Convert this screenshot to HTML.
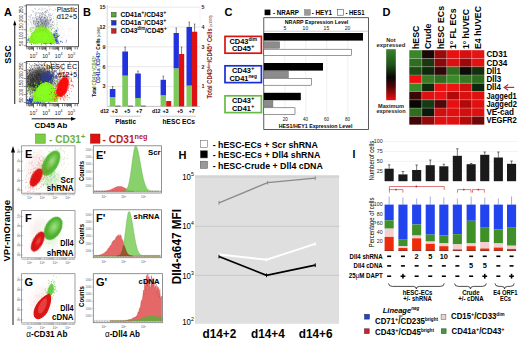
<!DOCTYPE html>
<html><head><meta charset="utf-8"><style>
html,body{margin:0;padding:0;background:#fff;overflow:hidden;}
svg{display:block;font-family:"Liberation Sans", sans-serif;}
</style></head><body>
<svg width="520" height="339" viewBox="0 0 520 339">
<rect width="520" height="339" fill="#fff"/>
<defs>
<filter id="b05" x="-50%" y="-50%" width="200%" height="200%"><feGaussianBlur stdDeviation="0.5"/></filter>
<filter id="b1" x="-50%" y="-50%" width="200%" height="200%"><feGaussianBlur stdDeviation="1"/></filter>
<filter id="b2" x="-50%" y="-50%" width="200%" height="200%"><feGaussianBlur stdDeviation="2"/></filter>
<filter id="b3" x="-50%" y="-50%" width="200%" height="200%"><feGaussianBlur stdDeviation="3"/></filter>
<linearGradient id="hg" x1="0" y1="0" x2="0" y2="1"><stop offset="0" stop-color="#38822a"/><stop offset="0.3" stop-color="#22541a"/><stop offset="0.55" stop-color="#060604"/><stop offset="0.72" stop-color="#4a0606"/><stop offset="1" stop-color="#ee1010"/></linearGradient>
<radialGradient id="gG" cx="0.5" cy="0.45" r="0.55"><stop offset="0" stop-color="#a6e08a"/><stop offset="0.6" stop-color="#6cc44a"/><stop offset="1" stop-color="#4aab2a"/></radialGradient>
<radialGradient id="gR" cx="0.55" cy="0.45" r="0.55"><stop offset="0" stop-color="#ee5050"/><stop offset="0.6" stop-color="#e01818"/><stop offset="1" stop-color="#cc1010"/></radialGradient>
<clipPath id="cA1"><rect x="26.8" y="5.4" width="51.2" height="40.8"/></clipPath>
<clipPath id="cA2"><rect x="26.8" y="62" width="51.2" height="41"/></clipPath>
<clipPath id="cE"><rect x="22" y="146.2" width="52.6" height="46.4"/></clipPath>
<clipPath id="cF"><rect x="22" y="211" width="52.6" height="46.3"/></clipPath>
<clipPath id="cG"><rect x="22" y="274.1" width="52.6" height="48.2"/></clipPath>
</defs>
<text x="4" y="16" font-size="11" font-weight="bold" text-anchor="start" fill="#000" >A</text>
<text transform="translate(11 63.7) rotate(-90)" font-size="8.6" font-weight="bold" fill="#000" text-anchor="start" textLength="18.5" lengthAdjust="spacingAndGlyphs">SSC</text>
<line x1="14.75" y1="104.00" x2="14.75" y2="24.00" stroke="#000" stroke-width="0.9" />
<path d="M13.2,25.3 L14.75,20.2 L16.3,25.3 Z" fill="#000"/>
<rect x="26.30" y="4.90" width="52.20" height="41.80" fill="#fff" stroke="#444" stroke-width="0.9"/>
<path d="M26.91,47.2v2.2M28.49,47.2v2.2M29.71,47.2v2.8M30.70,47.2v2.2M31.55,47.2v2.2M32.28,47.2v2.2M32.92,47.2v2.2M37.29,47.2v2.2M39.51,47.2v2.2M41.09,47.2v2.2M42.31,47.2v2.8M43.30,47.2v2.2M44.15,47.2v2.2M44.88,47.2v2.2M45.52,47.2v2.2M33.50,47.2v3.6M49.89,47.2v2.2M52.11,47.2v2.2M53.69,47.2v2.2M54.91,47.2v2.8M55.90,47.2v2.2M56.75,47.2v2.2M57.48,47.2v2.2M58.12,47.2v2.2M46.10,47.2v3.6M62.49,47.2v2.2M64.71,47.2v2.2M66.29,47.2v2.2M67.51,47.2v2.8M68.50,47.2v2.2M69.35,47.2v2.2M70.08,47.2v2.2M70.72,47.2v2.2M58.70,47.2v3.6M75.09,47.2v2.2M77.31,47.2v2.2M71.30,47.2v3.6" stroke="#000" stroke-width="0.55" fill="none"/>
<text x="33.5" y="58.3" font-size="5.2" font-weight="normal" text-anchor="middle" fill="#222" >10<tspan baseline-shift="2.6" font-size="3.6">2</tspan></text>
<text x="46.1" y="58.3" font-size="5.2" font-weight="normal" text-anchor="middle" fill="#222" >10<tspan baseline-shift="2.6" font-size="3.6">3</tspan></text>
<text x="58.7" y="58.3" font-size="5.2" font-weight="normal" text-anchor="middle" fill="#222" >10<tspan baseline-shift="2.6" font-size="3.6">4</tspan></text>
<text x="71.3" y="58.3" font-size="5.2" font-weight="normal" text-anchor="middle" fill="#222" >10<tspan baseline-shift="2.6" font-size="3.6">5</tspan></text>
<path d="M23.80,45.70h2.5M23.80,37.74h2.5M23.80,29.78h2.5M23.80,21.82h2.5M23.80,13.86h2.5M23.80,5.90h2.5" stroke="#333" stroke-width="0.5" fill="none"/>
<text transform="translate(22.9 45.7) rotate(-90)" font-size="4.6" font-weight="normal" fill="#222" text-anchor="start" textLength="39.800000000000004" lengthAdjust="spacingAndGlyphs">50 100 150 200 250</text>
<g clip-path="url(#cA1)">
<ellipse cx="42" cy="24" rx="8" ry="7" fill="#8890b0" opacity="0.35" transform="rotate(0 42 24)" filter="url(#b2)"/>
<path d="M40.5,25.3h0.5M40.6,20.0h0.5M36.4,20.6h0.5M48.7,24.8h0.5M48.2,23.6h0.5M44.4,23.2h0.5M32.0,27.6h0.5M45.0,25.2h0.5M31.9,10.7h0.5M36.7,19.0h0.5M43.8,21.7h0.5M45.1,17.8h0.5M43.9,24.6h0.5M38.0,33.2h0.5M45.3,29.8h0.5M38.3,17.2h0.5M39.9,21.3h0.5M45.8,23.6h0.5M39.3,15.8h0.5M38.9,29.9h0.5M37.2,23.6h0.5M44.6,12.3h0.5M42.3,30.5h0.5M29.9,19.9h0.5M41.4,16.7h0.5M45.0,21.6h0.5M33.2,27.4h0.5M46.0,28.1h0.5M50.6,24.4h0.5M42.7,13.6h0.5M45.7,18.0h0.5M39.3,13.8h0.5M36.2,18.5h0.5M49.7,8.8h0.5M33.3,23.6h0.5M50.7,25.8h0.5M30.6,5.6h0.5M44.1,17.2h0.5M35.3,28.4h0.5M48.6,23.0h0.5M43.5,24.8h0.5M51.6,26.0h0.5M45.1,25.6h0.5M32.6,30.3h0.5M47.7,25.4h0.5M30.2,17.9h0.5M47.1,10.2h0.5M40.9,28.6h0.5M34.1,32.5h0.5M45.3,21.0h0.5M43.9,26.2h0.5M42.7,29.4h0.5M38.0,19.3h0.5M48.3,22.2h0.5M36.7,28.2h0.5M50.8,19.1h0.5M33.7,21.1h0.5M41.1,20.1h0.5M50.4,15.3h0.5M49.6,13.8h0.5M37.3,26.1h0.5M48.8,27.6h0.5M44.1,22.9h0.5M42.9,25.7h0.5M40.9,23.8h0.5M45.4,22.0h0.5M46.6,25.7h0.5M54.1,24.1h0.5M39.4,19.6h0.5M41.9,28.0h0.5M40.0,24.5h0.5M53.0,5.3h0.5M35.3,23.6h0.5M44.4,23.6h0.5M39.4,26.3h0.5M43.7,18.6h0.5M56.6,24.3h0.5M38.7,21.4h0.5M40.6,21.6h0.5M25.6,18.8h0.5M48.1,14.4h0.5M41.6,28.2h0.5M47.1,31.7h0.5M31.8,19.7h0.5M40.0,26.1h0.5M48.6,4.6h0.5M48.5,12.6h0.5M46.1,12.3h0.5M43.1,29.8h0.5M41.1,23.2h0.5M46.8,22.9h0.5M41.5,32.0h0.5M48.3,20.1h0.5M58.5,14.5h0.5M47.5,20.3h0.5M42.8,26.6h0.5M43.3,26.2h0.5M32.8,12.2h0.5M45.7,15.7h0.5M35.8,12.4h0.5M49.6,26.9h0.5M50.8,15.9h0.5M42.0,14.6h0.5M46.6,32.3h0.5M36.7,32.1h0.5M47.9,20.8h0.5M30.2,31.1h0.5M41.4,18.1h0.5M44.4,24.7h0.5M51.0,15.4h0.5M48.8,31.7h0.5M50.7,20.8h0.5M37.5,28.6h0.5M42.7,22.8h0.5M50.5,20.3h0.5M28.2,19.5h0.5M30.9,27.3h0.5M43.9,18.0h0.5M41.9,27.4h0.5M42.5,30.6h0.5M41.6,28.8h0.5M50.9,32.5h0.5M38.0,27.7h0.5M30.7,15.0h0.5M30.2,28.9h0.5M34.6,21.9h0.5M40.8,21.8h0.5M38.5,23.5h0.5M52.7,22.3h0.5M45.2,28.5h0.5M40.8,13.8h0.5M38.7,29.0h0.5M32.1,18.1h0.5M48.0,27.2h0.5M42.0,27.2h0.5M43.0,14.3h0.5M32.6,17.8h0.5M47.5,18.3h0.5M36.6,17.0h0.5M32.8,21.2h0.5M34.9,24.4h0.5M27.8,24.1h0.5M38.2,9.4h0.5M46.3,20.2h0.5M28.6,16.3h0.5M43.7,19.0h0.5M46.7,26.9h0.5M46.0,24.1h0.5M50.0,26.3h0.5M44.7,8.5h0.5M47.4,30.5h0.5M40.2,18.9h0.5M53.6,10.6h0.5M44.8,37.8h0.5M36.4,26.5h0.5M53.3,21.2h0.5M45.4,27.9h0.5M36.6,21.4h0.5M43.8,27.4h0.5M41.8,20.7h0.5M35.9,19.7h0.5M47.4,22.7h0.5M36.9,16.5h0.5M58.0,29.4h0.5M45.8,5.1h0.5M45.7,25.1h0.5M52.1,24.8h0.5M41.6,25.4h0.5M30.3,28.7h0.5M43.9,17.4h0.5M50.0,33.8h0.5M33.6,17.7h0.5M43.7,23.2h0.5M39.6,15.7h0.5M54.7,28.7h0.5M34.8,13.3h0.5M52.2,28.4h0.5M52.9,27.3h0.5M36.8,23.7h0.5M29.0,17.1h0.5M41.6,25.4h0.5M37.6,21.2h0.5M44.8,24.4h0.5M45.8,23.4h0.5M40.1,27.1h0.5M42.3,16.6h0.5M38.2,22.0h0.5M41.3,23.0h0.5M42.0,23.1h0.5M41.2,13.8h0.5M44.5,28.8h0.5M44.6,20.8h0.5M44.7,15.7h0.5M30.6,22.4h0.5M36.4,26.8h0.5M35.5,4.9h0.5M35.8,32.3h0.5M39.7,13.1h0.5M37.4,25.4h0.5M45.0,23.1h0.5M50.9,26.6h0.5M41.9,25.9h0.5M51.9,28.3h0.5M48.1,15.0h0.5M41.1,26.7h0.5M40.2,28.9h0.5M45.6,27.9h0.5M40.7,38.6h0.5M49.4,20.6h0.5M42.5,38.9h0.5M39.9,27.7h0.5M47.9,22.0h0.5M35.0,23.2h0.5M44.2,29.3h0.5M46.7,22.2h0.5M47.1,25.5h0.5M43.2,22.4h0.5M40.5,26.5h0.5M35.7,17.9h0.5M42.0,12.5h0.5M39.4,8.9h0.5M37.9,25.7h0.5M45.4,21.6h0.5M40.6,12.8h0.5M53.0,25.4h0.5M48.6,16.3h0.5M40.9,10.2h0.5M46.7,28.1h0.5M30.6,21.7h0.5M45.8,10.5h0.5M31.0,15.1h0.5M38.2,12.9h0.5M42.2,23.6h0.5M45.8,26.6h0.5M51.0,29.6h0.5M34.1,18.7h0.5M35.6,15.0h0.5M41.5,22.0h0.5M44.9,11.7h0.5M34.6,21.8h0.5M40.8,20.0h0.5M41.6,17.1h0.5M46.2,24.3h0.5M41.5,17.6h0.5M41.0,4.3h0.5M36.1,22.2h0.5M33.0,23.3h0.5M42.9,13.0h0.5M40.5,20.0h0.5M44.8,26.0h0.5M41.8,16.5h0.5M41.1,21.6h0.5M46.4,23.9h0.5M37.7,13.2h0.5M39.8,17.2h0.5M35.3,21.2h0.5M39.1,22.7h0.5M45.1,19.3h0.5M55.9,19.9h0.5M48.6,22.8h0.5M48.7,6.6h0.5M37.5,23.6h0.5M45.6,37.2h0.5M43.9,30.3h0.5M46.6,28.2h0.5M45.1,21.0h0.5M45.1,15.0h0.5M49.1,15.4h0.5M43.5,35.8h0.5M40.7,22.1h0.5M49.0,22.2h0.5M37.2,23.7h0.5M45.5,26.6h0.5M37.4,33.4h0.5M52.0,22.1h0.5M43.6,19.2h0.5M50.5,17.4h0.5M46.0,18.9h0.5M37.8,26.7h0.5M50.0,21.9h0.5M37.9,27.3h0.5M41.7,24.0h0.5M51.1,29.4h0.5M38.9,36.8h0.5M42.0,27.1h0.5M38.1,21.7h0.5M31.5,33.6h0.5M50.2,14.1h0.5M33.0,11.5h0.5M49.1,19.0h0.5M41.6,20.0h0.5M41.3,14.9h0.5M42.1,12.7h0.5M41.6,24.0h0.5M44.8,20.5h0.5M36.6,23.0h0.5M39.1,32.2h0.5M46.6,21.3h0.5M39.2,17.4h0.5M36.4,19.7h0.5M43.8,25.4h0.5M45.4,35.6h0.5M37.8,22.1h0.5M58.8,9.9h0.5M38.9,23.1h0.5M42.9,24.7h0.5M40.6,24.4h0.5M42.3,27.0h0.5M30.6,16.2h0.5M42.0,15.3h0.5M35.7,26.1h0.5M38.1,26.1h0.5M46.5,24.0h0.5M45.0,21.3h0.5M33.5,21.8h0.5M44.7,18.6h0.5M41.4,26.9h0.5M36.7,26.2h0.5M53.2,18.4h0.5M42.9,21.0h0.5M51.2,24.1h0.5M47.4,17.5h0.5M41.9,21.9h0.5M31.3,31.4h0.5M47.4,10.6h0.5M46.5,21.1h0.5M44.7,24.4h0.5M33.0,20.6h0.5M51.0,18.3h0.5M35.9,13.2h0.5M34.7,24.2h0.5M52.2,24.8h0.5M43.5,36.5h0.5M38.9,17.6h0.5M45.2,25.6h0.5M35.9,14.4h0.5M43.7,23.6h0.5M34.2,20.7h0.5M38.7,25.0h0.5M41.3,21.4h0.5M39.9,28.8h0.5M50.3,19.6h0.5M47.1,17.1h0.5M42.4,26.9h0.5M51.1,19.5h0.5M41.6,23.3h0.5M33.0,22.1h0.5M37.9,24.4h0.5M35.2,9.2h0.5M42.2,23.7h0.5M38.7,27.8h0.5M40.4,18.1h0.5M44.9,11.8h0.5M37.9,21.9h0.5M47.1,20.9h0.5M43.9,17.7h0.5M43.8,32.8h0.5M37.9,37.4h0.5M38.1,22.1h0.5M43.0,28.7h0.5M34.6,8.3h0.5M45.6,27.2h0.5M45.7,39.1h0.5M43.2,23.7h0.5M47.6,24.4h0.5M52.0,14.0h0.5M39.7,-0.4h0.5M46.9,19.6h0.5M47.5,36.0h0.5M42.0,20.3h0.5M39.0,16.6h0.5M38.2,26.2h0.5M42.2,22.4h0.5M41.0,27.9h0.5M45.0,21.1h0.5M46.0,21.0h0.5M35.1,31.5h0.5M44.8,15.8h0.5M48.5,24.2h0.5M32.6,32.5h0.5M44.0,27.8h0.5M43.2,21.0h0.5M32.7,28.3h0.5M42.2,20.1h0.5M44.1,22.5h0.5M46.1,19.6h0.5M41.8,8.1h0.5M39.5,26.4h0.5M50.0,19.6h0.5M41.3,32.3h0.5M40.0,26.8h0.5M52.1,22.3h0.5M49.4,17.4h0.5M43.2,21.5h0.5M42.7,29.3h0.5M56.3,17.7h0.5M38.5,25.2h0.5M35.7,25.2h0.5M45.4,20.2h0.5M45.2,11.9h0.5M46.6,12.0h0.5M37.8,18.4h0.5M39.6,27.6h0.5M42.5,19.4h0.5M45.3,32.3h0.5M42.0,24.4h0.5M49.4,23.7h0.5M34.3,38.2h0.5M55.3,9.1h0.5M41.8,24.7h0.5M47.8,26.3h0.5M40.4,15.2h0.5M42.6,28.7h0.5M35.5,15.3h0.5M41.9,9.4h0.5M40.4,19.2h0.5M44.7,17.4h0.5M36.7,19.4h0.5M41.7,17.7h0.5M42.1,26.9h0.5M49.1,33.1h0.5M37.3,19.3h0.5M27.1,34.3h0.5M37.7,21.8h0.5M45.1,13.2h0.5M44.8,21.8h0.5M31.0,23.9h0.5M49.2,9.9h0.5M46.8,23.4h0.5M44.8,24.9h0.5M49.8,20.5h0.5M47.2,19.3h0.5M46.4,16.7h0.5M41.3,33.3h0.5M44.7,21.0h0.5M35.1,16.9h0.5M43.2,28.1h0.5M44.6,25.4h0.5M41.7,30.8h0.5M39.7,18.4h0.5M47.3,22.4h0.5M40.3,18.3h0.5M40.5,26.1h0.5M44.1,14.1h0.5M44.6,23.2h0.5M36.0,27.0h0.5M40.3,19.8h0.5M46.8,30.6h0.5M37.9,24.8h0.5M36.7,37.0h0.5" stroke="#4a5070" stroke-width="0.9" opacity="0.7" fill="none"/>
<path d="M48.1,39.9h0.3M46.2,36.1h0.3M80.6,2.6h0.3M48.8,33.0h0.3M52.9,21.3h0.3M79.8,28.8h0.3M34.3,36.5h0.3M33.3,39.5h0.3M47.1,29.4h0.3M69.1,29.2h0.3M37.3,11.0h0.3M68.2,35.4h0.3M44.2,36.6h0.3M60.0,34.5h0.3M26.9,25.0h0.3M64.8,35.3h0.3M64.6,3.4h0.3M56.0,32.9h0.3M84.6,18.5h0.3M50.0,28.4h0.3M64.6,23.6h0.3M67.8,20.1h0.3M57.2,22.7h0.3M55.9,21.1h0.3M34.8,38.9h0.3M57.6,22.4h0.3M56.4,37.9h0.3M42.3,26.9h0.3M60.5,33.3h0.3M50.0,6.9h0.3M68.9,31.3h0.3M54.2,25.2h0.3M57.2,23.7h0.3M41.7,20.6h0.3M46.8,21.9h0.3M40.1,34.4h0.3M38.3,34.6h0.3M41.8,31.5h0.3M70.5,30.0h0.3M45.2,28.5h0.3M55.8,10.7h0.3M46.7,29.6h0.3M48.4,28.8h0.3M62.8,35.7h0.3M64.9,33.9h0.3M50.5,27.8h0.3M50.7,24.9h0.3M51.8,10.8h0.3M50.0,27.8h0.3M42.3,27.8h0.3M60.2,26.4h0.3M78.9,1.9h0.3M51.5,9.7h0.3M65.8,54.5h0.3M24.0,29.3h0.3M60.2,25.0h0.3M60.6,5.6h0.3M64.2,31.7h0.3M54.3,22.1h0.3M61.7,23.1h0.3M56.7,22.9h0.3M27.0,27.7h0.3M56.4,35.5h0.3M43.5,27.7h0.3M61.4,29.5h0.3M68.9,47.9h0.3M43.1,8.8h0.3M64.3,43.3h0.3M65.1,36.1h0.3M46.6,20.9h0.3M64.7,18.9h0.3M32.2,18.0h0.3M83.9,47.2h0.3M45.8,20.7h0.3M56.8,20.5h0.3M69.7,27.2h0.3M41.0,41.1h0.3M47.0,30.2h0.3M53.8,24.9h0.3M57.9,21.1h0.3M31.9,5.9h0.3M38.8,20.4h0.3M53.7,28.6h0.3M60.7,29.2h0.3M44.5,20.9h0.3M28.6,26.3h0.3M59.8,33.3h0.3M52.5,26.3h0.3M65.2,28.2h0.3M62.9,33.8h0.3M56.6,41.1h0.3M47.1,24.4h0.3M44.3,20.0h0.3M72.7,45.6h0.3M54.3,33.7h0.3M68.1,36.1h0.3M68.5,15.4h0.3M46.3,32.5h0.3M71.2,29.0h0.3M43.7,24.5h0.3M46.1,19.4h0.3M72.0,21.7h0.3M54.2,49.6h0.3M68.2,31.4h0.3M46.7,32.1h0.3M73.5,34.2h0.3M69.1,29.0h0.3M60.2,26.0h0.3M59.1,41.0h0.3M36.8,27.4h0.3M56.9,22.3h0.3M50.3,35.9h0.3M78.0,34.3h0.3M57.9,12.5h0.3M77.1,28.8h0.3M53.6,16.8h0.3M53.3,17.0h0.3M54.9,32.7h0.3M54.4,30.8h0.3M43.8,42.3h0.3M46.2,9.8h0.3M51.7,20.4h0.3M41.9,24.5h0.3M57.5,16.2h0.3M52.3,42.3h0.3M62.2,26.5h0.3M55.5,26.8h0.3M53.4,35.3h0.3M52.9,4.0h0.3M53.7,19.1h0.3M61.8,21.9h0.3M55.8,49.8h0.3M41.4,16.8h0.3M37.1,4.1h0.3M31.5,31.6h0.3M46.3,9.3h0.3M36.2,34.2h0.3M44.7,24.3h0.3M58.0,41.6h0.3M77.3,38.3h0.3M55.7,29.8h0.3M75.6,42.3h0.3M50.3,32.6h0.3M57.4,28.5h0.3M48.0,14.7h0.3M47.6,12.6h0.3M68.7,33.4h0.3M39.5,42.0h0.3M64.7,8.9h0.3M76.1,36.1h0.3M78.8,15.7h0.3M60.4,32.2h0.3M56.4,29.7h0.3M66.6,13.1h0.3M39.1,14.1h0.3M47.3,21.9h0.3M58.4,30.7h0.3M54.4,21.2h0.3M48.7,37.5h0.3M63.2,29.0h0.3M50.1,43.5h0.3M46.9,34.5h0.3M67.8,25.3h0.3M63.9,16.8h0.3M66.2,30.0h0.3M35.0,34.7h0.3M43.3,40.8h0.3M45.9,26.4h0.3M57.4,24.7h0.3M57.1,22.5h0.3M62.1,28.1h0.3M56.5,0.5h0.3M67.9,28.3h0.3M32.6,29.0h0.3M59.6,38.7h0.3M41.0,43.5h0.3M52.1,51.9h0.3M52.2,34.8h0.3M49.6,16.8h0.3M67.2,37.1h0.3M72.5,36.6h0.3M47.1,11.4h0.3M46.2,21.2h0.3M44.2,33.8h0.3M57.9,25.3h0.3M56.1,26.5h0.3M56.6,35.5h0.3M65.5,21.1h0.3M35.9,42.3h0.3M55.4,39.1h0.3M34.3,24.7h0.3M54.3,13.6h0.3M47.8,35.2h0.3M66.9,43.9h0.3M43.6,14.0h0.3M60.2,37.4h0.3M56.3,15.0h0.3M63.4,35.9h0.3M60.6,23.1h0.3M57.6,35.9h0.3" stroke="#99a" stroke-width="0.7" opacity="0.6" fill="none"/>
<path d="M37.5,38.8h0.6M44.6,41.8h0.6M42.1,42.4h0.6M37.3,41.1h0.6M39.6,41.9h0.6M54.8,40.9h0.6M58.4,43.2h0.6M48.3,42.0h0.6M56.2,41.0h0.6M41.1,39.8h0.6M45.8,42.9h0.6M46.3,41.8h0.6M40.4,41.4h0.6M30.6,42.6h0.6M38.7,39.8h0.6M36.0,40.1h0.6M48.8,42.6h0.6M31.1,42.4h0.6M49.1,40.4h0.6M30.1,40.2h0.6M36.9,41.6h0.6M39.1,38.6h0.6M43.9,39.2h0.6M49.2,39.6h0.6M36.5,40.1h0.6M37.7,42.9h0.6M48.8,42.0h0.6M44.6,39.2h0.6M37.8,40.5h0.6M34.2,41.9h0.6M36.1,40.3h0.6M33.6,38.5h0.6M46.8,42.9h0.6M43.4,39.9h0.6M20.4,41.4h0.6M51.7,41.6h0.6M49.4,43.1h0.6M51.0,40.6h0.6M50.4,42.2h0.6M29.7,40.7h0.6M30.6,41.1h0.6M46.6,39.8h0.6M25.6,42.9h0.6M45.0,43.1h0.6M31.4,42.6h0.6M58.6,43.8h0.6M40.3,41.5h0.6M40.8,42.5h0.6M50.3,41.3h0.6M31.1,42.2h0.6M38.2,42.0h0.6M44.1,43.3h0.6M51.1,40.6h0.6M44.8,43.5h0.6M37.7,41.8h0.6M51.5,42.8h0.6M46.1,39.5h0.6M31.9,41.5h0.6M45.1,44.5h0.6M35.1,42.7h0.6M48.2,39.0h0.6M35.5,41.4h0.6M38.1,41.0h0.6M45.8,40.1h0.6M45.7,40.4h0.6M37.6,41.9h0.6M37.4,41.6h0.6M54.8,41.2h0.6M40.8,42.2h0.6M39.1,42.6h0.6M31.7,42.0h0.6M37.9,40.2h0.6M56.2,40.1h0.6M56.1,42.1h0.6M53.6,39.9h0.6M51.6,43.1h0.6M41.1,41.0h0.6M61.6,41.4h0.6M38.6,40.4h0.6M45.6,41.6h0.6M43.4,43.4h0.6M39.4,41.8h0.6M53.7,39.9h0.6M50.3,43.6h0.6M31.2,39.8h0.6M33.7,38.8h0.6M45.6,38.8h0.6M46.0,43.1h0.6M29.1,40.8h0.6M26.7,42.2h0.6M36.1,40.9h0.6M42.4,41.9h0.6M39.2,41.2h0.6M37.6,41.3h0.6M32.6,41.3h0.6M26.5,40.6h0.6M57.3,41.3h0.6M31.9,41.5h0.6M34.2,39.1h0.6M36.1,42.2h0.6M45.1,41.1h0.6M34.6,39.8h0.6M52.8,41.5h0.6M34.4,38.5h0.6M31.0,44.4h0.6M32.8,41.1h0.6M43.7,41.0h0.6M39.8,39.4h0.6M33.6,43.4h0.6M35.9,42.3h0.6M28.4,40.8h0.6M44.1,42.5h0.6M33.0,42.0h0.6M45.1,40.2h0.6M45.8,40.0h0.6M35.6,41.2h0.6M20.3,41.1h0.6M34.0,39.3h0.6M38.6,42.2h0.6M38.8,42.8h0.6M32.7,39.5h0.6M54.4,41.7h0.6M49.6,40.1h0.6M48.4,41.5h0.6M47.2,41.2h0.6M51.7,40.4h0.6M34.3,39.3h0.6M51.3,40.2h0.6M33.7,40.0h0.6M38.4,39.5h0.6M39.7,40.4h0.6M37.6,40.0h0.6M42.3,40.6h0.6M42.9,41.5h0.6M44.7,38.4h0.6M37.7,40.2h0.6M48.2,39.1h0.6M36.3,40.8h0.6M39.3,42.5h0.6M38.5,42.5h0.6M30.3,38.8h0.6M51.8,41.8h0.6M45.9,41.4h0.6M45.9,39.6h0.6M49.6,40.5h0.6M49.9,41.3h0.6M26.2,39.5h0.6M51.0,41.0h0.6M38.8,41.5h0.6M38.6,40.5h0.6M42.8,41.4h0.6M54.1,41.3h0.6M57.0,43.5h0.6M55.7,42.6h0.6M43.0,41.4h0.6M40.9,40.2h0.6M41.5,40.4h0.6M55.1,41.9h0.6M38.4,38.7h0.6M41.6,40.7h0.6M33.3,39.7h0.6M24.0,41.9h0.6M41.5,44.6h0.6M41.8,41.0h0.6M53.6,41.4h0.6M43.3,40.7h0.6M37.2,43.1h0.6M50.0,43.4h0.6M39.2,41.2h0.6M35.0,42.5h0.6M30.9,41.9h0.6M50.8,43.0h0.6M34.5,42.6h0.6M36.3,40.2h0.6M31.4,42.7h0.6M55.2,40.4h0.6M35.9,40.8h0.6M62.1,42.5h0.6M37.7,38.9h0.6M36.6,42.7h0.6M56.9,40.9h0.6M36.5,40.5h0.6M26.9,42.4h0.6M33.3,42.6h0.6M28.3,39.5h0.6M44.3,40.2h0.6M48.3,41.2h0.6M32.6,42.0h0.6M48.7,38.7h0.6M56.6,41.8h0.6M48.1,38.8h0.6M36.2,40.7h0.6M50.6,39.3h0.6M34.9,38.6h0.6M40.1,41.6h0.6M28.5,40.4h0.6M46.1,43.3h0.6M47.3,40.8h0.6M32.6,40.0h0.6M36.7,41.4h0.6M41.6,43.4h0.6M44.3,39.8h0.6M54.4,42.4h0.6M42.8,40.3h0.6M27.0,39.9h0.6M49.3,40.2h0.6M31.4,41.5h0.6M44.0,42.0h0.6M47.2,43.0h0.6M35.3,42.5h0.6M34.1,42.1h0.6M43.4,41.5h0.6M49.7,41.2h0.6M50.9,42.3h0.6M43.1,40.5h0.6M36.0,40.5h0.6M40.4,41.2h0.6M65.8,42.0h0.6M48.2,40.1h0.6M36.3,40.8h0.6M43.5,39.9h0.6M54.9,40.5h0.6M50.6,38.2h0.6M41.9,41.6h0.6M43.5,42.0h0.6M44.2,41.4h0.6M26.9,40.3h0.6M23.3,42.0h0.6M44.5,40.9h0.6M35.4,40.4h0.6M56.8,43.5h0.6M41.5,42.9h0.6M29.3,38.7h0.6M38.1,40.1h0.6M37.5,41.4h0.6M66.2,40.3h0.6M42.4,41.6h0.6M41.7,42.4h0.6M56.2,39.6h0.6M43.3,40.9h0.6M44.9,39.2h0.6M27.9,38.2h0.6M46.2,41.4h0.6M42.6,38.1h0.6M39.0,40.2h0.6M30.7,40.0h0.6M47.6,41.9h0.6M41.8,41.9h0.6M37.2,41.3h0.6M42.3,41.9h0.6M41.4,41.0h0.6M40.9,40.4h0.6M59.9,41.9h0.6M45.4,44.2h0.6M53.2,39.2h0.6M47.6,42.3h0.6M57.1,42.9h0.6M48.2,39.7h0.6M35.0,41.5h0.6M46.0,39.9h0.6M38.9,40.7h0.6M42.5,41.6h0.6M39.7,39.6h0.6M51.9,43.3h0.6M41.2,42.5h0.6M45.6,42.1h0.6M45.9,40.2h0.6M46.6,42.5h0.6M34.8,43.8h0.6M58.7,43.6h0.6M57.9,42.2h0.6M39.3,40.4h0.6M35.5,41.4h0.6M41.7,42.1h0.6M25.8,44.2h0.6M60.2,41.2h0.6M47.4,41.8h0.6M44.2,40.9h0.6M41.0,40.1h0.6M43.4,41.2h0.6M44.6,40.1h0.6M42.3,41.3h0.6M46.8,39.8h0.6M45.4,42.5h0.6M46.8,40.7h0.6M38.1,40.9h0.6M47.8,43.2h0.6M40.7,40.4h0.6M45.0,41.5h0.6M34.7,40.2h0.6M41.2,42.1h0.6M32.5,39.9h0.6M46.0,39.6h0.6M42.9,41.7h0.6M41.1,39.9h0.6M41.5,40.8h0.6M44.7,40.1h0.6M50.7,39.0h0.6M40.6,41.2h0.6M49.7,40.4h0.6" stroke="#2244aa" stroke-width="1.1" opacity="1" fill="none"/>
<path d="M55.7,35.5h0.5M56.1,43.6h0.5M53.6,39.1h0.5M52.5,40.9h0.5M57.2,37.6h0.5M52.0,38.9h0.5M57.0,41.3h0.5M56.3,31.1h0.5M53.0,42.5h0.5M51.8,41.5h0.5M58.6,40.2h0.5M57.0,36.3h0.5M51.8,37.1h0.5M54.1,37.3h0.5M56.0,37.0h0.5M54.9,39.0h0.5M54.5,44.0h0.5M55.5,37.8h0.5M54.0,35.3h0.5M57.5,38.0h0.5M52.1,35.5h0.5M54.2,35.9h0.5M56.9,33.4h0.5M55.6,38.0h0.5M51.9,37.7h0.5M54.3,39.3h0.5M53.5,38.6h0.5M50.8,33.7h0.5M56.2,41.1h0.5M54.5,35.4h0.5M56.9,30.2h0.5M52.7,39.9h0.5M55.9,33.9h0.5M50.3,42.6h0.5M54.8,34.4h0.5M54.6,40.7h0.5M48.8,41.4h0.5M56.1,30.2h0.5M56.2,31.3h0.5M57.0,38.9h0.5M59.5,35.4h0.5M54.5,41.2h0.5M53.1,35.0h0.5M53.7,37.2h0.5M52.1,39.2h0.5M55.7,37.8h0.5M58.2,36.4h0.5M57.4,35.6h0.5M56.2,30.7h0.5M54.9,36.9h0.5M53.4,35.4h0.5M53.7,35.0h0.5M49.7,35.4h0.5M53.3,35.7h0.5M52.2,37.0h0.5M56.2,36.6h0.5M53.4,42.3h0.5M56.6,40.7h0.5M57.0,36.4h0.5M54.2,41.4h0.5M53.3,37.1h0.5M55.3,38.8h0.5M53.9,40.9h0.5M54.1,40.0h0.5M56.9,39.8h0.5M56.1,33.4h0.5M51.6,35.3h0.5M55.5,42.8h0.5M51.8,38.6h0.5M52.6,34.9h0.5M53.9,39.9h0.5M55.0,41.6h0.5M52.3,40.6h0.5M56.5,37.7h0.5M55.5,35.5h0.5M52.1,36.1h0.5M53.1,47.6h0.5M53.4,43.3h0.5M54.9,38.6h0.5M56.1,34.8h0.5M56.5,38.8h0.5M51.2,39.6h0.5M55.7,39.1h0.5M58.0,36.0h0.5M55.6,40.1h0.5M52.5,41.7h0.5M51.3,32.9h0.5M55.6,33.7h0.5M54.2,31.7h0.5M54.7,33.5h0.5M55.3,32.1h0.5M55.5,36.6h0.5M54.6,37.3h0.5M54.8,32.9h0.5M48.9,37.6h0.5M52.4,35.9h0.5M55.4,30.6h0.5M52.8,35.4h0.5M52.2,38.6h0.5M54.2,34.6h0.5M52.3,40.3h0.5M53.0,39.5h0.5M55.5,30.9h0.5M52.1,37.5h0.5M55.3,40.2h0.5M56.3,41.1h0.5M53.7,36.8h0.5M56.2,36.0h0.5M56.8,31.9h0.5M55.9,36.9h0.5M50.2,40.9h0.5M55.2,37.6h0.5M52.1,35.9h0.5M57.8,34.6h0.5M46.9,34.5h0.5M51.9,37.0h0.5M53.6,34.3h0.5M52.6,41.2h0.5M51.3,44.3h0.5M53.3,33.7h0.5M56.2,39.5h0.5M52.2,40.1h0.5M50.5,34.3h0.5M57.0,36.6h0.5M51.6,39.3h0.5M56.5,37.4h0.5M50.5,36.3h0.5M55.4,40.2h0.5M58.6,36.6h0.5M53.4,37.4h0.5M57.2,34.2h0.5M57.4,27.9h0.5M56.3,35.1h0.5M55.5,39.9h0.5M51.9,37.2h0.5M55.0,39.6h0.5M52.5,34.0h0.5M50.3,46.4h0.5M54.1,36.7h0.5M51.2,40.8h0.5M53.3,42.5h0.5M56.4,37.6h0.5M56.1,33.6h0.5M53.8,35.5h0.5M51.7,37.6h0.5M54.2,42.5h0.5M47.1,35.1h0.5M52.5,35.9h0.5M55.4,38.9h0.5M54.6,35.8h0.5M55.6,38.8h0.5M50.4,36.6h0.5M51.5,33.4h0.5M54.8,37.7h0.5M54.8,34.4h0.5M54.1,34.3h0.5M55.3,39.9h0.5M58.4,41.9h0.5M52.7,35.9h0.5M52.4,38.6h0.5" stroke="#2244aa" stroke-width="1.0" opacity="1" fill="none"/>
<path d="M28.5,43 C29.5,35 35,28 41,26.6 C47,27.2 53,33.8 56.2,43 Z" fill="#84ec1c" filter="url(#b05)"/>
<path d="M54.9,38.8h0.6M27.7,31.0h0.6M33.6,38.1h0.6M42.0,37.2h0.6M53.6,32.7h0.6M36.5,43.9h0.6M44.2,32.9h0.6M28.8,29.9h0.6M26.1,36.3h0.6M42.3,40.0h0.6M41.1,33.2h0.6M37.2,43.6h0.6M30.5,36.7h0.6M42.2,38.5h0.6M39.4,38.0h0.6M47.3,35.4h0.6M39.0,35.3h0.6M35.7,35.2h0.6M40.0,36.8h0.6M50.7,41.2h0.6M39.1,38.4h0.6M43.9,39.0h0.6M42.1,37.1h0.6M39.0,32.9h0.6M47.7,41.2h0.6M46.3,37.7h0.6M43.7,34.2h0.6M30.4,38.7h0.6M43.3,33.8h0.6M35.7,41.1h0.6M30.3,43.0h0.6M46.2,45.5h0.6M37.3,35.9h0.6M38.7,36.6h0.6M40.6,33.0h0.6M49.0,32.9h0.6M38.7,38.2h0.6M38.5,34.3h0.6M44.3,34.5h0.6M33.9,35.6h0.6M40.6,42.8h0.6M34.9,39.9h0.6M36.9,34.6h0.6M39.9,37.1h0.6M47.6,43.0h0.6M37.9,41.3h0.6M48.5,39.3h0.6M37.1,39.6h0.6M41.3,37.4h0.6M40.3,38.7h0.6M49.2,40.5h0.6M40.7,40.0h0.6M51.4,32.3h0.6M51.6,30.7h0.6M45.5,38.4h0.6M51.6,37.1h0.6M38.9,32.8h0.6M33.9,39.1h0.6M40.5,33.1h0.6M45.5,32.9h0.6M39.2,34.2h0.6M52.8,41.9h0.6M41.0,29.7h0.6M43.8,36.3h0.6M44.3,38.3h0.6M39.9,39.7h0.6M47.4,36.8h0.6M39.4,34.1h0.6M46.5,31.6h0.6M41.0,33.0h0.6M32.9,38.4h0.6M41.8,36.1h0.6M47.7,30.0h0.6M41.6,37.2h0.6M47.4,31.7h0.6M46.7,36.9h0.6M50.8,40.6h0.6M45.6,44.6h0.6M42.0,34.3h0.6M39.8,32.2h0.6M41.8,28.5h0.6M41.5,37.7h0.6M48.4,34.6h0.6M51.0,33.4h0.6M41.1,28.5h0.6M37.1,32.8h0.6M51.5,38.1h0.6M35.0,38.1h0.6M45.1,35.1h0.6M42.1,34.8h0.6M38.6,29.1h0.6M41.4,41.0h0.6M51.1,34.9h0.6M37.3,35.2h0.6M47.7,37.4h0.6M38.3,37.4h0.6M40.7,38.0h0.6M39.4,30.3h0.6M42.4,39.0h0.6M35.0,35.6h0.6M47.6,34.5h0.6M37.9,43.9h0.6M47.3,40.0h0.6M36.0,42.4h0.6M31.5,34.0h0.6M46.7,41.2h0.6M36.1,33.4h0.6M43.2,28.5h0.6M46.0,38.2h0.6M39.2,38.1h0.6M46.9,37.2h0.6M45.3,41.9h0.6M39.0,36.6h0.6M38.7,40.0h0.6M39.4,37.8h0.6M42.9,36.3h0.6M52.8,35.7h0.6M50.9,39.2h0.6M50.3,35.4h0.6M47.8,38.9h0.6M38.1,37.0h0.6M41.2,35.9h0.6M50.2,33.2h0.6M31.4,29.3h0.6M39.2,33.5h0.6M42.1,38.2h0.6M53.0,37.2h0.6M44.9,33.2h0.6M45.6,41.2h0.6M50.4,28.5h0.6M47.6,42.1h0.6M47.2,30.2h0.6M40.1,38.3h0.6M44.6,32.9h0.6M36.4,39.7h0.6M33.6,41.5h0.6M42.1,37.2h0.6M33.7,33.7h0.6M46.3,30.3h0.6M55.0,30.6h0.6M34.4,36.2h0.6M45.0,38.8h0.6M39.7,35.2h0.6M40.5,33.8h0.6M25.9,39.7h0.6M43.6,36.6h0.6M38.1,37.0h0.6M41.9,35.7h0.6M48.9,29.4h0.6M43.6,31.9h0.6M40.0,41.8h0.6M35.2,35.6h0.6M38.3,39.6h0.6M35.9,29.5h0.6M45.2,34.6h0.6M40.0,40.2h0.6M36.5,34.6h0.6M42.9,37.6h0.6M38.8,40.0h0.6M56.0,34.4h0.6M53.7,27.9h0.6M50.8,34.7h0.6M42.9,34.7h0.6M38.0,31.1h0.6M39.5,41.0h0.6M49.1,34.7h0.6M38.7,33.3h0.6M34.5,42.9h0.6M46.1,36.5h0.6M38.9,32.1h0.6M50.2,39.0h0.6M36.1,39.8h0.6M35.1,38.5h0.6M36.0,34.4h0.6M45.1,37.7h0.6M48.3,32.8h0.6M51.9,41.2h0.6M41.9,37.8h0.6M37.1,35.4h0.6M33.8,36.3h0.6M43.2,41.2h0.6M47.9,39.1h0.6M39.7,35.1h0.6M39.9,36.9h0.6M30.0,39.0h0.6M32.2,34.0h0.6M42.1,34.0h0.6M52.4,35.6h0.6M51.8,40.5h0.6M38.9,37.5h0.6M50.1,34.7h0.6M42.6,33.9h0.6M42.4,34.6h0.6M42.5,39.8h0.6M50.7,36.5h0.6M43.3,39.3h0.6M40.2,31.9h0.6M48.9,32.4h0.6M47.8,32.3h0.6M53.4,32.0h0.6M47.3,41.8h0.6M36.0,41.7h0.6M36.9,29.2h0.6M46.5,38.7h0.6M40.7,26.3h0.6M41.7,34.8h0.6M39.6,34.9h0.6M30.8,33.8h0.6M53.2,41.9h0.6M39.7,33.3h0.6M44.5,40.1h0.6M46.5,31.5h0.6M43.0,36.5h0.6M51.0,40.6h0.6M45.3,40.7h0.6M39.5,41.9h0.6M39.3,37.5h0.6M47.7,32.5h0.6M37.6,29.2h0.6M43.0,35.8h0.6M40.0,37.9h0.6M28.8,35.9h0.6M42.5,35.0h0.6M47.0,42.7h0.6M39.2,32.4h0.6M38.2,36.4h0.6M45.7,32.7h0.6M48.2,32.1h0.6M47.2,37.6h0.6M44.9,44.3h0.6M40.4,35.4h0.6M45.0,39.3h0.6M33.6,37.1h0.6M37.4,38.4h0.6M50.5,36.2h0.6M41.3,36.7h0.6M23.6,39.0h0.6M45.5,36.6h0.6M39.5,33.2h0.6M40.9,40.7h0.6M41.4,41.2h0.6M26.0,34.2h0.6M43.7,35.9h0.6M31.6,33.4h0.6M49.8,31.0h0.6M35.8,31.8h0.6M38.6,38.5h0.6M45.7,28.2h0.6M51.1,33.7h0.6M38.3,42.4h0.6M41.5,31.2h0.6M38.0,33.2h0.6M35.7,34.7h0.6M47.5,37.3h0.6M33.4,46.7h0.6M35.8,36.4h0.6M42.2,38.9h0.6M40.0,37.8h0.6M55.1,36.4h0.6M35.2,37.3h0.6M37.0,34.6h0.6M43.2,37.3h0.6M40.2,39.3h0.6M40.8,31.0h0.6M47.5,34.6h0.6M49.6,33.5h0.6M45.6,37.2h0.6M25.2,30.3h0.6M35.0,41.4h0.6M30.2,39.5h0.6M48.8,37.9h0.6M46.2,34.1h0.6M41.9,36.9h0.6M44.6,38.7h0.6M40.7,33.3h0.6M38.5,37.6h0.6M31.6,31.2h0.6M39.4,33.9h0.6M40.3,25.8h0.6M39.9,35.0h0.6M46.8,28.4h0.6M40.1,37.8h0.6M45.1,40.6h0.6M48.6,32.0h0.6M46.0,34.7h0.6M37.0,41.9h0.6M38.1,32.7h0.6M39.5,32.7h0.6M48.3,37.5h0.6M50.8,37.6h0.6M38.2,40.0h0.6M37.9,34.2h0.6M41.0,36.2h0.6M49.5,33.7h0.6M44.2,35.9h0.6M34.1,31.8h0.6M40.6,37.6h0.6M44.0,37.8h0.6M42.3,34.3h0.6M44.7,32.1h0.6M33.6,34.7h0.6M33.0,34.0h0.6M37.3,33.9h0.6M41.7,32.9h0.6M39.4,29.4h0.6M42.9,32.6h0.6M44.5,25.1h0.6M37.0,36.9h0.6M26.7,34.6h0.6M42.6,36.4h0.6M32.6,36.9h0.6M42.9,32.2h0.6M46.7,35.8h0.6M42.1,34.3h0.6M45.4,36.4h0.6M49.1,37.7h0.6M38.1,35.1h0.6M47.8,34.6h0.6M44.4,38.0h0.6M40.9,27.0h0.6M42.8,36.8h0.6M42.9,33.1h0.6M49.6,35.5h0.6M38.1,33.2h0.6M44.3,31.8h0.6M35.7,43.7h0.6M50.2,40.1h0.6M50.6,38.3h0.6M31.4,40.6h0.6M49.8,37.9h0.6M29.7,40.8h0.6M50.6,34.1h0.6M42.8,39.0h0.6M41.5,40.3h0.6M42.5,38.7h0.6M42.5,30.3h0.6M35.7,48.3h0.6M43.8,41.1h0.6M49.2,42.6h0.6M45.5,33.7h0.6M42.1,28.6h0.6M40.8,39.5h0.6M28.4,36.8h0.6M47.2,41.2h0.6M36.2,33.5h0.6M30.2,32.0h0.6M45.4,44.0h0.6M34.8,41.4h0.6M44.7,34.1h0.6M55.8,26.2h0.6M41.6,36.9h0.6M55.4,43.0h0.6M56.3,36.5h0.6M48.2,41.3h0.6M45.2,37.4h0.6M40.8,34.4h0.6M34.2,43.6h0.6M39.2,27.9h0.6M43.7,35.9h0.6M43.1,43.1h0.6M41.3,35.0h0.6M37.3,35.9h0.6M39.2,36.8h0.6M61.7,37.5h0.6M36.6,43.5h0.6M47.5,39.2h0.6M46.5,39.2h0.6M46.3,41.5h0.6M48.4,41.2h0.6M38.8,36.0h0.6M37.4,39.7h0.6M47.3,34.2h0.6M45.7,46.2h0.6M49.8,31.7h0.6M41.4,38.5h0.6M41.8,37.5h0.6M49.5,37.3h0.6M35.1,38.8h0.6M41.4,36.4h0.6M38.4,30.6h0.6M34.1,34.6h0.6M35.2,25.4h0.6M49.3,31.5h0.6M37.4,38.1h0.6M26.7,41.2h0.6M37.1,38.6h0.6M39.0,37.2h0.6M42.7,36.0h0.6M30.4,30.3h0.6M41.7,41.5h0.6M38.5,38.1h0.6M43.0,37.9h0.6M48.3,30.2h0.6M43.7,35.3h0.6M40.0,32.7h0.6M37.0,32.0h0.6M35.0,45.8h0.6M52.8,36.0h0.6M46.7,32.2h0.6M24.4,28.9h0.6M42.9,41.6h0.6M41.7,32.1h0.6M40.5,32.1h0.6M33.2,35.1h0.6M39.5,32.8h0.6M36.4,32.4h0.6M43.5,41.4h0.6M40.7,44.7h0.6M31.8,37.1h0.6M34.7,35.4h0.6M42.6,38.2h0.6M49.2,33.8h0.6M34.1,35.3h0.6M43.9,33.3h0.6M47.7,42.6h0.6M33.0,37.4h0.6M48.4,28.5h0.6M43.3,35.1h0.6M33.0,41.1h0.6M43.4,34.1h0.6M44.8,38.5h0.6M46.9,38.3h0.6M44.6,31.4h0.6M39.3,36.5h0.6M24.5,44.3h0.6M39.6,31.9h0.6M30.5,37.0h0.6M42.2,33.7h0.6M39.4,32.5h0.6M37.3,35.6h0.6M37.9,38.6h0.6M41.1,36.5h0.6M44.6,41.0h0.6M45.8,36.9h0.6M41.0,32.9h0.6M39.8,38.7h0.6M43.4,34.5h0.6M33.6,30.0h0.6M44.0,40.0h0.6M44.4,30.6h0.6M40.7,36.9h0.6M36.2,37.4h0.6M40.7,32.7h0.6M34.1,39.2h0.6M44.3,32.5h0.6M35.6,39.5h0.6M45.8,34.8h0.6M52.1,34.9h0.6M35.3,40.3h0.6M40.8,37.3h0.6" stroke="#8f2" stroke-width="1.2" opacity="1" fill="none"/>
<path d="M41.2,23.1h0.4M34.6,27.1h0.4M48.5,23.1h0.4M48.3,29.1h0.4M35.0,29.3h0.4M44.0,23.6h0.4M29.6,29.7h0.4M35.1,30.1h0.4M30.8,27.3h0.4M36.7,20.8h0.4M39.7,28.8h0.4M38.0,22.3h0.4M42.1,19.5h0.4M43.9,30.4h0.4M50.0,32.3h0.4M42.9,29.3h0.4M41.1,21.6h0.4M48.8,30.6h0.4M39.5,22.4h0.4M48.9,30.6h0.4M34.7,31.3h0.4M51.1,27.9h0.4M43.1,26.0h0.4M37.6,33.2h0.4M57.5,28.6h0.4M40.3,31.9h0.4M39.4,31.5h0.4M45.4,23.1h0.4M35.3,27.6h0.4M45.4,29.3h0.4M47.6,21.3h0.4M43.6,25.0h0.4M41.5,29.6h0.4M35.8,26.9h0.4M34.8,29.3h0.4M36.5,25.6h0.4M42.2,24.8h0.4M47.1,24.9h0.4M45.5,29.4h0.4M35.5,26.9h0.4M36.5,26.2h0.4M39.6,36.8h0.4M38.8,35.6h0.4M43.4,21.7h0.4M28.7,31.3h0.4M30.4,31.5h0.4M46.5,29.9h0.4M39.9,26.8h0.4M42.4,26.5h0.4M38.1,26.2h0.4M47.2,25.0h0.4M43.0,22.4h0.4M37.2,21.3h0.4M39.9,31.3h0.4M42.6,25.6h0.4M44.3,26.3h0.4M43.0,29.3h0.4M43.9,16.0h0.4M34.1,31.7h0.4M40.4,38.9h0.4M39.7,25.3h0.4M49.0,30.7h0.4M51.1,30.5h0.4M39.9,31.5h0.4M36.8,25.8h0.4M38.0,26.9h0.4M45.1,25.7h0.4M42.7,25.6h0.4M45.7,14.7h0.4M39.9,28.8h0.4M35.3,32.9h0.4M42.2,34.2h0.4M46.1,31.1h0.4M40.2,22.7h0.4M39.8,25.8h0.4M42.3,25.8h0.4M57.2,20.3h0.4M47.2,25.7h0.4M39.7,32.5h0.4M41.0,22.1h0.4M43.2,27.1h0.4M30.1,29.0h0.4M35.4,24.4h0.4M43.6,29.4h0.4M39.5,38.5h0.4M43.2,25.0h0.4M42.3,27.4h0.4M29.3,20.4h0.4M33.6,38.0h0.4M40.0,26.7h0.4M38.0,32.7h0.4M41.1,36.2h0.4M45.2,35.9h0.4M40.4,29.8h0.4M38.7,27.2h0.4M31.8,25.2h0.4M36.0,24.9h0.4M47.5,29.3h0.4M47.5,32.1h0.4M45.9,32.8h0.4M37.8,31.9h0.4M39.3,25.4h0.4M47.3,38.4h0.4M35.8,36.4h0.4M45.4,23.9h0.4M42.4,29.8h0.4M43.0,26.3h0.4M34.2,28.2h0.4M45.6,31.8h0.4M44.5,33.3h0.4M35.7,27.8h0.4M42.8,32.8h0.4M41.8,30.5h0.4M41.7,38.1h0.4M29.4,27.9h0.4M54.1,29.1h0.4M31.3,28.6h0.4M33.4,24.7h0.4M42.2,36.3h0.4M43.5,31.2h0.4M46.4,29.0h0.4M36.5,27.5h0.4M42.8,26.7h0.4M37.5,26.3h0.4M33.0,23.1h0.4M40.5,26.3h0.4M41.2,34.8h0.4M42.6,27.8h0.4M34.8,22.8h0.4M43.0,23.8h0.4M43.3,22.8h0.4M41.7,27.6h0.4M46.3,26.1h0.4M39.0,29.2h0.4M41.3,36.1h0.4M39.6,25.4h0.4M39.3,30.3h0.4M42.2,31.3h0.4M33.7,39.9h0.4M50.7,27.8h0.4M34.6,28.7h0.4M43.2,17.3h0.4M41.1,20.9h0.4M43.4,34.6h0.4M46.5,20.8h0.4M48.3,32.4h0.4M39.1,30.4h0.4M49.0,26.4h0.4M40.9,25.3h0.4M47.1,17.6h0.4" stroke="#8c3" stroke-width="0.8" opacity="0.7" fill="none"/>
</g>
<text x="77.2" y="11.6" font-size="7.8" font-weight="normal" text-anchor="end" fill="#000"  textLength="20.5" lengthAdjust="spacingAndGlyphs">Plastic</text>
<text x="77.2" y="19.2" font-size="7.8" font-weight="normal" text-anchor="end" fill="#000"  textLength="20.5" lengthAdjust="spacingAndGlyphs">d12+5</text>
<rect x="26.30" y="61.50" width="52.20" height="42.00" fill="#fff" stroke="#444" stroke-width="0.9"/>
<path d="M26.91,104.0v2.2M28.49,104.0v2.2M29.71,104.0v2.8M30.70,104.0v2.2M31.55,104.0v2.2M32.28,104.0v2.2M32.92,104.0v2.2M37.29,104.0v2.2M39.51,104.0v2.2M41.09,104.0v2.2M42.31,104.0v2.8M43.30,104.0v2.2M44.15,104.0v2.2M44.88,104.0v2.2M45.52,104.0v2.2M33.50,104.0v3.6M49.89,104.0v2.2M52.11,104.0v2.2M53.69,104.0v2.2M54.91,104.0v2.8M55.90,104.0v2.2M56.75,104.0v2.2M57.48,104.0v2.2M58.12,104.0v2.2M46.10,104.0v3.6M62.49,104.0v2.2M64.71,104.0v2.2M66.29,104.0v2.2M67.51,104.0v2.8M68.50,104.0v2.2M69.35,104.0v2.2M70.08,104.0v2.2M70.72,104.0v2.2M58.70,104.0v3.6M75.09,104.0v2.2M77.31,104.0v2.2M71.30,104.0v3.6" stroke="#000" stroke-width="0.55" fill="none"/>
<text x="33.5" y="115" font-size="5.2" font-weight="normal" text-anchor="middle" fill="#222" >10<tspan baseline-shift="2.6" font-size="3.6">2</tspan></text>
<text x="46.1" y="115" font-size="5.2" font-weight="normal" text-anchor="middle" fill="#222" >10<tspan baseline-shift="2.6" font-size="3.6">3</tspan></text>
<text x="58.7" y="115" font-size="5.2" font-weight="normal" text-anchor="middle" fill="#222" >10<tspan baseline-shift="2.6" font-size="3.6">4</tspan></text>
<text x="71.3" y="115" font-size="5.2" font-weight="normal" text-anchor="middle" fill="#222" >10<tspan baseline-shift="2.6" font-size="3.6">5</tspan></text>
<path d="M23.80,102.50h2.5M23.80,94.50h2.5M23.80,86.50h2.5M23.80,78.50h2.5M23.80,70.50h2.5M23.80,62.50h2.5" stroke="#333" stroke-width="0.5" fill="none"/>
<text transform="translate(22.9 102.5) rotate(-90)" font-size="4.6" font-weight="normal" fill="#222" text-anchor="start" textLength="40.0" lengthAdjust="spacingAndGlyphs">50 100 150 200 250</text>
<g clip-path="url(#cA2)">
<ellipse cx="39" cy="80" rx="13" ry="12" fill="#333" opacity="0.8" transform="rotate(-30 39 80)" filter="url(#b2)"/>
<path d="M49.1,68.1h0.5M41.9,65.1h0.5M27.8,81.5h0.5M41.0,65.6h0.5M42.5,74.3h0.5M49.8,74.0h0.5M43.0,78.5h0.5M54.9,71.2h0.5M46.0,97.7h0.5M42.3,87.0h0.5M32.7,86.9h0.5M17.6,93.0h0.5M27.3,73.1h0.5M29.6,97.3h0.5M37.5,68.2h0.5M53.9,68.4h0.5M36.4,85.6h0.5M22.2,74.4h0.5M36.2,94.6h0.5M42.3,65.3h0.5M50.7,76.9h0.5M44.0,80.2h0.5M39.3,72.3h0.5M27.7,80.5h0.5M37.7,88.5h0.5M33.2,100.0h0.5M30.8,80.2h0.5M47.3,82.3h0.5M31.8,75.1h0.5M23.6,73.9h0.5M53.9,85.4h0.5M58.7,77.6h0.5M45.0,86.5h0.5M47.2,75.7h0.5M50.3,97.3h0.5M17.6,78.5h0.5M32.5,92.2h0.5M49.2,74.0h0.5M45.3,78.6h0.5M39.9,76.4h0.5M38.7,82.1h0.5M58.0,94.5h0.5M23.5,94.3h0.5M42.5,89.6h0.5M52.0,83.4h0.5M43.3,70.9h0.5M28.7,102.7h0.5M47.1,69.1h0.5M53.8,81.5h0.5M18.7,100.0h0.5M33.8,95.6h0.5M29.7,79.2h0.5M23.4,87.2h0.5M46.3,72.2h0.5M29.0,107.2h0.5M59.2,79.2h0.5M29.4,74.9h0.5M25.3,93.7h0.5M47.6,67.9h0.5M38.0,79.8h0.5M38.4,87.1h0.5M56.8,67.6h0.5M51.2,86.8h0.5M35.7,82.1h0.5M30.1,96.5h0.5M31.5,79.2h0.5M36.5,75.0h0.5M27.9,84.3h0.5M52.5,73.7h0.5M38.7,68.1h0.5M26.9,105.0h0.5M29.5,71.7h0.5M40.2,87.3h0.5M19.2,82.8h0.5M38.1,73.6h0.5M50.2,86.0h0.5M41.7,76.6h0.5M36.2,77.2h0.5M38.9,85.1h0.5M39.7,91.0h0.5M62.0,66.1h0.5M45.3,86.9h0.5M44.3,77.2h0.5M38.1,92.1h0.5M46.9,83.2h0.5M33.6,90.6h0.5M46.0,77.0h0.5M53.2,96.2h0.5M23.2,95.2h0.5M22.7,76.5h0.5M38.7,87.4h0.5M35.2,72.6h0.5M23.1,84.1h0.5M36.1,75.4h0.5M31.0,102.6h0.5M30.3,84.5h0.5M31.6,79.8h0.5M38.3,79.5h0.5M40.6,69.9h0.5M31.8,104.1h0.5M41.1,88.4h0.5M52.4,81.1h0.5M33.6,69.6h0.5M27.1,96.9h0.5M47.6,83.4h0.5M15.1,72.6h0.5M24.5,77.4h0.5M36.8,73.2h0.5M52.0,70.0h0.5M36.8,91.4h0.5M38.9,73.4h0.5M54.0,93.5h0.5M26.2,85.6h0.5M21.4,71.5h0.5M47.6,84.7h0.5M50.0,81.0h0.5M19.4,90.9h0.5M28.2,75.7h0.5M31.1,93.1h0.5M43.4,98.9h0.5M36.5,64.8h0.5M52.3,87.9h0.5M34.8,72.2h0.5M51.3,63.6h0.5M31.1,67.3h0.5M20.6,74.2h0.5M53.9,86.4h0.5M30.1,73.1h0.5M39.8,85.3h0.5M19.9,79.7h0.5M40.6,88.1h0.5M41.4,85.2h0.5M17.6,67.9h0.5M38.6,73.3h0.5M36.4,79.6h0.5M40.8,73.7h0.5M53.2,75.7h0.5M46.5,84.6h0.5M50.6,80.5h0.5M19.6,84.9h0.5M58.9,77.3h0.5M46.2,83.2h0.5M30.2,79.5h0.5M37.0,94.2h0.5M49.2,94.5h0.5M50.9,94.8h0.5M39.1,70.5h0.5M57.2,76.8h0.5M51.4,78.3h0.5M36.4,84.8h0.5M23.6,77.6h0.5M28.4,81.9h0.5M25.4,87.4h0.5M49.5,96.8h0.5M56.8,73.2h0.5M46.8,76.2h0.5M42.7,79.9h0.5M34.0,85.1h0.5M26.2,92.3h0.5M32.1,74.6h0.5M37.5,88.1h0.5M34.1,88.9h0.5M50.4,91.9h0.5M27.9,86.1h0.5M49.6,91.7h0.5M44.4,86.9h0.5M22.4,84.0h0.5M54.2,72.1h0.5M57.5,66.2h0.5M30.3,70.5h0.5M46.2,81.2h0.5M59.5,74.1h0.5M31.3,71.8h0.5M41.7,90.0h0.5M50.9,88.5h0.5M47.3,77.7h0.5M45.6,80.6h0.5M32.3,101.9h0.5M38.7,71.8h0.5M43.9,82.6h0.5M54.2,89.1h0.5M11.1,100.4h0.5M50.5,67.3h0.5M21.7,92.8h0.5M43.6,83.3h0.5M26.3,83.3h0.5M43.7,87.1h0.5M61.7,74.3h0.5M24.2,65.7h0.5M49.1,76.0h0.5M34.2,74.5h0.5M39.5,64.1h0.5M40.5,82.5h0.5M46.9,91.2h0.5M38.4,83.2h0.5M41.6,65.5h0.5M36.4,83.9h0.5M45.4,71.1h0.5M48.4,81.4h0.5M18.7,76.9h0.5M25.4,89.7h0.5M43.8,86.9h0.5M45.0,73.7h0.5M52.7,83.7h0.5M45.5,83.7h0.5M27.6,90.9h0.5M24.3,77.1h0.5M36.1,84.7h0.5M37.2,79.6h0.5M29.8,88.1h0.5M26.3,74.0h0.5M45.4,93.4h0.5M31.0,75.3h0.5M59.2,89.5h0.5M35.3,81.6h0.5M52.3,105.0h0.5M44.1,89.4h0.5M36.5,65.2h0.5M23.4,77.1h0.5M43.7,80.9h0.5M55.7,71.5h0.5M42.3,81.2h0.5M49.2,100.2h0.5M47.4,92.6h0.5M49.6,71.1h0.5M44.4,75.7h0.5M40.7,82.8h0.5M37.4,78.1h0.5M53.5,72.6h0.5M52.3,92.4h0.5M49.1,87.4h0.5M56.9,84.4h0.5M50.7,62.4h0.5M58.6,73.1h0.5M19.2,84.9h0.5M25.1,88.3h0.5M20.4,80.7h0.5M42.5,81.9h0.5M30.2,83.8h0.5M38.3,83.1h0.5M38.1,80.2h0.5M41.6,64.8h0.5M34.6,85.4h0.5M32.9,79.4h0.5M35.4,85.7h0.5M50.7,74.7h0.5M37.7,86.1h0.5M29.2,67.4h0.5M40.2,77.7h0.5M35.7,89.8h0.5M37.3,77.2h0.5M10.8,78.1h0.5M38.7,81.0h0.5M44.2,81.8h0.5M29.4,73.9h0.5M27.6,86.0h0.5M30.4,93.5h0.5M19.0,73.6h0.5M30.3,68.4h0.5M51.4,66.3h0.5M37.6,80.3h0.5M24.1,71.4h0.5M23.7,97.7h0.5M57.4,94.9h0.5M26.6,93.4h0.5M42.1,89.0h0.5M36.6,90.3h0.5M50.2,82.8h0.5M52.8,73.9h0.5M51.7,69.1h0.5M45.2,51.8h0.5M36.1,75.4h0.5M42.9,90.4h0.5M46.5,79.4h0.5M50.4,62.1h0.5M36.6,98.1h0.5M34.4,63.6h0.5M37.9,70.8h0.5M58.1,84.5h0.5M38.5,95.1h0.5M34.2,93.4h0.5M44.3,78.3h0.5M23.8,86.3h0.5M14.0,88.0h0.5M25.2,100.5h0.5M20.1,66.7h0.5M46.2,82.3h0.5M42.0,101.6h0.5M47.0,78.9h0.5M21.3,60.9h0.5M47.4,87.6h0.5M27.7,73.2h0.5M32.2,68.6h0.5M42.0,88.3h0.5M55.1,77.1h0.5M43.8,87.2h0.5M51.7,72.9h0.5M23.7,81.3h0.5M23.1,80.6h0.5M39.1,85.4h0.5M40.8,81.8h0.5M37.1,87.1h0.5M50.7,84.1h0.5M52.8,72.7h0.5M42.9,97.0h0.5M42.6,84.4h0.5M39.3,91.5h0.5M31.2,75.7h0.5M36.7,78.7h0.5M45.9,75.0h0.5M39.4,79.7h0.5M40.0,75.3h0.5M44.6,65.3h0.5M32.5,78.0h0.5M45.6,79.3h0.5M42.6,77.1h0.5M27.6,76.2h0.5M33.6,79.2h0.5M43.1,83.6h0.5M48.3,76.6h0.5M27.5,76.8h0.5M41.0,84.7h0.5M59.1,74.4h0.5M63.6,89.1h0.5M33.1,96.7h0.5M55.4,87.7h0.5M42.5,89.8h0.5M33.9,83.7h0.5M46.0,96.5h0.5M40.5,90.8h0.5M37.0,75.9h0.5M43.9,86.3h0.5M34.3,90.5h0.5M28.6,78.2h0.5M40.3,79.1h0.5M23.0,73.3h0.5M40.2,83.9h0.5M35.1,85.7h0.5M25.3,92.3h0.5M44.2,82.3h0.5M33.2,85.5h0.5M44.4,90.1h0.5M42.7,82.8h0.5M35.1,92.4h0.5M48.8,72.5h0.5M46.5,81.5h0.5M33.6,71.7h0.5M49.4,58.6h0.5M40.6,77.5h0.5M48.8,73.2h0.5M41.7,86.8h0.5M41.6,75.6h0.5M47.3,82.0h0.5M46.9,73.2h0.5M37.1,79.0h0.5M31.6,88.0h0.5M48.5,91.7h0.5M37.2,86.7h0.5M49.9,75.8h0.5M40.1,82.8h0.5M28.4,77.2h0.5M50.8,78.2h0.5M33.5,72.2h0.5M44.6,91.0h0.5M24.2,80.1h0.5M55.4,88.5h0.5M52.3,70.3h0.5M42.1,73.1h0.5M42.8,76.6h0.5M46.0,92.0h0.5M41.4,78.5h0.5M40.6,83.9h0.5M34.7,86.1h0.5M50.9,91.9h0.5M14.0,81.9h0.5M30.0,94.8h0.5M63.9,72.3h0.5M44.5,90.7h0.5M14.1,91.8h0.5M8.7,97.7h0.5M32.1,80.4h0.5M40.2,75.7h0.5M50.0,76.8h0.5M52.4,100.8h0.5M38.1,91.6h0.5M35.5,95.9h0.5M49.1,78.7h0.5M54.9,90.5h0.5M52.6,75.7h0.5M42.6,91.2h0.5M22.2,83.9h0.5M45.9,84.4h0.5M64.0,87.7h0.5M43.9,84.1h0.5M25.3,86.6h0.5M40.7,79.0h0.5M41.9,86.6h0.5M27.5,81.8h0.5M25.8,99.4h0.5M22.2,73.1h0.5M45.8,76.7h0.5M47.1,74.6h0.5M62.7,78.0h0.5M40.9,82.2h0.5M40.0,89.5h0.5M57.1,69.4h0.5M30.5,91.8h0.5M43.9,65.1h0.5M28.4,77.1h0.5M46.4,83.5h0.5M27.5,76.3h0.5M38.0,62.3h0.5M44.8,77.8h0.5M61.6,81.2h0.5M32.3,82.5h0.5M33.5,77.4h0.5M43.4,89.4h0.5M23.3,87.1h0.5M56.5,81.1h0.5M28.0,79.2h0.5M24.6,73.0h0.5M50.6,77.3h0.5M26.8,73.7h0.5M33.3,79.6h0.5M54.2,70.4h0.5M44.1,90.1h0.5M44.9,77.5h0.5M22.8,103.2h0.5M43.2,75.8h0.5M34.6,74.7h0.5M24.6,74.2h0.5M45.9,83.9h0.5M43.6,87.5h0.5M44.7,80.5h0.5M32.6,90.8h0.5M53.0,81.6h0.5M49.5,72.5h0.5M34.1,96.5h0.5M34.2,86.6h0.5M37.2,83.0h0.5M34.3,78.9h0.5M28.7,105.4h0.5M33.8,65.7h0.5M25.9,77.1h0.5M22.2,65.0h0.5M50.7,92.5h0.5M39.4,89.1h0.5M40.2,69.3h0.5M44.6,63.0h0.5M32.0,81.8h0.5M51.7,77.2h0.5M34.8,76.1h0.5M40.0,81.9h0.5M51.3,89.8h0.5M46.3,78.8h0.5M43.5,95.5h0.5M40.9,81.0h0.5M62.4,86.3h0.5M44.1,78.5h0.5M36.8,93.4h0.5M38.2,91.7h0.5M31.7,86.4h0.5M43.5,81.3h0.5M42.7,84.0h0.5M23.9,78.3h0.5M44.3,97.1h0.5M34.3,75.2h0.5M32.7,85.3h0.5M48.4,72.1h0.5M45.2,80.9h0.5M32.0,76.1h0.5M34.8,76.9h0.5M37.7,65.5h0.5M52.8,82.9h0.5M50.2,91.3h0.5M38.5,65.6h0.5M41.2,85.3h0.5M28.1,76.1h0.5M45.1,84.1h0.5M34.0,82.0h0.5M32.0,79.8h0.5M42.4,90.8h0.5M22.1,86.6h0.5M55.9,77.2h0.5M43.6,88.0h0.5M24.8,76.9h0.5M17.5,77.9h0.5M44.6,87.6h0.5M32.4,78.5h0.5M45.2,85.0h0.5M34.4,65.7h0.5M24.3,64.3h0.5M38.2,74.1h0.5M38.2,96.9h0.5M53.6,79.8h0.5M42.3,82.1h0.5M33.1,84.2h0.5M54.3,66.4h0.5M33.2,86.3h0.5M50.7,84.6h0.5M29.1,85.3h0.5M31.9,73.4h0.5M38.0,77.8h0.5M49.5,81.3h0.5M31.7,86.2h0.5M33.2,78.6h0.5M38.2,92.6h0.5M28.6,70.3h0.5M34.5,91.9h0.5M56.0,63.9h0.5M34.3,81.0h0.5M26.8,91.5h0.5M39.5,84.4h0.5M59.7,69.8h0.5M49.8,85.0h0.5M30.6,80.2h0.5M56.7,80.6h0.5M36.3,72.7h0.5M49.5,82.2h0.5M65.8,83.8h0.5M47.8,80.5h0.5M37.6,77.4h0.5M42.9,82.5h0.5M49.3,87.7h0.5M40.0,76.3h0.5M52.6,90.7h0.5M32.5,89.1h0.5M46.3,83.8h0.5M43.6,79.0h0.5M44.3,95.8h0.5M50.6,63.1h0.5M16.0,96.9h0.5M30.6,81.0h0.5M24.9,92.0h0.5M36.5,78.0h0.5M56.7,97.2h0.5M57.6,84.6h0.5M37.4,89.1h0.5M42.9,91.3h0.5M44.5,79.1h0.5M41.7,73.8h0.5M52.2,90.3h0.5M37.6,88.0h0.5M26.3,97.0h0.5M43.7,69.9h0.5M56.3,75.0h0.5M17.2,79.0h0.5M46.5,75.9h0.5M44.0,64.7h0.5M41.7,90.2h0.5M35.0,90.5h0.5M36.8,86.4h0.5M50.4,98.2h0.5M29.9,93.8h0.5M47.6,67.2h0.5M48.3,99.9h0.5M38.2,53.8h0.5M30.4,69.5h0.5M39.3,74.9h0.5M30.5,77.9h0.5M40.1,77.0h0.5M29.4,84.3h0.5M39.8,73.4h0.5M43.6,63.8h0.5M41.5,77.1h0.5M51.9,69.8h0.5M27.6,74.4h0.5M60.5,77.9h0.5M27.3,84.2h0.5M35.4,98.4h0.5M35.5,64.0h0.5M44.4,88.3h0.5M40.8,85.7h0.5M38.7,84.2h0.5M38.4,75.4h0.5M43.0,81.7h0.5M36.1,76.8h0.5M30.1,88.5h0.5M38.1,59.1h0.5M38.8,95.1h0.5M45.2,72.2h0.5M48.5,68.1h0.5M38.5,100.9h0.5M34.0,82.3h0.5M19.3,81.4h0.5M27.1,86.2h0.5M25.2,98.7h0.5M33.3,78.8h0.5M35.6,90.8h0.5M52.4,71.8h0.5M60.6,87.5h0.5M53.1,78.3h0.5M27.1,94.1h0.5M35.8,85.4h0.5M19.7,88.3h0.5M37.8,73.5h0.5M48.0,93.9h0.5M38.7,75.5h0.5M54.2,54.1h0.5M31.6,89.4h0.5M24.8,66.5h0.5M44.6,87.4h0.5M36.7,97.2h0.5M48.3,89.2h0.5M24.2,88.9h0.5M62.0,90.8h0.5M51.8,76.0h0.5M38.5,76.2h0.5M47.1,71.5h0.5M32.6,65.0h0.5M31.0,103.0h0.5M40.4,83.4h0.5M17.5,91.7h0.5M53.6,60.7h0.5M15.3,91.5h0.5M33.1,82.7h0.5M21.7,76.9h0.5M29.4,92.7h0.5M41.6,88.8h0.5M30.7,91.6h0.5M35.0,84.7h0.5M48.2,78.0h0.5M29.4,70.3h0.5M42.5,88.0h0.5M32.6,84.3h0.5M16.8,79.4h0.5M47.8,90.5h0.5M29.8,70.1h0.5M29.5,71.2h0.5M43.5,98.7h0.5M41.4,79.4h0.5M47.7,74.2h0.5M43.0,82.1h0.5M37.9,68.2h0.5M49.2,85.8h0.5M6.6,70.7h0.5M35.8,98.0h0.5M41.7,87.3h0.5M47.7,86.6h0.5M30.6,80.2h0.5M45.0,85.2h0.5M45.9,82.1h0.5M38.4,93.1h0.5M47.6,88.4h0.5M17.9,101.7h0.5M15.9,94.8h0.5M32.9,86.0h0.5M33.2,81.7h0.5M42.2,83.9h0.5M21.7,65.3h0.5M33.4,89.9h0.5M32.3,89.3h0.5M31.8,76.1h0.5M56.7,90.0h0.5M37.8,82.1h0.5M43.4,66.9h0.5M34.7,95.1h0.5M46.0,73.9h0.5M32.7,88.4h0.5M23.3,84.4h0.5M27.5,63.2h0.5M47.7,85.4h0.5M44.1,65.5h0.5M23.3,81.3h0.5M33.9,104.6h0.5M28.2,84.0h0.5M42.8,84.7h0.5M49.2,66.5h0.5M48.2,79.2h0.5M28.0,88.6h0.5M31.3,101.6h0.5M35.6,93.5h0.5M49.5,71.0h0.5M30.6,87.2h0.5M32.0,94.1h0.5M37.9,75.0h0.5M35.0,91.0h0.5M31.0,102.4h0.5M30.5,84.0h0.5M36.0,99.4h0.5M52.1,88.7h0.5M45.8,79.7h0.5M58.3,79.6h0.5M45.5,84.7h0.5M47.4,80.9h0.5M31.3,69.8h0.5M54.5,61.9h0.5M14.9,86.2h0.5M62.8,83.0h0.5M34.0,86.9h0.5M31.2,66.0h0.5M36.8,85.9h0.5M46.1,66.8h0.5M10.6,79.6h0.5M42.6,81.1h0.5M41.0,82.5h0.5M30.2,72.6h0.5M45.0,83.0h0.5M49.5,89.5h0.5M17.8,68.7h0.5M29.4,107.7h0.5M31.4,89.5h0.5M41.6,88.0h0.5M69.0,62.9h0.5M35.0,77.9h0.5M43.4,85.1h0.5M34.3,97.2h0.5M52.1,80.3h0.5M37.0,80.6h0.5M25.1,95.0h0.5M27.4,82.4h0.5M45.4,69.9h0.5M37.1,91.4h0.5M54.9,67.7h0.5M47.5,71.5h0.5M44.7,84.1h0.5M31.6,95.7h0.5M57.1,74.1h0.5M37.2,71.2h0.5M57.1,74.2h0.5M29.2,94.2h0.5M21.8,83.2h0.5M23.0,103.1h0.5M58.6,66.5h0.5M30.3,80.3h0.5M35.5,89.1h0.5M49.7,67.0h0.5M36.5,65.2h0.5M53.9,74.2h0.5M37.8,97.7h0.5M43.2,93.7h0.5M56.0,90.5h0.5M31.2,86.2h0.5M41.9,78.7h0.5M51.5,69.1h0.5M54.2,88.5h0.5M15.8,83.2h0.5M27.9,81.7h0.5M42.2,78.8h0.5M38.0,77.9h0.5M40.0,86.3h0.5M43.5,72.2h0.5M35.0,76.3h0.5M31.8,71.1h0.5M51.1,83.0h0.5M35.2,77.0h0.5M31.9,78.7h0.5M29.8,102.5h0.5M67.1,56.7h0.5M29.6,92.1h0.5M39.1,66.4h0.5M21.9,95.4h0.5M24.6,102.9h0.5M34.4,85.0h0.5M36.8,77.5h0.5M36.4,80.2h0.5M51.1,75.5h0.5M36.7,77.8h0.5M29.9,78.9h0.5M46.1,96.9h0.5M51.0,78.7h0.5M59.5,82.5h0.5M40.4,79.7h0.5M29.0,89.1h0.5M29.8,70.5h0.5M33.6,103.8h0.5M43.0,85.1h0.5M39.2,77.3h0.5M47.7,88.7h0.5M37.9,87.6h0.5M47.4,73.3h0.5M37.9,75.2h0.5M43.6,76.2h0.5M47.5,70.4h0.5M54.7,71.6h0.5M27.2,78.5h0.5M42.4,71.9h0.5M61.9,84.1h0.5M38.8,68.0h0.5M36.0,76.2h0.5M22.6,93.9h0.5M58.9,67.4h0.5M52.0,88.7h0.5M28.1,83.7h0.5M43.5,84.6h0.5M28.4,89.1h0.5M41.6,90.3h0.5M20.9,84.8h0.5M32.8,81.8h0.5M43.8,73.5h0.5M63.6,63.5h0.5M51.3,86.4h0.5M47.8,75.9h0.5M29.8,83.8h0.5M46.1,79.9h0.5M47.0,84.0h0.5M26.6,78.5h0.5M51.5,71.3h0.5M30.3,104.5h0.5M27.1,78.3h0.5M44.3,68.3h0.5M34.3,94.6h0.5M40.4,106.3h0.5M50.2,103.4h0.5M40.5,81.9h0.5M31.8,83.2h0.5M33.9,84.1h0.5M41.9,68.0h0.5M21.9,69.2h0.5M53.7,74.4h0.5M38.6,81.6h0.5M50.2,79.9h0.5M46.8,76.7h0.5M37.6,82.1h0.5M24.6,99.5h0.5M19.5,81.2h0.5M45.9,79.3h0.5M53.6,92.1h0.5M62.8,84.6h0.5M44.5,99.8h0.5M29.9,85.4h0.5M48.1,75.6h0.5M36.5,79.7h0.5M43.2,55.5h0.5M55.7,84.7h0.5M40.4,86.9h0.5M33.6,95.6h0.5M66.0,60.3h0.5M52.7,75.0h0.5M33.8,79.6h0.5M32.3,72.7h0.5M31.8,101.9h0.5M40.9,86.6h0.5M43.9,84.4h0.5M20.2,81.4h0.5M49.1,87.2h0.5M25.4,82.6h0.5M30.8,92.3h0.5M42.6,80.7h0.5M33.8,87.8h0.5M36.5,75.8h0.5M39.8,75.0h0.5M50.9,82.7h0.5M34.4,90.0h0.5M37.0,75.9h0.5M23.6,72.7h0.5M29.0,90.1h0.5M48.6,71.3h0.5M41.9,84.1h0.5M48.5,82.0h0.5M54.1,82.5h0.5M32.9,88.8h0.5M15.0,91.4h0.5M41.4,86.6h0.5M39.2,90.2h0.5M49.0,69.0h0.5M34.6,86.7h0.5M44.4,80.9h0.5M42.8,68.5h0.5M51.2,87.9h0.5M51.7,80.3h0.5M38.2,86.4h0.5M32.2,69.4h0.5M32.8,84.5h0.5M30.3,76.8h0.5M35.3,80.0h0.5M39.5,81.3h0.5M44.5,89.3h0.5M41.9,84.7h0.5M15.6,63.6h0.5M37.6,89.4h0.5M33.2,78.5h0.5M30.0,95.0h0.5M34.7,86.5h0.5M52.3,81.1h0.5M60.9,70.5h0.5M51.2,83.2h0.5M32.7,85.4h0.5M29.5,76.3h0.5M39.0,74.3h0.5M52.9,68.1h0.5M33.9,85.3h0.5M34.0,84.8h0.5M27.5,73.2h0.5M10.0,82.7h0.5M55.9,78.6h0.5M38.8,77.5h0.5M38.7,85.1h0.5M22.1,81.9h0.5M34.9,96.4h0.5M32.9,96.5h0.5M44.7,106.4h0.5M38.3,82.6h0.5M55.8,82.9h0.5M44.3,68.9h0.5M56.7,90.4h0.5M36.1,78.5h0.5M32.0,95.4h0.5M42.0,80.7h0.5M32.9,101.0h0.5M47.6,77.8h0.5M50.1,67.4h0.5M44.0,69.8h0.5M52.0,73.2h0.5M49.6,72.9h0.5M47.3,89.5h0.5M30.4,87.0h0.5M33.9,92.8h0.5M31.6,81.8h0.5M41.4,92.4h0.5M28.5,86.6h0.5M33.6,79.0h0.5M30.5,84.4h0.5M35.1,68.5h0.5M36.8,71.3h0.5M47.8,100.5h0.5M29.1,86.0h0.5M40.2,91.2h0.5M27.5,69.6h0.5M23.6,90.9h0.5M45.6,89.5h0.5M36.2,89.9h0.5M33.3,97.5h0.5M35.7,76.8h0.5M47.4,95.4h0.5M25.8,75.8h0.5M24.5,77.3h0.5M39.8,85.1h0.5M38.1,84.4h0.5M49.7,74.1h0.5M17.8,69.2h0.5M38.8,75.3h0.5M38.1,86.5h0.5M37.6,67.1h0.5M29.7,87.1h0.5M41.9,92.0h0.5M26.1,67.5h0.5M44.4,63.2h0.5M30.8,89.7h0.5M37.9,107.2h0.5M43.4,85.3h0.5M43.1,102.1h0.5M41.7,73.6h0.5M45.1,62.4h0.5M34.3,87.1h0.5M36.7,73.5h0.5M60.3,86.7h0.5M31.1,89.4h0.5M31.0,81.4h0.5M49.3,78.4h0.5M38.3,83.3h0.5M32.0,97.4h0.5M36.5,96.2h0.5M32.7,80.4h0.5M54.5,76.7h0.5M30.6,80.6h0.5M52.2,94.4h0.5M43.6,75.9h0.5M25.3,81.7h0.5M38.7,84.6h0.5M37.3,95.5h0.5M26.7,80.6h0.5M45.8,83.6h0.5M38.8,91.7h0.5M31.2,101.9h0.5M68.2,87.8h0.5M47.7,97.5h0.5M44.6,92.6h0.5M37.7,84.5h0.5M37.6,65.3h0.5M43.5,97.0h0.5M11.3,98.7h0.5M49.4,80.4h0.5M46.2,92.4h0.5M35.1,65.0h0.5M28.5,84.0h0.5M38.7,77.7h0.5M44.3,96.1h0.5M14.2,105.0h0.5M50.6,82.6h0.5M39.4,82.4h0.5M43.5,82.3h0.5M34.8,91.7h0.5M30.6,85.5h0.5M31.1,74.3h0.5M44.8,78.6h0.5M27.1,86.8h0.5M30.7,100.1h0.5M51.7,95.8h0.5M36.0,90.4h0.5M26.1,79.6h0.5M39.7,85.8h0.5M47.2,75.5h0.5M53.6,84.7h0.5M29.6,84.6h0.5M36.4,100.1h0.5M36.9,91.8h0.5M47.1,75.7h0.5M35.5,87.1h0.5M26.5,75.3h0.5M30.7,89.2h0.5M47.6,95.4h0.5M22.8,94.6h0.5M31.9,96.7h0.5M46.4,79.8h0.5M52.2,72.1h0.5M29.8,75.9h0.5M32.9,86.0h0.5M50.5,89.3h0.5M33.6,77.3h0.5M34.1,80.1h0.5M32.8,80.9h0.5M30.2,85.6h0.5M33.3,83.0h0.5M25.8,89.6h0.5M47.1,84.6h0.5M29.3,75.3h0.5M21.7,78.5h0.5M31.5,82.5h0.5M24.0,95.6h0.5M21.2,83.6h0.5M35.0,92.0h0.5M55.9,70.7h0.5M34.8,80.1h0.5M36.4,81.6h0.5M59.3,61.8h0.5M34.9,76.1h0.5M40.6,76.2h0.5M40.6,70.6h0.5M60.6,74.0h0.5M24.2,95.8h0.5M30.0,74.8h0.5M41.4,75.8h0.5M44.2,74.2h0.5M48.5,79.0h0.5M43.1,81.6h0.5M34.0,80.8h0.5M46.1,85.6h0.5M43.4,101.9h0.5M51.4,65.0h0.5M49.5,76.4h0.5M38.3,74.6h0.5M52.2,67.8h0.5M35.5,76.5h0.5M62.8,83.2h0.5M24.3,84.4h0.5M41.0,76.9h0.5M31.5,75.0h0.5M37.4,72.1h0.5M56.2,97.5h0.5M42.0,96.7h0.5M40.2,74.9h0.5M32.0,75.9h0.5M42.8,87.1h0.5M47.1,75.5h0.5M27.0,86.9h0.5M56.5,76.6h0.5M30.6,65.6h0.5M36.8,88.4h0.5M34.8,97.2h0.5M30.2,77.6h0.5M33.0,83.9h0.5M46.7,72.9h0.5M21.2,89.6h0.5M49.9,92.0h0.5M33.5,99.0h0.5M47.4,82.6h0.5M28.2,78.5h0.5M33.1,93.9h0.5M45.1,89.6h0.5M56.9,73.9h0.5M45.7,97.6h0.5M24.5,84.4h0.5M34.0,80.7h0.5M37.3,74.7h0.5M45.3,65.8h0.5M24.7,72.2h0.5M27.5,93.1h0.5M44.5,77.6h0.5M49.6,83.1h0.5M33.2,84.4h0.5M50.1,96.4h0.5M36.1,87.0h0.5M48.9,89.3h0.5M47.2,88.7h0.5M27.6,84.8h0.5M19.9,90.5h0.5M62.8,73.3h0.5M40.9,83.8h0.5M35.5,70.8h0.5M31.6,83.8h0.5M37.5,74.4h0.5M35.3,76.7h0.5M23.6,82.8h0.5M34.2,92.4h0.5M54.3,80.5h0.5M34.9,78.6h0.5M21.7,85.0h0.5M58.6,84.1h0.5M40.3,79.1h0.5M40.6,85.4h0.5M40.5,85.5h0.5M31.6,85.9h0.5M39.6,92.2h0.5M31.7,98.1h0.5M36.3,78.4h0.5M39.7,82.9h0.5M38.3,86.5h0.5M27.1,71.2h0.5M45.8,78.7h0.5M56.8,77.5h0.5M24.0,101.1h0.5M34.3,89.6h0.5M64.8,80.6h0.5M28.0,86.3h0.5M25.8,94.7h0.5M40.7,71.3h0.5M46.9,87.4h0.5M44.5,73.0h0.5M28.1,76.3h0.5M27.5,90.5h0.5M44.2,92.2h0.5M40.5,78.2h0.5M30.8,100.9h0.5M40.5,81.1h0.5M25.3,78.3h0.5M41.6,71.4h0.5M47.1,84.4h0.5M29.3,70.9h0.5M48.3,91.4h0.5M26.3,75.8h0.5M50.2,78.2h0.5M37.5,94.6h0.5M38.0,86.9h0.5M32.3,77.9h0.5M38.0,74.3h0.5M19.7,85.9h0.5M55.2,85.1h0.5M64.0,80.0h0.5M55.8,76.7h0.5M36.5,87.8h0.5M32.5,92.2h0.5M35.6,86.2h0.5M30.2,84.9h0.5M47.8,75.9h0.5M33.5,87.4h0.5M47.0,76.6h0.5M21.8,75.1h0.5M29.9,96.6h0.5M39.9,86.3h0.5M50.6,79.4h0.5M41.9,75.9h0.5M25.6,94.4h0.5M40.2,87.1h0.5M28.1,85.8h0.5M55.6,66.3h0.5M44.8,92.0h0.5M37.2,84.1h0.5M21.1,97.9h0.5M39.5,94.3h0.5M36.8,79.6h0.5M42.4,78.2h0.5M39.7,96.6h0.5M49.0,78.5h0.5M50.0,84.9h0.5M44.9,79.8h0.5M41.3,85.0h0.5M45.9,82.3h0.5M33.4,84.0h0.5M39.9,72.3h0.5M41.7,88.1h0.5M39.7,79.1h0.5M37.1,78.4h0.5M47.3,74.7h0.5M18.4,80.2h0.5M42.7,82.4h0.5M29.6,74.0h0.5M34.5,76.2h0.5M32.6,85.1h0.5M32.7,88.0h0.5M30.1,81.8h0.5M42.2,94.6h0.5M57.9,82.3h0.5M31.9,85.5h0.5M50.9,84.3h0.5M23.0,89.1h0.5M34.6,91.4h0.5M43.3,75.0h0.5M59.0,70.2h0.5M62.3,69.7h0.5M45.1,97.3h0.5M32.2,80.8h0.5M53.3,75.1h0.5M39.1,70.1h0.5M60.1,81.7h0.5M45.1,86.0h0.5M32.5,80.7h0.5M25.1,92.2h0.5M54.2,83.2h0.5M50.6,83.5h0.5M25.3,76.1h0.5M45.9,80.5h0.5M47.7,75.5h0.5M32.1,89.6h0.5M27.7,71.9h0.5M29.9,78.1h0.5M26.2,82.9h0.5M56.9,96.1h0.5M54.4,71.0h0.5M49.9,76.4h0.5M40.5,75.0h0.5M32.3,69.4h0.5M53.8,68.0h0.5M42.6,74.9h0.5M37.4,71.8h0.5M38.7,90.9h0.5M37.8,64.3h0.5M42.6,68.1h0.5M43.7,84.9h0.5M31.6,82.6h0.5M38.1,86.4h0.5M52.9,88.5h0.5M49.5,96.1h0.5M36.3,100.2h0.5M39.3,89.3h0.5M38.1,83.4h0.5M31.5,89.3h0.5M59.4,74.1h0.5M38.9,82.3h0.5M45.3,77.3h0.5M39.8,83.8h0.5M55.2,83.6h0.5M26.5,82.0h0.5M42.3,88.6h0.5M47.8,76.1h0.5M59.2,71.2h0.5M57.9,86.8h0.5M55.4,76.4h0.5M39.2,67.7h0.5M19.5,85.5h0.5M49.9,87.1h0.5M41.8,90.7h0.5M50.2,91.3h0.5M20.5,83.0h0.5M26.0,78.4h0.5M51.8,67.5h0.5M29.5,82.8h0.5M46.0,74.5h0.5M48.2,83.0h0.5M24.3,66.7h0.5M25.6,76.6h0.5M52.4,69.1h0.5M30.0,89.9h0.5M36.2,74.6h0.5M53.1,84.2h0.5M39.0,75.0h0.5M23.1,70.2h0.5M44.2,83.4h0.5M30.2,86.5h0.5M67.0,58.4h0.5M24.6,94.6h0.5M33.1,80.2h0.5M44.7,78.3h0.5M50.6,81.6h0.5M50.8,77.8h0.5M22.9,102.5h0.5M26.2,98.0h0.5M36.5,70.2h0.5M42.9,88.6h0.5M29.2,87.1h0.5M28.2,77.7h0.5M37.6,94.8h0.5M45.7,78.8h0.5M38.7,83.5h0.5M42.5,82.2h0.5M25.6,97.1h0.5M21.3,65.8h0.5M41.6,69.5h0.5M37.3,82.0h0.5M35.2,88.9h0.5M35.4,81.2h0.5M28.7,84.3h0.5M29.1,87.1h0.5M55.6,83.9h0.5M38.3,69.6h0.5M52.5,84.6h0.5M51.1,55.2h0.5M38.0,79.4h0.5M45.8,68.7h0.5M43.7,101.8h0.5M41.6,62.1h0.5M44.2,92.6h0.5M35.1,89.5h0.5M34.7,70.3h0.5M37.0,93.7h0.5M48.5,72.0h0.5M47.5,71.4h0.5M41.4,80.8h0.5M28.0,90.3h0.5M25.3,62.5h0.5M27.8,79.3h0.5M27.3,78.3h0.5M23.4,66.2h0.5M48.0,78.6h0.5M40.6,78.8h0.5M38.7,79.7h0.5M22.8,75.2h0.5M43.4,89.6h0.5M47.2,93.5h0.5M24.7,86.2h0.5M37.4,94.5h0.5M53.8,70.2h0.5M45.3,76.8h0.5M28.8,85.8h0.5M34.4,98.9h0.5M49.1,88.6h0.5M33.7,61.5h0.5M47.2,79.1h0.5M16.0,93.7h0.5M55.2,90.7h0.5M31.9,92.9h0.5M41.7,79.2h0.5M38.2,87.5h0.5M47.1,84.5h0.5M30.2,73.6h0.5M56.7,86.1h0.5M33.4,84.4h0.5M40.5,64.6h0.5M52.7,98.6h0.5M39.1,75.3h0.5M59.1,72.8h0.5M39.5,77.7h0.5M34.3,67.2h0.5M21.1,76.4h0.5M47.5,77.2h0.5M42.9,60.8h0.5M38.4,96.1h0.5M24.5,71.1h0.5M30.4,82.7h0.5M43.6,92.3h0.5M57.7,88.1h0.5M42.9,75.4h0.5M28.8,72.7h0.5M56.1,86.0h0.5M36.6,74.7h0.5M47.4,82.8h0.5M36.3,72.2h0.5M39.3,76.5h0.5M48.4,83.3h0.5M41.8,76.7h0.5M56.8,81.1h0.5M54.5,82.8h0.5M46.9,82.0h0.5M21.9,72.7h0.5M32.1,91.1h0.5M48.6,79.3h0.5M46.6,96.0h0.5M28.6,69.9h0.5M22.7,86.6h0.5M48.5,84.6h0.5M39.8,89.4h0.5M35.9,76.6h0.5M38.1,89.6h0.5M44.2,68.9h0.5M29.8,87.5h0.5M55.5,63.2h0.5M28.3,91.0h0.5M41.8,74.9h0.5M40.5,85.9h0.5M21.9,89.8h0.5M48.2,86.5h0.5M50.1,76.1h0.5M29.8,99.1h0.5M44.2,73.5h0.5M52.9,85.4h0.5M29.0,64.2h0.5M31.7,78.2h0.5M30.5,85.2h0.5M29.9,90.0h0.5M53.1,64.1h0.5M47.2,73.1h0.5M43.9,78.5h0.5M49.0,70.6h0.5M43.3,72.6h0.5M41.2,80.9h0.5M43.9,64.7h0.5M30.9,99.0h0.5M49.0,93.5h0.5M29.7,88.3h0.5M51.3,93.1h0.5M36.9,78.7h0.5M45.6,77.9h0.5M34.5,91.4h0.5M16.7,82.7h0.5M50.5,71.9h0.5M37.2,86.4h0.5M51.9,81.0h0.5M27.5,82.0h0.5M48.8,76.3h0.5M36.0,91.7h0.5" stroke="#2a2a2a" stroke-width="1.0" opacity="0.85" fill="none"/>
<ellipse cx="48" cy="77.5" rx="6.5" ry="4.2" fill="#3a4a90" opacity="0.7" transform="rotate(-10 48 77.5)" filter="url(#b1)"/>
<path d="M54.8,83.7h0.5M42.4,76.1h0.5M44.9,79.3h0.5M46.4,81.6h0.5M35.6,83.0h0.5M44.7,77.1h0.5M50.9,77.7h0.5M44.0,83.3h0.5M50.5,75.4h0.5M48.4,73.7h0.5M41.9,77.5h0.5M49.8,77.5h0.5M43.5,73.6h0.5M40.9,84.2h0.5M49.3,74.5h0.5M54.0,78.3h0.5M45.7,75.8h0.5M53.7,77.6h0.5M56.1,77.3h0.5M44.8,76.0h0.5M44.8,78.9h0.5M49.6,79.3h0.5M49.6,73.6h0.5M46.5,74.6h0.5M49.6,72.7h0.5M44.7,75.2h0.5M44.9,77.2h0.5M55.1,75.4h0.5M40.9,77.7h0.5M51.9,78.7h0.5M50.3,83.9h0.5M53.4,76.9h0.5M53.1,72.0h0.5M46.7,74.8h0.5M49.8,82.7h0.5M46.6,83.2h0.5M43.9,83.1h0.5M39.4,76.1h0.5M52.7,76.4h0.5M48.7,77.3h0.5M48.8,76.8h0.5M43.1,77.4h0.5M48.0,74.4h0.5M51.3,82.9h0.5M39.8,77.1h0.5M46.7,77.8h0.5M48.0,75.0h0.5M47.8,77.5h0.5M48.5,82.7h0.5M47.8,72.5h0.5M40.8,80.8h0.5M46.0,75.7h0.5M41.3,77.6h0.5M47.2,75.3h0.5M46.8,80.7h0.5M52.1,78.6h0.5M46.4,73.2h0.5M52.6,81.8h0.5M54.8,80.3h0.5M49.5,78.5h0.5M48.7,81.7h0.5M48.0,84.8h0.5M51.5,75.8h0.5M47.1,72.2h0.5M44.3,77.1h0.5M59.2,72.7h0.5M52.4,77.0h0.5M47.0,79.8h0.5M39.0,82.3h0.5M57.4,76.8h0.5M47.8,78.1h0.5M50.9,75.3h0.5M48.9,79.1h0.5M46.6,79.1h0.5M50.0,79.6h0.5M43.0,76.6h0.5M46.7,81.8h0.5M48.2,71.8h0.5M43.0,85.0h0.5M48.9,72.9h0.5M43.7,78.7h0.5M55.8,81.7h0.5M46.1,76.8h0.5M56.6,72.6h0.5M55.7,77.3h0.5M49.2,81.7h0.5M49.8,74.3h0.5M40.7,78.8h0.5M51.2,81.6h0.5M36.3,84.1h0.5M51.8,82.0h0.5M51.9,77.5h0.5M50.3,78.5h0.5M44.9,77.7h0.5M48.4,75.9h0.5M40.2,74.0h0.5M50.7,78.8h0.5M47.8,73.5h0.5M51.8,75.5h0.5M39.0,84.4h0.5M42.2,86.2h0.5M50.3,75.6h0.5M36.3,77.2h0.5M55.9,80.8h0.5M48.2,71.6h0.5M46.0,76.9h0.5M50.1,76.7h0.5M48.7,71.8h0.5M45.8,82.8h0.5M41.6,81.8h0.5M59.4,77.7h0.5M42.1,82.8h0.5M39.3,80.2h0.5M46.8,81.9h0.5M53.7,77.1h0.5M57.1,79.2h0.5M45.1,74.6h0.5M59.5,74.1h0.5M49.9,76.8h0.5M44.8,72.6h0.5M47.2,77.2h0.5M52.4,75.0h0.5M39.9,75.3h0.5M48.0,78.4h0.5M51.2,75.6h0.5M50.7,77.5h0.5M56.0,75.9h0.5M49.0,79.3h0.5M53.3,73.4h0.5M45.6,77.0h0.5M38.6,83.6h0.5M53.1,76.7h0.5M64.8,78.9h0.5M58.6,81.0h0.5M51.5,72.0h0.5M55.6,77.6h0.5M42.3,78.7h0.5M52.2,80.1h0.5M48.5,75.6h0.5M51.2,74.3h0.5M48.1,80.1h0.5M41.3,80.0h0.5M38.1,76.1h0.5M42.1,78.2h0.5M51.4,76.7h0.5M52.4,77.0h0.5M47.3,79.3h0.5M46.9,78.2h0.5M52.6,74.7h0.5M52.9,72.9h0.5M45.9,71.9h0.5M46.4,83.2h0.5M50.5,81.4h0.5M40.4,75.4h0.5M50.7,79.9h0.5M51.0,71.2h0.5M50.4,76.8h0.5M48.9,79.0h0.5M45.7,72.1h0.5M42.0,73.6h0.5M41.6,78.2h0.5M53.8,74.0h0.5M43.7,74.3h0.5M39.8,79.2h0.5M45.5,77.1h0.5M43.7,79.9h0.5M42.6,80.3h0.5M45.3,80.7h0.5M44.0,79.7h0.5M50.1,76.9h0.5M55.9,76.7h0.5M44.2,80.6h0.5M43.7,76.4h0.5M48.2,78.1h0.5M55.1,70.3h0.5M47.4,81.5h0.5M47.4,78.7h0.5M54.6,72.1h0.5M48.7,80.1h0.5M44.2,72.2h0.5M43.3,79.0h0.5M50.0,83.5h0.5M53.5,71.2h0.5M53.5,79.7h0.5M55.7,75.6h0.5M45.4,78.5h0.5M55.8,78.3h0.5M56.6,78.7h0.5M44.6,74.6h0.5M56.0,70.9h0.5M46.1,76.7h0.5M43.3,76.4h0.5M49.4,85.4h0.5M47.4,75.8h0.5M49.1,80.5h0.5M43.8,76.8h0.5M40.0,81.3h0.5M52.1,81.9h0.5M43.5,85.8h0.5M52.0,75.8h0.5M45.9,76.8h0.5M42.6,81.1h0.5M44.7,75.6h0.5M50.5,77.4h0.5M45.1,77.2h0.5M46.4,82.4h0.5M52.4,74.2h0.5M48.6,82.1h0.5M47.7,83.7h0.5M50.5,79.4h0.5M38.5,82.1h0.5M50.0,79.2h0.5M50.6,78.9h0.5M46.1,80.9h0.5M47.7,73.9h0.5M43.2,78.9h0.5M48.3,69.9h0.5M38.7,82.8h0.5M49.6,87.0h0.5M40.5,78.0h0.5M45.4,79.9h0.5M55.7,81.7h0.5M43.9,82.5h0.5M42.3,79.6h0.5M49.2,79.4h0.5M44.9,82.6h0.5M47.7,77.5h0.5M46.1,74.2h0.5M51.7,78.0h0.5M51.3,83.3h0.5M43.7,77.3h0.5M48.5,80.4h0.5M47.7,80.8h0.5M49.2,71.2h0.5M43.5,71.3h0.5M46.4,76.3h0.5M50.9,77.6h0.5M48.4,81.8h0.5M50.1,72.9h0.5M44.9,79.2h0.5M56.1,75.4h0.5M47.3,78.5h0.5M51.7,76.5h0.5M49.2,75.8h0.5M44.9,75.3h0.5M50.8,75.1h0.5M50.9,78.4h0.5M51.1,67.7h0.5M42.6,74.2h0.5M47.7,80.3h0.5" stroke="#2a3a9a" stroke-width="1.0" opacity="0.9" fill="none"/>
<path d="M47.8,103.1h0.6M41.0,101.5h0.6M30.7,101.7h0.6M20.2,102.3h0.6M33.1,101.8h0.6M27.0,99.5h0.6M29.2,100.9h0.6M35.0,100.5h0.6M35.0,101.9h0.6M26.2,100.9h0.6M23.9,100.3h0.6M38.3,100.0h0.6M43.9,101.7h0.6M38.2,101.1h0.6M38.1,102.5h0.6M33.6,100.3h0.6M29.8,103.6h0.6M31.9,100.4h0.6M28.9,98.7h0.6M30.1,101.4h0.6M30.2,100.0h0.6M35.4,101.6h0.6M30.4,101.4h0.6M27.3,102.2h0.6M27.2,100.5h0.6M33.8,100.4h0.6M26.3,103.9h0.6M41.9,98.6h0.6M33.7,99.3h0.6M34.8,99.2h0.6M36.4,101.7h0.6M43.0,102.6h0.6M30.3,102.3h0.6M30.3,100.8h0.6M30.1,98.6h0.6M36.5,98.2h0.6M31.6,101.7h0.6M33.7,98.9h0.6M29.2,101.9h0.6M39.4,103.2h0.6M22.4,101.6h0.6M30.2,102.0h0.6M23.1,100.8h0.6M37.1,100.1h0.6M30.9,99.7h0.6M39.5,99.2h0.6M27.6,100.5h0.6M31.1,103.9h0.6M34.6,99.9h0.6M36.4,101.5h0.6M34.7,100.9h0.6M35.7,99.4h0.6M26.0,100.4h0.6M26.5,102.0h0.6M44.4,102.7h0.6M35.6,101.5h0.6M29.0,99.2h0.6M36.2,99.0h0.6M34.8,100.8h0.6M37.4,101.1h0.6M33.6,100.2h0.6M22.9,100.5h0.6M37.1,102.4h0.6M41.1,99.6h0.6M27.5,102.0h0.6M30.3,104.5h0.6M34.8,98.9h0.6M29.7,103.1h0.6M22.3,101.2h0.6M24.9,103.2h0.6M30.4,99.6h0.6M23.0,100.0h0.6M18.0,100.4h0.6M45.8,101.1h0.6M31.4,99.4h0.6M35.0,100.4h0.6M28.0,102.9h0.6M35.6,99.8h0.6M41.7,100.9h0.6M36.0,101.2h0.6M39.9,101.8h0.6M31.0,102.0h0.6M30.7,101.2h0.6M42.6,99.6h0.6M26.9,100.5h0.6M30.1,102.8h0.6M23.7,104.1h0.6M42.3,100.4h0.6M34.1,100.5h0.6M36.9,101.9h0.6M37.4,102.0h0.6M44.3,100.8h0.6M37.1,100.7h0.6M33.2,101.3h0.6M32.7,101.5h0.6M28.0,100.8h0.6M29.5,99.4h0.6M28.9,100.3h0.6M32.1,98.9h0.6M31.5,99.5h0.6M28.2,101.3h0.6M39.5,101.4h0.6M30.1,100.4h0.6M40.9,98.8h0.6M39.7,99.0h0.6M29.3,101.1h0.6M31.7,103.3h0.6M35.9,100.9h0.6M38.6,101.1h0.6M28.3,102.5h0.6M41.8,102.7h0.6M26.1,103.6h0.6M30.6,102.0h0.6M40.0,104.2h0.6M23.5,99.6h0.6M39.9,101.7h0.6M31.2,97.0h0.6M35.6,100.7h0.6M17.7,104.7h0.6M18.3,100.2h0.6M33.0,101.3h0.6M37.4,100.6h0.6M27.7,100.5h0.6M20.6,99.5h0.6M44.6,100.1h0.6M32.5,103.6h0.6M39.2,101.2h0.6M37.3,100.6h0.6M27.7,102.4h0.6M33.8,103.2h0.6M31.5,100.5h0.6M35.0,100.7h0.6M31.2,99.8h0.6M34.5,101.4h0.6M43.8,101.0h0.6M22.7,101.6h0.6M46.5,100.4h0.6M28.3,100.8h0.6M16.2,100.5h0.6M31.9,98.9h0.6M36.4,99.8h0.6M22.1,100.0h0.6M36.7,103.6h0.6M40.4,101.3h0.6M30.0,100.6h0.6M38.7,100.3h0.6M35.5,102.3h0.6M27.7,100.2h0.6M35.6,101.0h0.6M32.3,100.3h0.6M32.6,103.5h0.6M41.0,98.8h0.6M33.3,101.1h0.6M33.2,99.1h0.6M32.2,101.2h0.6M29.0,101.4h0.6M18.7,98.9h0.6M33.6,101.5h0.6M32.0,100.4h0.6M34.1,102.5h0.6M38.3,100.9h0.6M30.3,102.5h0.6M36.2,102.2h0.6M31.4,99.8h0.6M34.1,100.1h0.6M39.8,102.2h0.6M20.2,101.9h0.6M40.8,102.4h0.6M30.2,99.8h0.6M38.7,102.4h0.6M33.4,99.4h0.6M24.0,101.4h0.6M28.1,100.1h0.6M35.6,102.4h0.6M20.8,100.1h0.6M40.7,100.9h0.6M31.0,101.9h0.6M26.3,99.3h0.6M33.1,103.1h0.6M39.0,101.0h0.6M39.0,100.4h0.6M26.1,98.7h0.6M34.6,102.2h0.6M35.2,100.9h0.6M30.6,102.5h0.6M32.7,99.0h0.6M41.1,100.1h0.6M35.3,101.0h0.6M39.2,101.3h0.6M40.2,101.3h0.6M30.3,100.3h0.6M36.8,99.9h0.6M38.5,100.7h0.6M27.5,99.8h0.6M32.1,103.4h0.6M37.5,101.0h0.6M27.7,103.6h0.6M31.4,101.0h0.6M30.5,102.8h0.6M34.0,100.4h0.6M34.1,99.6h0.6M26.8,100.8h0.6M16.0,102.6h0.6M44.7,99.5h0.6M32.2,98.8h0.6M34.0,101.3h0.6M37.4,99.2h0.6M29.5,100.1h0.6M31.6,104.1h0.6M31.8,100.9h0.6M30.0,102.1h0.6M48.1,102.6h0.6M42.0,99.5h0.6M39.2,101.0h0.6M40.4,102.5h0.6M36.9,98.7h0.6M33.8,100.3h0.6M35.6,101.1h0.6M39.2,98.8h0.6M28.6,100.9h0.6M34.9,100.4h0.6M32.8,101.1h0.6M39.2,100.8h0.6M34.4,98.5h0.6M17.6,99.0h0.6M35.1,97.8h0.6M35.4,100.9h0.6M33.0,100.0h0.6M30.5,102.1h0.6M35.1,101.0h0.6M30.1,101.3h0.6M40.0,101.0h0.6M30.8,99.4h0.6M33.6,99.7h0.6M24.5,102.2h0.6M29.3,98.2h0.6M28.8,103.5h0.6M32.4,99.2h0.6M26.5,102.0h0.6M35.4,101.3h0.6M31.8,101.7h0.6M42.1,101.7h0.6M32.0,99.1h0.6M35.6,103.2h0.6M36.8,99.3h0.6M34.1,102.8h0.6M29.3,101.7h0.6M40.1,103.3h0.6M23.6,98.6h0.6M35.2,102.0h0.6" stroke="#2244aa" stroke-width="1.1" opacity="1" fill="none"/>
<path d="M32.6,101.8 C33,92.5 39,82.6 46,82 C52.5,82.5 57.2,89.5 58,101.8 Z" fill="#84ec1c" filter="url(#b05)"/>
<path d="M43.2,92.9h0.6M42.9,98.9h0.6M31.3,94.3h0.6M37.3,89.7h0.6M35.7,88.5h0.6M45.3,93.1h0.6M56.9,91.9h0.6M47.7,94.7h0.6M47.2,100.2h0.6M46.4,93.7h0.6M44.8,93.0h0.6M45.1,97.9h0.6M45.6,93.3h0.6M45.2,96.7h0.6M42.5,97.6h0.6M41.8,96.4h0.6M57.8,94.1h0.6M44.9,87.2h0.6M50.2,93.1h0.6M51.3,89.8h0.6M48.8,101.9h0.6M48.1,91.4h0.6M37.2,93.0h0.6M49.7,95.9h0.6M38.3,87.9h0.6M39.2,88.0h0.6M43.7,94.3h0.6M57.8,94.0h0.6M54.8,84.9h0.6M55.4,96.9h0.6M48.3,97.1h0.6M49.5,102.4h0.6M50.7,84.4h0.6M34.3,100.9h0.6M45.0,99.5h0.6M43.3,89.8h0.6M43.3,94.6h0.6M46.7,89.9h0.6M48.9,96.0h0.6M39.6,87.5h0.6M32.9,91.5h0.6M45.6,89.6h0.6M41.6,92.3h0.6M45.7,95.8h0.6M50.8,95.2h0.6M52.7,88.2h0.6M49.4,94.8h0.6M38.8,89.7h0.6M48.3,93.4h0.6M37.4,90.3h0.6M55.3,97.2h0.6M46.0,99.7h0.6M39.7,92.2h0.6M51.7,91.3h0.6M38.3,95.9h0.6M55.8,80.5h0.6M46.5,86.8h0.6M43.6,86.0h0.6M62.2,89.6h0.6M45.8,89.5h0.6M39.1,90.8h0.6M46.8,101.7h0.6M47.3,100.7h0.6M38.7,93.4h0.6M42.7,85.3h0.6M69.4,91.8h0.6M47.1,89.3h0.6M41.8,87.9h0.6M52.1,91.0h0.6M44.6,93.9h0.6M37.6,94.1h0.6M44.4,95.2h0.6M43.0,93.2h0.6M48.8,97.8h0.6M41.1,97.8h0.6M39.2,92.1h0.6M46.3,93.7h0.6M29.5,88.2h0.6M44.3,97.6h0.6M41.0,100.5h0.6M33.9,93.4h0.6M49.0,93.1h0.6M47.2,97.6h0.6M40.3,95.9h0.6M52.3,91.8h0.6M30.6,87.1h0.6M40.0,87.8h0.6M48.3,89.0h0.6M61.4,95.8h0.6M37.1,91.6h0.6M55.3,96.4h0.6M39.0,98.1h0.6M42.4,103.9h0.6M42.0,95.9h0.6M49.1,90.8h0.6M44.5,98.7h0.6M48.7,92.7h0.6M48.4,101.6h0.6M51.5,95.4h0.6M47.6,85.3h0.6M46.4,90.6h0.6M50.2,90.0h0.6M48.4,87.8h0.6M51.3,89.4h0.6M45.3,95.9h0.6M43.4,93.0h0.6M52.3,101.7h0.6M33.9,88.5h0.6M49.8,97.6h0.6M42.5,93.5h0.6M44.3,104.2h0.6M44.2,87.1h0.6M35.5,86.7h0.6M53.9,91.1h0.6M58.0,96.2h0.6M48.0,96.2h0.6M50.6,97.5h0.6M39.2,90.2h0.6M42.0,93.5h0.6M43.9,86.9h0.6M41.0,101.8h0.6M59.1,88.8h0.6M47.9,92.8h0.6M40.1,96.5h0.6M45.1,101.2h0.6M48.4,91.5h0.6M28.5,92.5h0.6M50.9,89.5h0.6M51.2,96.4h0.6M34.2,92.0h0.6M47.6,96.7h0.6M46.5,92.9h0.6M43.3,91.6h0.6M45.5,87.8h0.6M49.6,91.4h0.6M48.9,90.5h0.6M48.1,93.6h0.6M51.2,95.3h0.6M51.5,92.2h0.6M45.1,91.7h0.6M37.4,92.4h0.6M52.5,96.8h0.6M40.0,94.5h0.6M50.3,86.3h0.6M47.7,94.6h0.6M50.3,94.3h0.6M34.3,83.1h0.6M58.2,91.1h0.6M53.7,99.2h0.6M46.1,87.4h0.6M54.3,92.8h0.6M48.8,95.4h0.6M51.6,98.0h0.6M36.4,86.1h0.6M46.4,93.0h0.6M50.5,92.3h0.6M44.3,103.0h0.6M54.3,98.7h0.6M52.2,89.1h0.6M45.0,92.7h0.6M38.5,88.7h0.6M46.5,87.0h0.6M49.0,95.3h0.6M44.0,91.3h0.6M49.4,95.4h0.6M47.8,87.0h0.6M35.1,103.1h0.6M41.3,91.2h0.6M33.8,89.1h0.6M40.8,96.9h0.6M28.5,86.1h0.6M42.9,90.6h0.6M40.5,90.8h0.6M35.4,94.3h0.6M53.2,93.8h0.6M42.1,99.2h0.6M48.6,87.9h0.6M41.8,90.0h0.6M45.2,99.0h0.6M41.0,92.3h0.6M46.2,87.1h0.6M42.4,96.0h0.6M52.8,83.8h0.6M50.0,91.6h0.6M53.8,96.1h0.6M58.1,94.5h0.6M43.0,88.9h0.6M36.3,95.7h0.6M48.8,97.0h0.6M47.8,85.6h0.6M42.9,91.8h0.6M46.5,96.8h0.6M54.6,94.4h0.6M32.2,88.0h0.6M31.8,89.2h0.6M37.8,94.2h0.6M44.1,98.5h0.6M52.4,90.8h0.6M51.6,93.1h0.6M48.4,99.6h0.6M38.1,92.7h0.6M55.4,89.3h0.6M46.9,93.7h0.6M42.8,86.6h0.6M41.1,88.2h0.6M52.4,94.2h0.6M50.0,87.2h0.6M48.7,93.7h0.6M52.2,89.5h0.6M50.7,99.7h0.6M57.1,88.4h0.6M38.3,85.8h0.6M51.7,95.9h0.6M47.7,88.8h0.6M53.6,100.9h0.6M45.3,92.4h0.6M53.1,95.5h0.6M54.1,91.0h0.6M47.7,91.3h0.6M41.8,91.5h0.6M43.7,95.5h0.6M43.6,93.3h0.6M40.3,87.0h0.6M54.7,88.2h0.6M57.2,97.6h0.6M30.8,89.9h0.6M42.8,93.1h0.6M44.4,90.0h0.6M53.6,92.4h0.6M51.7,89.6h0.6M41.1,99.5h0.6M43.7,87.6h0.6M44.4,98.2h0.6M44.5,89.5h0.6M49.6,97.8h0.6M44.2,91.4h0.6M43.2,106.2h0.6M44.3,101.5h0.6M44.6,95.0h0.6M32.4,93.9h0.6M45.8,91.5h0.6M42.9,86.3h0.6M35.9,93.8h0.6M41.4,92.6h0.6M44.4,90.5h0.6M40.8,102.1h0.6M38.4,90.5h0.6M43.6,87.4h0.6M39.4,97.2h0.6M51.5,93.6h0.6M66.3,97.1h0.6M53.4,89.0h0.6M52.5,101.2h0.6M43.1,101.8h0.6M40.3,87.5h0.6M45.2,89.1h0.6M49.6,87.6h0.6M46.1,83.4h0.6M45.3,98.1h0.6M43.8,94.5h0.6M52.5,87.6h0.6M37.4,93.4h0.6M47.3,91.7h0.6M39.3,98.9h0.6M38.1,91.7h0.6M45.2,96.5h0.6M42.6,89.0h0.6M58.4,88.9h0.6M50.6,92.3h0.6M42.5,92.8h0.6M43.9,94.5h0.6M29.2,92.9h0.6M46.0,88.3h0.6M43.0,104.4h0.6M57.4,96.1h0.6M47.0,91.5h0.6M54.4,90.8h0.6M40.3,96.4h0.6M39.3,89.1h0.6M54.8,85.2h0.6M45.1,93.6h0.6M47.2,85.9h0.6M44.1,91.4h0.6M57.9,97.9h0.6M40.7,97.3h0.6M49.7,92.5h0.6M44.0,91.7h0.6M35.6,89.9h0.6M51.5,100.1h0.6M57.4,91.2h0.6M49.5,81.3h0.6M43.8,86.8h0.6M50.8,84.9h0.6M38.8,87.6h0.6M48.1,97.1h0.6M39.6,101.8h0.6M46.6,88.9h0.6M47.8,92.9h0.6M50.9,94.7h0.6M59.6,98.7h0.6M41.4,96.8h0.6M50.4,88.1h0.6M40.7,89.1h0.6M29.7,96.1h0.6M44.1,99.0h0.6M41.9,93.4h0.6M50.2,97.7h0.6M47.6,87.9h0.6M59.7,97.2h0.6M54.3,100.9h0.6M54.5,95.0h0.6M48.6,96.1h0.6M35.9,97.0h0.6M39.3,95.1h0.6M39.1,96.5h0.6M42.4,105.1h0.6M46.8,95.5h0.6M39.7,91.6h0.6M45.2,91.6h0.6M42.7,88.7h0.6M50.4,91.1h0.6M40.3,94.8h0.6M40.3,92.2h0.6M42.3,88.5h0.6M44.1,89.0h0.6M37.5,94.7h0.6M43.6,85.9h0.6M43.0,93.9h0.6M48.3,94.8h0.6M47.2,95.9h0.6M42.4,89.1h0.6M49.5,91.0h0.6M45.6,96.2h0.6M51.6,99.0h0.6M41.1,91.2h0.6M49.1,86.0h0.6M37.5,96.0h0.6M41.6,88.5h0.6M50.7,95.6h0.6M51.4,91.4h0.6M43.7,91.4h0.6M47.5,83.1h0.6M41.1,96.5h0.6M40.6,92.7h0.6M46.4,95.5h0.6M42.5,87.5h0.6M61.5,89.5h0.6M56.5,84.5h0.6M46.3,92.1h0.6M57.7,102.9h0.6M51.8,88.1h0.6M40.4,89.3h0.6M42.3,94.3h0.6M40.5,91.8h0.6M55.0,100.0h0.6M33.7,88.4h0.6M43.2,99.3h0.6M43.4,102.3h0.6M47.9,100.0h0.6M40.1,91.5h0.6M52.1,95.8h0.6M33.6,91.7h0.6M46.7,96.1h0.6M41.5,101.5h0.6M46.5,100.0h0.6M48.1,93.4h0.6M43.5,87.3h0.6M51.1,96.7h0.6M51.5,91.2h0.6M39.1,91.2h0.6M43.6,92.9h0.6M51.8,88.6h0.6M42.5,96.4h0.6M51.3,103.7h0.6M48.9,88.9h0.6M38.9,89.2h0.6M46.0,94.2h0.6M45.1,90.0h0.6M44.4,92.6h0.6M49.4,93.4h0.6M40.4,87.3h0.6M55.0,92.6h0.6M44.5,92.9h0.6M52.8,91.5h0.6M46.7,91.9h0.6M49.3,88.1h0.6M46.9,98.0h0.6M53.1,96.0h0.6M47.5,100.6h0.6M50.1,99.8h0.6M37.9,87.7h0.6M50.7,91.7h0.6M42.8,88.4h0.6M55.0,87.2h0.6M46.3,86.3h0.6M44.5,103.9h0.6M61.1,90.6h0.6M39.1,100.9h0.6M40.1,84.4h0.6M47.8,87.8h0.6M36.3,98.5h0.6M40.9,87.9h0.6M46.7,92.1h0.6M52.7,93.5h0.6M55.7,98.5h0.6M56.9,98.4h0.6M46.0,95.6h0.6M45.7,85.5h0.6M38.1,96.6h0.6M30.5,89.0h0.6M37.4,92.7h0.6M39.0,94.2h0.6M44.3,90.7h0.6M40.2,82.3h0.6M46.1,86.8h0.6M43.7,94.8h0.6M52.3,96.4h0.6M55.0,86.1h0.6M49.9,100.6h0.6M48.1,87.6h0.6M48.1,90.5h0.6M41.5,98.2h0.6M44.5,87.6h0.6M41.3,102.5h0.6M40.2,96.3h0.6M46.7,98.7h0.6M43.8,88.4h0.6M41.5,88.0h0.6M62.1,94.0h0.6M43.6,99.1h0.6M49.8,92.1h0.6M49.6,94.3h0.6M52.8,101.0h0.6M43.6,92.8h0.6M44.4,98.9h0.6M48.0,96.8h0.6M51.3,89.9h0.6M46.4,99.7h0.6M51.5,96.9h0.6M43.8,91.3h0.6M40.2,91.7h0.6M45.2,86.1h0.6M53.0,89.3h0.6M47.2,95.9h0.6M42.1,84.3h0.6M51.7,95.0h0.6M44.0,98.5h0.6M51.3,88.4h0.6M45.1,84.5h0.6M43.9,99.8h0.6M40.3,97.0h0.6M36.0,91.6h0.6M51.6,101.3h0.6M48.5,96.7h0.6M56.5,81.2h0.6M34.8,102.2h0.6M61.3,95.9h0.6M46.0,94.3h0.6M45.8,90.0h0.6M45.5,92.4h0.6M49.9,96.3h0.6M51.8,95.9h0.6M39.5,99.7h0.6M28.7,93.6h0.6M47.7,90.5h0.6M57.5,87.7h0.6M38.2,90.6h0.6M48.3,96.9h0.6M46.3,96.2h0.6M41.2,90.1h0.6M46.4,86.5h0.6M46.8,91.1h0.6M49.9,88.1h0.6M42.3,90.3h0.6M43.3,88.2h0.6M44.0,86.5h0.6M49.0,96.3h0.6M45.5,92.1h0.6M40.0,88.4h0.6M44.2,88.6h0.6M38.2,93.8h0.6M45.5,91.1h0.6M40.5,92.8h0.6M41.2,90.9h0.6M46.8,96.5h0.6M50.4,90.1h0.6M53.2,87.4h0.6M44.5,99.3h0.6M60.6,93.6h0.6M43.3,91.2h0.6M38.0,92.3h0.6M42.9,89.4h0.6M53.2,89.3h0.6M56.3,97.1h0.6M49.6,90.2h0.6M42.4,83.4h0.6M47.3,91.7h0.6M48.0,89.8h0.6M48.7,85.8h0.6M31.8,95.3h0.6M52.4,77.8h0.6M53.7,91.3h0.6M44.6,85.6h0.6M39.3,96.4h0.6M41.0,92.8h0.6M44.6,102.6h0.6M51.2,86.6h0.6M42.6,87.5h0.6M36.9,89.7h0.6M52.5,93.2h0.6M49.8,92.4h0.6M42.9,93.4h0.6M45.1,102.3h0.6M56.9,94.8h0.6M49.4,83.4h0.6M44.8,104.6h0.6M40.6,96.9h0.6M53.3,91.1h0.6M44.2,90.8h0.6M50.6,93.1h0.6M55.0,98.7h0.6M45.5,105.6h0.6M43.7,90.1h0.6M44.1,88.8h0.6M43.0,92.7h0.6M51.2,85.4h0.6M36.8,89.3h0.6M43.7,95.2h0.6M40.6,100.3h0.6M42.3,92.0h0.6M45.9,98.7h0.6M47.5,93.1h0.6M42.2,93.8h0.6M48.1,91.3h0.6M45.4,84.1h0.6M42.3,98.7h0.6M54.5,92.7h0.6M32.0,101.9h0.6M44.5,105.4h0.6M43.0,97.9h0.6M41.7,99.7h0.6M52.8,87.9h0.6M53.7,106.9h0.6M44.2,87.1h0.6M47.3,91.1h0.6M36.2,87.9h0.6M47.1,85.6h0.6M52.4,95.2h0.6M44.5,99.8h0.6M39.8,96.3h0.6M37.1,91.4h0.6M49.6,90.4h0.6M44.9,96.2h0.6M55.1,99.3h0.6M48.4,91.7h0.6M36.5,101.3h0.6M57.3,82.6h0.6M51.0,92.8h0.6M50.0,94.5h0.6M44.4,93.0h0.6M45.3,98.7h0.6M43.9,90.4h0.6M49.7,96.1h0.6M48.3,94.4h0.6M54.8,98.4h0.6M46.9,92.0h0.6M49.7,83.9h0.6M42.3,89.6h0.6M46.6,91.1h0.6M61.0,96.6h0.6M48.1,103.9h0.6M45.6,91.5h0.6M53.3,97.0h0.6M51.4,98.9h0.6M43.3,89.8h0.6M41.1,93.5h0.6M51.8,87.9h0.6M42.2,86.5h0.6M58.1,96.9h0.6M46.9,87.1h0.6M39.1,89.9h0.6M45.8,86.8h0.6M44.1,98.9h0.6M45.6,93.5h0.6M32.5,91.7h0.6M44.6,89.6h0.6M36.9,92.7h0.6M39.2,90.3h0.6M35.6,92.5h0.6M51.2,88.9h0.6M47.6,85.6h0.6M49.2,95.6h0.6M43.1,97.3h0.6M40.1,93.2h0.6M56.1,92.9h0.6M38.5,98.6h0.6M48.9,91.7h0.6M34.2,83.8h0.6M36.1,100.2h0.6M47.4,88.9h0.6M52.8,100.1h0.6M40.3,95.4h0.6M35.3,94.8h0.6M56.9,86.1h0.6M45.9,89.9h0.6M45.0,93.4h0.6M47.3,97.3h0.6M48.8,98.1h0.6M51.9,98.4h0.6M41.3,95.0h0.6M43.2,88.9h0.6M57.8,94.4h0.6M45.8,82.7h0.6M44.1,96.8h0.6M44.3,90.3h0.6M54.8,91.5h0.6M43.5,92.5h0.6M44.1,98.1h0.6M49.1,92.7h0.6M43.3,91.9h0.6M56.1,91.5h0.6M49.6,85.3h0.6M47.6,96.4h0.6M53.5,94.5h0.6M49.2,94.6h0.6M52.2,103.0h0.6M46.8,89.0h0.6M49.3,92.5h0.6M49.5,96.8h0.6M46.5,90.9h0.6M47.5,86.9h0.6M47.3,88.7h0.6M48.4,93.6h0.6M44.2,87.1h0.6M45.9,89.7h0.6M44.7,96.4h0.6M51.5,86.7h0.6M51.4,99.6h0.6M52.6,94.4h0.6M45.0,101.5h0.6M43.6,85.6h0.6M46.1,94.4h0.6M39.1,87.1h0.6M57.9,93.6h0.6M50.4,90.2h0.6M36.1,92.1h0.6M53.9,89.7h0.6M34.4,92.2h0.6M43.8,93.1h0.6M39.1,91.5h0.6M42.2,97.3h0.6M46.5,97.3h0.6M45.3,82.6h0.6M33.4,95.6h0.6M51.0,97.3h0.6M45.1,84.3h0.6M42.5,95.0h0.6M54.1,91.3h0.6M42.1,89.2h0.6M51.9,97.2h0.6M34.2,98.9h0.6M39.8,85.8h0.6M35.7,89.5h0.6M60.0,105.5h0.6M37.8,89.7h0.6M46.6,95.0h0.6M42.6,85.3h0.6M43.0,89.7h0.6M34.4,93.7h0.6M36.5,84.5h0.6M55.0,97.6h0.6M54.6,93.6h0.6M43.0,92.6h0.6M37.1,96.6h0.6M47.3,91.5h0.6M33.9,92.5h0.6M55.7,100.1h0.6M51.0,91.3h0.6M46.4,95.7h0.6M46.8,98.1h0.6M41.4,81.7h0.6M30.5,88.6h0.6M37.0,96.2h0.6M52.3,93.0h0.6M48.9,93.4h0.6M46.7,90.7h0.6M43.1,98.8h0.6M43.9,92.8h0.6M53.0,97.8h0.6M43.1,94.2h0.6M39.3,93.6h0.6M47.5,93.0h0.6M46.6,94.8h0.6M29.8,89.0h0.6M46.0,90.6h0.6M39.6,91.8h0.6M55.6,91.9h0.6M41.5,90.7h0.6M38.2,95.4h0.6M39.4,97.5h0.6" stroke="#8f2" stroke-width="1.2" opacity="1" fill="none"/>
<ellipse cx="62.5" cy="87" rx="5.3" ry="10.6" fill="#ee1111" opacity="1" transform="rotate(20 62.5 87)" filter="url(#b05)"/>
<path d="M64.1,91.8h0.5M66.1,87.7h0.5M57.0,84.5h0.5M68.2,77.8h0.5M56.0,92.6h0.5M60.8,96.2h0.5M64.5,88.2h0.5M61.9,93.0h0.5M62.9,85.6h0.5M64.3,85.4h0.5M72.1,84.9h0.5M60.6,76.9h0.5M66.9,85.6h0.5M63.6,85.8h0.5M66.8,78.0h0.5M64.2,83.4h0.5M64.6,92.3h0.5M60.7,79.3h0.5M61.6,95.4h0.5M65.4,86.9h0.5M71.7,73.2h0.5M63.1,80.1h0.5M57.9,89.4h0.5M62.8,89.2h0.5M60.7,90.9h0.5M66.4,84.3h0.5M67.8,82.2h0.5M71.3,80.7h0.5M64.1,79.7h0.5M59.6,95.5h0.5M55.9,97.6h0.5M66.2,91.2h0.5M58.5,92.1h0.5M55.0,78.7h0.5M65.8,87.9h0.5M72.2,85.6h0.5M58.7,84.1h0.5M60.4,98.7h0.5M56.4,85.9h0.5M68.2,84.2h0.5M63.9,78.7h0.5M63.1,93.3h0.5M63.9,89.3h0.5M66.1,87.4h0.5M63.0,93.1h0.5M65.6,91.9h0.5M61.2,91.7h0.5M61.6,73.8h0.5M67.5,89.8h0.5M60.5,82.0h0.5M61.9,87.3h0.5M57.7,92.5h0.5M50.4,103.1h0.5M55.1,96.5h0.5M68.7,76.9h0.5M58.4,85.9h0.5M64.4,84.6h0.5M62.2,88.1h0.5M58.6,86.0h0.5M71.5,85.6h0.5M57.6,90.1h0.5M64.5,95.4h0.5M60.6,85.8h0.5M63.7,85.9h0.5M61.3,94.5h0.5M64.4,87.6h0.5M57.7,98.4h0.5M53.8,98.5h0.5M64.8,88.5h0.5M55.8,98.0h0.5M64.4,94.4h0.5M73.7,77.9h0.5M63.6,85.1h0.5M60.0,86.6h0.5M63.1,91.1h0.5M65.2,78.3h0.5M63.0,91.6h0.5M67.4,95.6h0.5M65.3,79.6h0.5M73.2,85.9h0.5M61.4,92.1h0.5M61.1,96.3h0.5M60.7,81.3h0.5M66.0,79.2h0.5M57.2,95.3h0.5M63.8,86.7h0.5M60.5,86.6h0.5M65.0,80.0h0.5M68.2,79.7h0.5M67.6,86.4h0.5M58.6,74.2h0.5M65.6,81.7h0.5M65.3,98.2h0.5M67.4,95.4h0.5M68.5,84.7h0.5M67.9,85.8h0.5M65.6,78.1h0.5M61.8,89.7h0.5M65.0,79.7h0.5M63.4,94.1h0.5M60.4,92.0h0.5M68.2,81.8h0.5M66.8,74.9h0.5M58.1,88.5h0.5M58.7,88.5h0.5M68.6,74.0h0.5M57.3,96.3h0.5M62.3,87.8h0.5M64.0,75.7h0.5M50.4,103.8h0.5M64.0,81.1h0.5M67.5,74.5h0.5M63.2,99.9h0.5M59.3,88.2h0.5M57.5,91.5h0.5M60.1,85.1h0.5M65.7,92.0h0.5M65.1,76.7h0.5M54.3,92.9h0.5M64.1,88.0h0.5M66.4,89.5h0.5M60.3,85.4h0.5M62.2,86.8h0.5M69.6,93.9h0.5M64.1,85.7h0.5M62.6,79.7h0.5M57.3,81.7h0.5M61.8,73.0h0.5M64.2,72.6h0.5M64.2,96.9h0.5M54.4,99.2h0.5M70.8,71.3h0.5M65.0,80.5h0.5M57.3,83.2h0.5M65.4,91.3h0.5M59.2,80.9h0.5M57.2,93.6h0.5M64.5,80.5h0.5M64.2,73.0h0.5M57.5,91.9h0.5M55.6,85.9h0.5M60.2,92.2h0.5M56.5,91.6h0.5M62.3,104.0h0.5M57.1,84.8h0.5M61.5,87.6h0.5M57.1,91.4h0.5M66.9,99.8h0.5M60.7,82.0h0.5M64.7,88.8h0.5M57.0,94.2h0.5M61.8,94.4h0.5M58.9,95.2h0.5M63.6,79.1h0.5M65.8,77.8h0.5M65.0,93.4h0.5M56.4,86.1h0.5M66.3,85.7h0.5M65.3,83.7h0.5M62.5,86.4h0.5M66.5,81.2h0.5M57.9,87.8h0.5M59.6,89.8h0.5M64.0,77.7h0.5M64.4,89.7h0.5M65.8,85.7h0.5M58.3,94.9h0.5M52.6,96.4h0.5M64.4,87.3h0.5M61.4,91.1h0.5M59.2,87.9h0.5M63.7,73.6h0.5M63.0,87.9h0.5M63.4,91.5h0.5M63.0,93.1h0.5M56.0,93.7h0.5M73.0,86.6h0.5M56.6,90.0h0.5M63.2,94.8h0.5M71.1,79.8h0.5M62.7,90.5h0.5M68.9,82.7h0.5M63.5,84.6h0.5M62.3,85.8h0.5M66.2,75.2h0.5M62.2,87.4h0.5M69.7,63.1h0.5M61.7,81.8h0.5M55.7,96.5h0.5M66.1,86.9h0.5M56.7,109.5h0.5M58.1,88.9h0.5M56.9,96.1h0.5M66.6,87.6h0.5M66.5,82.5h0.5M55.1,90.6h0.5M68.8,87.0h0.5M65.0,74.5h0.5M72.7,81.7h0.5M59.7,84.5h0.5M66.5,88.9h0.5M62.4,87.1h0.5M65.5,87.8h0.5M63.2,86.7h0.5M55.5,94.5h0.5M63.3,77.4h0.5M60.9,86.7h0.5M68.8,78.3h0.5M57.8,86.6h0.5M66.4,80.2h0.5M58.2,86.8h0.5M65.9,76.1h0.5M56.0,95.7h0.5M56.4,92.6h0.5M53.7,94.9h0.5M69.5,84.8h0.5M58.7,90.3h0.5M57.0,89.1h0.5M66.0,90.3h0.5M64.0,86.4h0.5M67.9,82.8h0.5M68.0,88.8h0.5M65.3,75.8h0.5M60.4,88.0h0.5M70.6,77.9h0.5M63.7,82.3h0.5M58.4,85.5h0.5M57.8,91.8h0.5M51.6,88.5h0.5M60.7,71.8h0.5M65.1,85.4h0.5M65.3,80.8h0.5M60.7,80.8h0.5M64.3,81.4h0.5M63.1,80.8h0.5M66.0,79.8h0.5M61.7,67.1h0.5M62.2,87.6h0.5M67.6,83.3h0.5M62.2,75.7h0.5M66.6,83.8h0.5M66.0,87.7h0.5M66.0,74.4h0.5M58.3,91.4h0.5M58.8,90.7h0.5M54.5,91.7h0.5M69.3,97.8h0.5M66.6,79.2h0.5M62.3,82.0h0.5M68.0,73.9h0.5M57.7,91.2h0.5M61.2,92.1h0.5M68.2,80.5h0.5M56.8,88.4h0.5M62.4,87.6h0.5M57.3,92.7h0.5M61.4,95.1h0.5M59.6,91.1h0.5M64.6,80.7h0.5M66.2,76.0h0.5M61.5,88.0h0.5M67.4,80.9h0.5M59.7,80.5h0.5M57.0,80.1h0.5M71.0,91.2h0.5M61.6,81.6h0.5M71.3,81.5h0.5M62.3,86.3h0.5M61.7,81.3h0.5M58.8,79.4h0.5M63.5,98.0h0.5M59.9,91.3h0.5M63.8,88.3h0.5M59.1,94.9h0.5M65.0,86.2h0.5M59.5,92.9h0.5M62.2,81.5h0.5M62.8,83.4h0.5M65.9,90.9h0.5M63.5,83.4h0.5M66.2,91.7h0.5M67.4,95.6h0.5M63.1,83.1h0.5M61.1,87.8h0.5M64.0,91.2h0.5M71.5,78.9h0.5M66.0,77.7h0.5M60.5,81.8h0.5M62.6,79.8h0.5M54.6,92.6h0.5M59.1,93.0h0.5M64.3,70.3h0.5M58.4,92.1h0.5M59.7,88.9h0.5M55.5,94.9h0.5M61.4,94.5h0.5M58.5,95.1h0.5M63.9,83.9h0.5M60.2,86.6h0.5M62.3,78.0h0.5M61.2,91.8h0.5M59.5,92.2h0.5M70.9,80.6h0.5M65.7,81.0h0.5M59.9,87.4h0.5M53.0,88.1h0.5M64.0,91.6h0.5M60.3,99.8h0.5M58.6,93.8h0.5M66.2,92.0h0.5M56.8,83.8h0.5M65.4,76.0h0.5M60.5,91.9h0.5M62.1,85.5h0.5M69.0,84.8h0.5M59.2,86.1h0.5M64.9,92.3h0.5M63.9,83.8h0.5M64.6,94.4h0.5M55.8,87.0h0.5M50.8,93.9h0.5M66.1,83.6h0.5M58.8,83.4h0.5M55.2,88.6h0.5M65.0,74.7h0.5M59.6,94.8h0.5M59.0,83.1h0.5M68.2,90.5h0.5M60.2,87.6h0.5M67.6,81.3h0.5M66.1,76.1h0.5M60.8,74.9h0.5M64.6,90.1h0.5M62.1,95.9h0.5M62.1,88.6h0.5M62.8,90.6h0.5M59.5,83.9h0.5M61.9,87.0h0.5M60.3,85.2h0.5M63.0,88.6h0.5M62.5,93.1h0.5M62.1,94.0h0.5M62.0,97.2h0.5M66.1,83.7h0.5M67.7,97.3h0.5M65.0,93.3h0.5M65.4,79.5h0.5M64.8,85.2h0.5M66.3,72.4h0.5M70.6,81.2h0.5M57.7,88.7h0.5M66.3,82.5h0.5M61.9,88.6h0.5M61.8,90.7h0.5M66.0,85.5h0.5M51.8,99.3h0.5M63.6,80.0h0.5M63.6,91.8h0.5M54.8,101.7h0.5M51.4,92.5h0.5M61.6,89.0h0.5M64.1,85.9h0.5M66.7,78.8h0.5M56.7,98.7h0.5M50.8,91.9h0.5M57.0,78.6h0.5M66.5,85.4h0.5M64.1,76.4h0.5M62.5,85.7h0.5M64.1,75.9h0.5M62.0,90.0h0.5M65.1,91.8h0.5M64.8,96.8h0.5M48.9,94.5h0.5M64.7,79.9h0.5M61.7,93.9h0.5M60.2,76.9h0.5M66.2,84.2h0.5M66.9,90.2h0.5M63.8,77.5h0.5M68.7,76.4h0.5M61.2,76.7h0.5M64.2,100.3h0.5M62.7,84.2h0.5M61.9,96.1h0.5M54.5,100.5h0.5M59.1,94.2h0.5M54.6,83.7h0.5M55.4,99.2h0.5M64.8,78.3h0.5M70.8,84.9h0.5M65.5,78.7h0.5M64.3,89.1h0.5M62.5,84.0h0.5M62.3,81.5h0.5M54.8,93.2h0.5M68.9,78.9h0.5M57.6,88.2h0.5M70.7,88.4h0.5M62.0,84.9h0.5M63.8,86.1h0.5M63.8,94.8h0.5M60.6,98.1h0.5M63.0,83.1h0.5M77.3,77.9h0.5M62.9,69.5h0.5M66.3,80.4h0.5M71.1,74.5h0.5M63.0,84.2h0.5M56.1,93.0h0.5M60.1,89.5h0.5M60.3,87.3h0.5M60.8,86.9h0.5M63.8,82.4h0.5M64.4,86.3h0.5M61.7,78.9h0.5M60.8,96.3h0.5M59.1,82.6h0.5M61.5,94.4h0.5M67.8,80.1h0.5M60.5,93.0h0.5M63.9,85.8h0.5M58.1,86.6h0.5M62.2,87.1h0.5M64.8,96.7h0.5M59.2,87.5h0.5M61.2,87.3h0.5M65.8,95.1h0.5M64.2,82.7h0.5M61.1,89.2h0.5M58.2,93.6h0.5M65.4,79.2h0.5M76.4,70.4h0.5M61.9,85.9h0.5M63.2,95.6h0.5M63.7,99.1h0.5M63.3,88.1h0.5M66.0,88.1h0.5M59.3,82.4h0.5M63.3,91.8h0.5M55.9,93.5h0.5M67.2,77.5h0.5M61.7,94.2h0.5M65.1,85.6h0.5M57.1,93.4h0.5M63.3,87.2h0.5M63.6,79.7h0.5M57.0,82.4h0.5M64.4,93.4h0.5M56.5,96.2h0.5" stroke="#f11" stroke-width="1.0" opacity="1" fill="none"/>
</g>
<text x="77.2" y="69.4" font-size="7.8" font-weight="normal" text-anchor="end" fill="#000"  textLength="31" lengthAdjust="spacingAndGlyphs">hESC EC</text>
<text x="77.2" y="76.6" font-size="7.8" font-weight="normal" text-anchor="end" fill="#000"  textLength="19.5" lengthAdjust="spacingAndGlyphs">d12+5</text>
<line x1="31.70" y1="118.80" x2="71.50" y2="118.80" stroke="#000" stroke-width="0.9" />
<path d="M71,116.9 L76.2,118.8 L71,120.7 Z" fill="#000"/>
<text x="34.6" y="127.5" font-size="8" font-weight="bold" text-anchor="start" fill="#000"  textLength="32.7" lengthAdjust="spacingAndGlyphs">CD45 Ab</text>
<text x="83" y="16.3" font-size="11" font-weight="bold" text-anchor="start" fill="#000" >B</text>
<line x1="107.20" y1="86.55" x2="200.00" y2="86.55" stroke="#d8d8d8" stroke-width="0.6" />
<line x1="107.20" y1="66.70" x2="200.00" y2="66.70" stroke="#d8d8d8" stroke-width="0.6" />
<line x1="107.20" y1="46.85" x2="200.00" y2="46.85" stroke="#d8d8d8" stroke-width="0.6" />
<line x1="107.20" y1="27.00" x2="200.00" y2="27.00" stroke="#d8d8d8" stroke-width="0.6" />
<line x1="107.20" y1="7.15" x2="200.00" y2="7.15" stroke="#d8d8d8" stroke-width="0.6" />
<text x="105.4" y="88.45000000000002" font-size="5.4" font-weight="bold" text-anchor="end" fill="#222" >3</text>
<text x="105.4" y="68.60000000000001" font-size="5.4" font-weight="bold" text-anchor="end" fill="#222" >6</text>
<text x="105.4" y="48.75" font-size="5.4" font-weight="bold" text-anchor="end" fill="#222" >9</text>
<text x="105.4" y="28.9" font-size="5.4" font-weight="bold" text-anchor="end" fill="#222" >12</text>
<text x="105.4" y="9.050000000000006" font-size="5.4" font-weight="bold" text-anchor="end" fill="#222" >15</text>
<text x="201.4" y="88.45000000000002" font-size="5.4" font-weight="bold" text-anchor="start" fill="#5a1515" >1</text>
<text x="201.4" y="68.60000000000001" font-size="5.4" font-weight="bold" text-anchor="start" fill="#5a1515" >2</text>
<text x="201.4" y="48.75" font-size="5.4" font-weight="bold" text-anchor="start" fill="#5a1515" >3</text>
<text x="201.4" y="28.9" font-size="5.4" font-weight="bold" text-anchor="start" fill="#5a1515" >4</text>
<text x="201.4" y="9.050000000000006" font-size="5.4" font-weight="bold" text-anchor="start" fill="#5a1515" >5</text>
<line x1="107.20" y1="5.00" x2="107.20" y2="106.40" stroke="#bbb" stroke-width="0.6" />
<line x1="200.00" y1="5.00" x2="200.00" y2="106.40" stroke="#e8e8e8" stroke-width="0.5" />
<line x1="107.20" y1="106.40" x2="200.00" y2="106.40" stroke="#999" stroke-width="0.6" />
<rect x="109.80" y="97.10" width="5.60" height="9.30" fill="#7cc95c" />
<rect x="109.80" y="89.00" width="5.60" height="8.10" fill="#2233dd" />
<line x1="112.60" y1="86.50" x2="112.60" y2="89.00" stroke="#333" stroke-width="0.6" />
<line x1="111.80" y1="86.50" x2="113.40" y2="86.50" stroke="#333" stroke-width="0.5" />
<rect x="115.40" y="105.70" width="5.00" height="0.70" fill="#333" />
<rect x="122.30" y="75.60" width="5.70" height="30.80" fill="#7cc95c" />
<rect x="122.30" y="51.50" width="5.70" height="24.10" fill="#2233dd" />
<line x1="125.15" y1="47.00" x2="125.15" y2="51.50" stroke="#333" stroke-width="0.6" />
<line x1="124.35" y1="47.00" x2="125.95" y2="47.00" stroke="#333" stroke-width="0.5" />
<rect x="128.00" y="105.70" width="5.00" height="0.70" fill="#333" />
<rect x="135.20" y="98.00" width="5.60" height="8.40" fill="#7cc95c" />
<rect x="135.20" y="73.50" width="5.60" height="24.50" fill="#2233dd" />
<line x1="138.00" y1="71.00" x2="138.00" y2="73.50" stroke="#333" stroke-width="0.6" />
<line x1="137.20" y1="71.00" x2="138.80" y2="71.00" stroke="#333" stroke-width="0.5" />
<rect x="140.80" y="105.70" width="5.00" height="0.70" fill="#333" />
<rect x="160.60" y="95.20" width="5.40" height="11.20" fill="#7cc95c" />
<rect x="160.60" y="79.80" width="5.40" height="15.40" fill="#2233dd" />
<line x1="163.30" y1="76.00" x2="163.30" y2="79.80" stroke="#333" stroke-width="0.6" />
<line x1="162.50" y1="76.00" x2="164.10" y2="76.00" stroke="#333" stroke-width="0.5" />
<rect x="166.20" y="101.00" width="5.00" height="5.40" fill="#dd1111" />
<rect x="173.60" y="68.30" width="5.30" height="38.10" fill="#7cc95c" />
<rect x="173.60" y="33.00" width="5.30" height="35.30" fill="#2233dd" />
<line x1="176.25" y1="28.00" x2="176.25" y2="33.00" stroke="#333" stroke-width="0.6" />
<line x1="175.45" y1="28.00" x2="177.05" y2="28.00" stroke="#333" stroke-width="0.5" />
<rect x="178.90" y="54.00" width="5.30" height="52.40" fill="#dd1111" />
<line x1="181.55" y1="47.00" x2="181.55" y2="54.00" stroke="#333" stroke-width="0.6" />
<line x1="180.75" y1="47.00" x2="182.35" y2="47.00" stroke="#333" stroke-width="0.5" />
<rect x="186.50" y="85.60" width="5.50" height="20.80" fill="#7cc95c" />
<rect x="186.50" y="27.00" width="5.50" height="58.60" fill="#2233dd" />
<line x1="189.25" y1="22.00" x2="189.25" y2="27.00" stroke="#333" stroke-width="0.6" />
<line x1="188.45" y1="22.00" x2="190.05" y2="22.00" stroke="#333" stroke-width="0.5" />
<rect x="192.00" y="31.70" width="5.20" height="74.70" fill="#dd1111" />
<line x1="194.60" y1="24.00" x2="194.60" y2="31.70" stroke="#333" stroke-width="0.6" />
<line x1="193.80" y1="24.00" x2="195.40" y2="24.00" stroke="#333" stroke-width="0.5" />
<text x="100.2" y="112.6" font-size="5.4" font-weight="bold" text-anchor="start" fill="#000"  textLength="8.6" lengthAdjust="spacingAndGlyphs">d12</text>
<text x="114.6" y="112.6" font-size="5.4" font-weight="bold" text-anchor="middle" fill="#000" >+3</text>
<text x="127.2" y="112.6" font-size="5.4" font-weight="bold" text-anchor="middle" fill="#000" >+5</text>
<text x="139.2" y="112.6" font-size="5.4" font-weight="bold" text-anchor="middle" fill="#000" >+7</text>
<text x="152" y="112.6" font-size="5.4" font-weight="bold" text-anchor="start" fill="#000"  textLength="8.6" lengthAdjust="spacingAndGlyphs">d12</text>
<text x="165.5" y="112.6" font-size="5.4" font-weight="bold" text-anchor="middle" fill="#000" >+3</text>
<text x="180" y="112.6" font-size="5.4" font-weight="bold" text-anchor="middle" fill="#000" >+5</text>
<text x="191.8" y="112.6" font-size="5.4" font-weight="bold" text-anchor="middle" fill="#000" >+7</text>
<line x1="110.00" y1="116.20" x2="140.50" y2="116.20" stroke="#aaa" stroke-width="0.6" />
<line x1="160.00" y1="116.20" x2="196.00" y2="116.20" stroke="#aaa" stroke-width="0.6" />
<text x="115.2" y="123.7" font-size="6.8" font-weight="bold" text-anchor="start" fill="#000"  textLength="20.8" lengthAdjust="spacingAndGlyphs">Plastic</text>
<text x="162.5" y="123.7" font-size="6.8" font-weight="bold" text-anchor="start" fill="#000"  textLength="32.5" lengthAdjust="spacingAndGlyphs">hESC ECs</text>
<rect x="111.50" y="12.40" width="4.60" height="4.60" fill="#55aa33" stroke="#333" stroke-width="0.5"/>
<text x="120.4" y="17.200000000000003" font-size="6.9" font-weight="bold" text-anchor="start" fill="#000"  textLength="46" lengthAdjust="spacingAndGlyphs">CD41a<tspan baseline-shift="2.6" font-size="5.5">+</tspan>/CD43<tspan baseline-shift="2.6" font-size="5.5">+</tspan></text>
<rect x="111.50" y="20.50" width="4.60" height="4.60" fill="#2233cc" stroke="#333" stroke-width="0.5"/>
<text x="120.4" y="25.299999999999997" font-size="6.9" font-weight="bold" text-anchor="start" fill="#000"  textLength="46" lengthAdjust="spacingAndGlyphs">CD41a<tspan baseline-shift="2.6" font-size="5.5">&#8211;</tspan>/CD43<tspan baseline-shift="2.6" font-size="5.5">+</tspan></text>
<rect x="111.50" y="28.60" width="4.60" height="4.60" fill="#cc2222" stroke="#333" stroke-width="0.5"/>
<text x="120.4" y="33.4" font-size="6.9" font-weight="bold" text-anchor="start" fill="#000"  textLength="46.5" lengthAdjust="spacingAndGlyphs">CD43<tspan baseline-shift="2.6" font-size="4.5">dim</tspan>/CD45<tspan baseline-shift="2.6" font-size="5.5">+</tspan></text>
<text transform="translate(96.2 96.8) rotate(-90)" font-size="6.0" font-weight="bold" fill="#000" text-anchor="start" textLength="41.3" lengthAdjust="spacingAndGlyphs"><tspan fill="#000">Total </tspan><tspan fill="#5aa035">CD41a<tspan baseline-shift="2.3" font-size="4.4">+</tspan>/CD43<tspan baseline-shift="2.3" font-size="4.4">+</tspan></tspan></text>
<text transform="translate(99.7 83.2) rotate(-90)" font-size="6.0" font-weight="bold" fill="#000" text-anchor="start" textLength="56" lengthAdjust="spacingAndGlyphs"><tspan fill="#2233aa">CD41a<tspan baseline-shift="2.3" font-size="4.4">&#8211;</tspan>/CD43<tspan baseline-shift="2.3" font-size="4.4">+</tspan></tspan><tspan fill="#000"> Cells </tspan><tspan font-size="3.6" fill="#555">(x1000)</tspan></text>
<text transform="translate(212.1 98.6) rotate(-90)" font-size="6.6" font-weight="bold" fill="#8a1a1a" text-anchor="start" textLength="83.2" lengthAdjust="spacingAndGlyphs">Total CD43<tspan baseline-shift="2.3" font-size="4.4">dim</tspan>/CD45<tspan baseline-shift="2.3" font-size="4.6">+</tspan> Cells <tspan font-size="3.8" fill="#955">(x1000)</tspan></text>
<text x="224.5" y="15.8" font-size="11" font-weight="bold" text-anchor="start" fill="#000" >C</text>
<rect x="264.60" y="9.60" width="5.80" height="5.60" fill="#000" />
<text x="273" y="15.1" font-size="6.8" font-weight="bold" text-anchor="start" fill="#000"  textLength="26" lengthAdjust="spacingAndGlyphs">- NRARP</text>
<rect x="304.50" y="9.60" width="5.80" height="5.60" fill="#999" stroke="#666" stroke-width="0.4"/>
<text x="311.7" y="15.1" font-size="6.8" font-weight="bold" text-anchor="start" fill="#000"  textLength="20.3" lengthAdjust="spacingAndGlyphs">- HEY1</text>
<rect x="337.70" y="9.60" width="5.60" height="5.60" fill="#fff" stroke="#333" stroke-width="0.5"/>
<text x="345.4" y="15.1" font-size="6.8" font-weight="bold" text-anchor="start" fill="#000"  textLength="19.2" lengthAdjust="spacingAndGlyphs">- HES1</text>
<rect x="263.80" y="17.70" width="104.70" height="111.80" fill="#fff" stroke="#333" stroke-width="0.8"/>
<line x1="284.80" y1="31.20" x2="284.80" y2="116.00" stroke="#e0e0e0" stroke-width="0.5" />
<line x1="305.80" y1="31.20" x2="305.80" y2="116.00" stroke="#e0e0e0" stroke-width="0.5" />
<line x1="326.80" y1="31.20" x2="326.80" y2="116.00" stroke="#e0e0e0" stroke-width="0.5" />
<line x1="347.80" y1="31.20" x2="347.80" y2="116.00" stroke="#e0e0e0" stroke-width="0.5" />
<line x1="263.80" y1="31.20" x2="368.50" y2="31.20" stroke="#999" stroke-width="0.5" />
<text x="284.8" y="24" font-size="5.3" font-weight="bold" text-anchor="start" fill="#000"  textLength="63.5" lengthAdjust="spacingAndGlyphs">NRARP Expression Level</text>
<text x="284.8" y="29.8" font-size="5" font-weight="normal" text-anchor="middle" fill="#111" >5</text>
<text x="305.4" y="29.8" font-size="5" font-weight="normal" text-anchor="middle" fill="#111" >10</text>
<text x="326.4" y="29.8" font-size="5" font-weight="normal" text-anchor="middle" fill="#111" >15</text>
<text x="347.5" y="29.8" font-size="5" font-weight="normal" text-anchor="middle" fill="#111" >20</text>
<text x="285.2" y="121.2" font-size="4.5" font-weight="normal" text-anchor="middle" fill="#111" >20</text>
<text x="305.6" y="121.2" font-size="4.5" font-weight="normal" text-anchor="middle" fill="#111" >40</text>
<text x="326.4" y="121.2" font-size="4.5" font-weight="normal" text-anchor="middle" fill="#111" >60</text>
<text x="347.5" y="121.2" font-size="4.5" font-weight="normal" text-anchor="middle" fill="#111" >80</text>
<text x="278.7" y="128" font-size="5.3" font-weight="bold" text-anchor="start" fill="#000"  textLength="73.8" lengthAdjust="spacingAndGlyphs">HES1/HEY1 Expression Level</text>
<rect x="263.80" y="33.00" width="99.20" height="7.60" fill="#000" />
<rect x="263.80" y="41.80" width="15.80" height="6.40" fill="#8c8c8c" stroke="#666" stroke-width="0.5"/>
<rect x="263.80" y="49.20" width="87.70" height="6.40" fill="#fff" stroke="#333" stroke-width="0.5"/>
<rect x="263.80" y="63.00" width="59.20" height="7.60" fill="#000" />
<rect x="263.80" y="71.20" width="24.50" height="6.60" fill="#8c8c8c" stroke="#666" stroke-width="0.5"/>
<rect x="263.80" y="78.60" width="47.50" height="6.60" fill="#fff" stroke="#333" stroke-width="0.5"/>
<rect x="263.80" y="92.80" width="37.00" height="7.40" fill="#000" />
<rect x="263.80" y="100.60" width="9.10" height="6.40" fill="#8c8c8c" stroke="#666" stroke-width="0.5"/>
<rect x="263.80" y="107.80" width="31.20" height="6.60" fill="#fff" stroke="#333" stroke-width="0.5"/>
<rect x="225.00" y="36.40" width="36.40" height="16.80" fill="#fff" stroke="#dd1111" stroke-width="1.7"/>
<text x="243.2" y="44.0" font-size="7.4" font-weight="bold" text-anchor="middle" fill="#000" >CD43<tspan baseline-shift="3" font-size="4.8">dim</tspan></text>
<text x="243.2" y="51.2" font-size="7.4" font-weight="bold" text-anchor="middle" fill="#000" >CD45<tspan baseline-shift="3" font-size="6">+</tspan></text>
<rect x="225.00" y="65.80" width="36.40" height="16.80" fill="#fff" stroke="#1a2ed8" stroke-width="1.7"/>
<text x="243.2" y="73.39999999999999" font-size="7.4" font-weight="bold" text-anchor="middle" fill="#000" >CD43<tspan baseline-shift="3" font-size="6">+</tspan></text>
<text x="243.2" y="80.6" font-size="7.4" font-weight="bold" text-anchor="middle" fill="#000" >CD41<tspan baseline-shift="3" font-size="4.8">neg</tspan></text>
<rect x="225.00" y="95.80" width="36.40" height="16.80" fill="#fff" stroke="#66bb44" stroke-width="1.7"/>
<text x="243.2" y="103.39999999999999" font-size="7.4" font-weight="bold" text-anchor="middle" fill="#000" >CD43<tspan baseline-shift="3" font-size="6">+</tspan></text>
<text x="243.2" y="110.6" font-size="7.4" font-weight="bold" text-anchor="middle" fill="#000" >CD41<tspan baseline-shift="3" font-size="6">+</tspan></text>
<text x="382.5" y="16.3" font-size="11" font-weight="bold" text-anchor="start" fill="#000" >D</text>
<rect x="386.20" y="49.20" width="9.60" height="51.00" fill="url(#hg)" />
<text x="391" y="42" font-size="5.6" font-weight="bold" text-anchor="middle" fill="#222" >Not</text>
<text x="391" y="46.8" font-size="5.6" font-weight="bold" text-anchor="middle" fill="#222"  textLength="28.8" lengthAdjust="spacingAndGlyphs">expressed</text>
<text x="391" y="108" font-size="5.6" font-weight="bold" text-anchor="middle" fill="#222" >Maximum</text>
<text x="391" y="112.8" font-size="5.6" font-weight="bold" text-anchor="middle" fill="#222"  textLength="29.2" lengthAdjust="spacingAndGlyphs">expression</text>
<text transform="translate(418.85 49) rotate(-90)" font-size="8.8" font-weight="bold" fill="#000" text-anchor="start">hESC</text>
<text transform="translate(431.35 49) rotate(-90)" font-size="8.8" font-weight="bold" fill="#000" text-anchor="start">Crude</text>
<text transform="translate(443.85 49) rotate(-90)" font-size="8.8" font-weight="bold" fill="#000" text-anchor="start">hESC ECs</text>
<text transform="translate(456.35 49) rotate(-90)" font-size="8.8" font-weight="bold" fill="#000" text-anchor="start">1<tspan baseline-shift="3" font-size="5">o</tspan> FL ECs</text>
<text transform="translate(468.85 49) rotate(-90)" font-size="8.8" font-weight="bold" fill="#000" text-anchor="start">1<tspan baseline-shift="3" font-size="5">o</tspan> hUVEC</text>
<text transform="translate(481.35 49) rotate(-90)" font-size="8.8" font-weight="bold" fill="#000" text-anchor="start">E4 hUVEC</text>
<rect x="409.30" y="50.20" width="12.50" height="8.27" fill="#3a862a" />
<rect x="421.80" y="50.20" width="12.50" height="8.27" fill="#1c0606" />
<rect x="434.30" y="50.20" width="12.50" height="8.27" fill="#9a0c0c" />
<rect x="446.80" y="50.20" width="12.50" height="8.27" fill="#e81010" />
<rect x="459.30" y="50.20" width="12.50" height="8.27" fill="#d41010" />
<rect x="471.80" y="50.20" width="12.50" height="8.27" fill="#e41414" />
<rect x="409.30" y="58.47" width="12.50" height="8.27" fill="#2e6e1e" />
<rect x="421.80" y="58.47" width="12.50" height="8.27" fill="#1c3812" />
<rect x="434.30" y="58.47" width="12.50" height="8.27" fill="#8a0a0a" />
<rect x="446.80" y="58.47" width="12.50" height="8.27" fill="#dc1010" />
<rect x="459.30" y="58.47" width="12.50" height="8.27" fill="#9a0a0a" />
<rect x="471.80" y="58.47" width="12.50" height="8.27" fill="#e21212" />
<rect x="409.30" y="66.74" width="12.50" height="8.27" fill="#1e4a14" />
<rect x="421.80" y="66.74" width="12.50" height="8.27" fill="#0e2a0a" />
<rect x="434.30" y="66.74" width="12.50" height="8.27" fill="#300808" />
<rect x="446.80" y="66.74" width="12.50" height="8.27" fill="#2e6e1e" />
<rect x="459.30" y="66.74" width="12.50" height="8.27" fill="#0c0c06" />
<rect x="471.80" y="66.74" width="12.50" height="8.27" fill="#12300c" />
<rect x="409.30" y="75.01" width="12.50" height="8.27" fill="#ee1010" />
<rect x="421.80" y="75.01" width="12.50" height="8.27" fill="#3a7a25" />
<rect x="434.30" y="75.01" width="12.50" height="8.27" fill="#2e6e1e" />
<rect x="446.80" y="75.01" width="12.50" height="8.27" fill="#3c8a2a" />
<rect x="459.30" y="75.01" width="12.50" height="8.27" fill="#347a22" />
<rect x="471.80" y="75.01" width="12.50" height="8.27" fill="#2e6a1e" />
<rect x="409.30" y="83.28" width="12.50" height="8.27" fill="#3a8a2a" />
<rect x="421.80" y="83.28" width="12.50" height="8.27" fill="#10280c" />
<rect x="434.30" y="83.28" width="12.50" height="8.27" fill="#ec1010" />
<rect x="446.80" y="83.28" width="12.50" height="8.27" fill="#ee1414" />
<rect x="459.30" y="83.28" width="12.50" height="8.27" fill="#cc1010" />
<rect x="471.80" y="83.28" width="12.50" height="8.27" fill="#0c280c" />
<rect x="409.30" y="91.55" width="12.50" height="8.27" fill="#3a0606" />
<rect x="421.80" y="91.55" width="12.50" height="8.27" fill="#e01010" />
<rect x="434.30" y="91.55" width="12.50" height="8.27" fill="#ea1212" />
<rect x="446.80" y="91.55" width="12.50" height="8.27" fill="#b00a0a" />
<rect x="459.30" y="91.55" width="12.50" height="8.27" fill="#d81010" />
<rect x="471.80" y="91.55" width="12.50" height="8.27" fill="#e01010" />
<rect x="409.30" y="99.82" width="12.50" height="8.27" fill="#0c0505" />
<rect x="421.80" y="99.82" width="12.50" height="8.27" fill="#163a14" />
<rect x="434.30" y="99.82" width="12.50" height="8.27" fill="#500808" />
<rect x="446.80" y="99.82" width="12.50" height="8.27" fill="#e61010" />
<rect x="459.30" y="99.82" width="12.50" height="8.27" fill="#b00a0a" />
<rect x="471.80" y="99.82" width="12.50" height="8.27" fill="#e01010" />
<rect x="409.30" y="108.09" width="12.50" height="8.27" fill="#2e6e1e" />
<rect x="421.80" y="108.09" width="12.50" height="8.27" fill="#0a1a0a" />
<rect x="434.30" y="108.09" width="12.50" height="8.27" fill="#d01010" />
<rect x="446.80" y="108.09" width="12.50" height="8.27" fill="#e01010" />
<rect x="459.30" y="108.09" width="12.50" height="8.27" fill="#d01010" />
<rect x="471.80" y="108.09" width="12.50" height="8.27" fill="#e01010" />
<rect x="409.30" y="116.36" width="12.50" height="8.27" fill="#400606" />
<rect x="421.80" y="116.36" width="12.50" height="8.27" fill="#900a0a" />
<rect x="434.30" y="116.36" width="12.50" height="8.27" fill="#de1010" />
<rect x="446.80" y="116.36" width="12.50" height="8.27" fill="#e01010" />
<rect x="459.30" y="116.36" width="12.50" height="8.27" fill="#b40a0a" />
<rect x="471.80" y="116.36" width="12.50" height="8.27" fill="#700808" />
<line x1="409.30" y1="58.47" x2="484.30" y2="58.47" stroke="#ffffff" stroke-width="0.6" opacity="0.4"/>
<line x1="409.30" y1="66.74" x2="484.30" y2="66.74" stroke="#ffffff" stroke-width="0.6" opacity="0.4"/>
<line x1="409.30" y1="75.01" x2="484.30" y2="75.01" stroke="#ffffff" stroke-width="0.6" opacity="0.4"/>
<line x1="409.30" y1="83.28" x2="484.30" y2="83.28" stroke="#ffffff" stroke-width="0.6" opacity="0.4"/>
<line x1="409.30" y1="91.55" x2="484.30" y2="91.55" stroke="#ffffff" stroke-width="0.6" opacity="0.4"/>
<line x1="409.30" y1="99.82" x2="484.30" y2="99.82" stroke="#ffffff" stroke-width="0.6" opacity="0.4"/>
<line x1="409.30" y1="108.09" x2="484.30" y2="108.09" stroke="#ffffff" stroke-width="0.6" opacity="0.4"/>
<line x1="409.30" y1="116.36" x2="484.30" y2="116.36" stroke="#ffffff" stroke-width="0.6" opacity="0.4"/>
<line x1="421.80" y1="50.20" x2="421.80" y2="124.63" stroke="#ffffff" stroke-width="0.6" opacity="0.4"/>
<line x1="434.30" y1="50.20" x2="434.30" y2="124.63" stroke="#ffffff" stroke-width="0.6" opacity="0.4"/>
<line x1="446.80" y1="50.20" x2="446.80" y2="124.63" stroke="#ffffff" stroke-width="0.6" opacity="0.4"/>
<line x1="459.30" y1="50.20" x2="459.30" y2="124.63" stroke="#ffffff" stroke-width="0.6" opacity="0.4"/>
<line x1="471.80" y1="50.20" x2="471.80" y2="124.63" stroke="#ffffff" stroke-width="0.6" opacity="0.4"/>
<text x="486.4" y="57.300000000000004" font-size="8.4" font-weight="bold" text-anchor="start" fill="#000"  textLength="20.8" lengthAdjust="spacingAndGlyphs">CD31</text>
<text x="486.4" y="65.57" font-size="8.4" font-weight="bold" text-anchor="start" fill="#000"  textLength="20.8" lengthAdjust="spacingAndGlyphs">CD34</text>
<text x="486.4" y="73.84" font-size="8.4" font-weight="bold" text-anchor="start" fill="#000"  textLength="14.5" lengthAdjust="spacingAndGlyphs">Dll1</text>
<text x="486.4" y="82.11" font-size="8.4" font-weight="bold" text-anchor="start" fill="#000"  textLength="15" lengthAdjust="spacingAndGlyphs">Dll3</text>
<text x="486.4" y="90.38" font-size="8.4" font-weight="bold" text-anchor="start" fill="#000"  textLength="14.5" lengthAdjust="spacingAndGlyphs">Dll4</text>
<text x="486.4" y="98.64999999999999" font-size="8.4" font-weight="bold" text-anchor="start" fill="#000"  textLength="30.2" lengthAdjust="spacingAndGlyphs">Jagged1</text>
<text x="486.4" y="106.91999999999999" font-size="8.4" font-weight="bold" text-anchor="start" fill="#000"  textLength="30.5" lengthAdjust="spacingAndGlyphs">Jagged2</text>
<text x="486.4" y="115.19" font-size="8.4" font-weight="bold" text-anchor="start" fill="#000"  textLength="27.6" lengthAdjust="spacingAndGlyphs">VE-cad</text>
<text x="486.4" y="123.46" font-size="8.4" font-weight="bold" text-anchor="start" fill="#000"  textLength="30.4" lengthAdjust="spacingAndGlyphs">VEGFR2</text>
<line x1="505.50" y1="87.40" x2="514.20" y2="87.40" stroke="#c02838" stroke-width="1.2" />
<path d="M508.2,84.6 L504.2,87.4 L508.2,90.2" stroke="#c02838" stroke-width="1.2" fill="none"/>
<rect x="35.60" y="134.00" width="9.60" height="9.20" fill="#7ccc44" stroke="#4a8a2a" stroke-width="0.5"/>
<text x="49" y="142.6" font-size="10" font-weight="bold" text-anchor="start" fill="#6ab040"  textLength="36.5" lengthAdjust="spacingAndGlyphs">- CD31<tspan baseline-shift="4" font-size="8">+</tspan></text>
<rect x="90.40" y="134.00" width="9.60" height="9.20" fill="#dd1111" stroke="#991111" stroke-width="0.5"/>
<text x="102.5" y="142.6" font-size="10" font-weight="bold" text-anchor="start" fill="#bb1a1a"  textLength="45" lengthAdjust="spacingAndGlyphs">- CD31<tspan baseline-shift="4" font-size="7.2">neg</tspan></text>
<text transform="translate(9.6 261.5) rotate(-90)" font-size="9.6" font-weight="bold" fill="#000" text-anchor="start" textLength="61.5" lengthAdjust="spacingAndGlyphs">VPr-mOrange</text>
<line x1="13.00" y1="325.00" x2="13.00" y2="151.00" stroke="#000" stroke-width="0.9" />
<path d="M11,152.5 L13,146 L15,152.5 Z" fill="#000"/>
<rect x="21.60" y="145.80" width="53.40" height="47.40" fill="#fff" stroke="#888" stroke-width="0.8"/>
<line x1="21.60" y1="194.80" x2="75.00" y2="194.80" stroke="#aaa" stroke-width="0.6" />
<text x="29.5" y="198.79999999999998" font-size="3.2" font-weight="normal" text-anchor="middle" fill="#555" >10<tspan baseline-shift="1.5" font-size="2.2">2</tspan></text>
<text x="42.25" y="198.79999999999998" font-size="3.2" font-weight="normal" text-anchor="middle" fill="#555" >10<tspan baseline-shift="1.5" font-size="2.2">2</tspan></text>
<text x="55.0" y="198.79999999999998" font-size="3.2" font-weight="normal" text-anchor="middle" fill="#555" >10<tspan baseline-shift="1.5" font-size="2.2">2</tspan></text>
<text x="67.75" y="198.79999999999998" font-size="3.2" font-weight="normal" text-anchor="middle" fill="#555" >10<tspan baseline-shift="1.5" font-size="2.2">2</tspan></text>
<text transform="translate(19.6 191.7) rotate(-90)" font-size="3" font-weight="normal" fill="#666" text-anchor="start">10<tspan baseline-shift="1.5" font-size="2.2">2</tspan></text>
<text transform="translate(19.6 182.0720930232558) rotate(-90)" font-size="3" font-weight="normal" fill="#666" text-anchor="start">10<tspan baseline-shift="1.5" font-size="2.2">2</tspan></text>
<text transform="translate(19.6 172.44418604651162) rotate(-90)" font-size="3" font-weight="normal" fill="#666" text-anchor="start">10<tspan baseline-shift="1.5" font-size="2.2">2</tspan></text>
<text transform="translate(19.6 162.81627906976746) rotate(-90)" font-size="3" font-weight="normal" fill="#666" text-anchor="start">10<tspan baseline-shift="1.5" font-size="2.2">2</tspan></text>
<text transform="translate(19.6 153.18837209302325) rotate(-90)" font-size="3" font-weight="normal" fill="#666" text-anchor="start">10<tspan baseline-shift="1.5" font-size="2.2">2</tspan></text>
<path d="M28.00,193.2v1.6M31.84,193.2v1.6M34.08,193.2v1.6M35.68,193.2v1.6M36.91,193.2v1.6M37.92,193.2v1.6M38.78,193.2v1.6M39.51,193.2v1.6M40.17,193.2v1.6M40.75,193.2v1.6M44.59,193.2v1.6M46.83,193.2v1.6M48.43,193.2v1.6M49.66,193.2v1.6M50.67,193.2v1.6M51.53,193.2v1.6M52.26,193.2v1.6M52.92,193.2v1.6M53.50,193.2v1.6M57.34,193.2v1.6M59.58,193.2v1.6M61.18,193.2v1.6M62.41,193.2v1.6M63.42,193.2v1.6M64.28,193.2v1.6M65.01,193.2v1.6M65.67,193.2v1.6M66.25,193.2v1.6M70.09,193.2v1.6M72.33,193.2v1.6M73.93,193.2v1.6M20.10,190.20h3M20.10,180.57h3M20.10,170.94h3M20.10,161.32h3M20.10,151.69h3" stroke="#888" stroke-width="0.45" fill="none"/>
<g clip-path="url(#cE)">
<ellipse cx="36" cy="163" rx="8" ry="13" fill="#f7dada" opacity="0.45" transform="rotate(20 36 163)" filter="url(#b3)"/>
<ellipse cx="51" cy="180" rx="9" ry="9" fill="#cdeac0" opacity="0.55" transform="rotate(0 51 180)" filter="url(#b3)"/>
<path d="M49.7,173.4h0.4M56.4,186.6h0.4M48.8,172.3h0.4M50.6,165.6h0.4M51.3,187.4h0.4M52.5,174.9h0.4M54.9,176.3h0.4M58.0,177.0h0.4M62.3,177.1h0.4M52.1,173.8h0.4M43.9,180.9h0.4M52.9,173.6h0.4M54.1,176.7h0.4M47.9,178.6h0.4M53.2,183.0h0.4M57.8,181.1h0.4M47.0,175.2h0.4M53.0,172.4h0.4M50.1,176.9h0.4M50.5,180.0h0.4M56.7,188.0h0.4M55.9,184.6h0.4M45.1,184.7h0.4M58.2,171.5h0.4M64.9,175.9h0.4M37.8,188.7h0.4M51.4,174.6h0.4M47.8,184.9h0.4M52.4,176.9h0.4M57.4,173.8h0.4M46.3,175.9h0.4M46.9,182.8h0.4M49.7,173.2h0.4M48.5,168.0h0.4M51.9,179.6h0.4M54.4,177.7h0.4M53.2,173.8h0.4M51.1,179.9h0.4M44.3,182.2h0.4M51.8,179.3h0.4M48.4,190.0h0.4M51.0,174.8h0.4M46.3,182.3h0.4M49.8,174.6h0.4M47.0,184.1h0.4M51.5,184.8h0.4M50.9,172.5h0.4M55.8,180.8h0.4M47.4,177.3h0.4M45.6,183.6h0.4M48.7,181.6h0.4M52.4,177.6h0.4M53.0,177.6h0.4M44.5,176.7h0.4M44.5,183.2h0.4M54.6,175.8h0.4M54.4,180.4h0.4M56.4,173.9h0.4M51.1,173.5h0.4M47.2,186.5h0.4M39.9,174.0h0.4M53.7,183.3h0.4M46.7,167.8h0.4M41.5,181.0h0.4M57.1,184.0h0.4M47.0,186.4h0.4M50.0,182.4h0.4M49.9,187.8h0.4M48.1,167.2h0.4M49.3,180.0h0.4M52.5,175.1h0.4M49.7,172.8h0.4M49.7,179.5h0.4M52.3,188.0h0.4M40.0,181.8h0.4M53.4,172.6h0.4M51.4,179.0h0.4M45.5,183.0h0.4M61.5,182.7h0.4M55.3,184.9h0.4M50.3,184.3h0.4M46.6,180.0h0.4M54.9,186.2h0.4M49.4,177.4h0.4M53.6,178.6h0.4M51.8,183.4h0.4M46.8,183.8h0.4M53.1,177.5h0.4M44.1,175.5h0.4M50.8,184.1h0.4M40.2,182.9h0.4M52.1,172.8h0.4M55.7,181.2h0.4M53.4,173.6h0.4M44.9,184.0h0.4M58.7,181.0h0.4M49.9,176.5h0.4M41.6,184.4h0.4M50.5,185.7h0.4M47.1,184.8h0.4M47.1,182.2h0.4M58.5,175.1h0.4M56.0,179.0h0.4M45.9,180.1h0.4M54.5,175.1h0.4M49.5,175.9h0.4M46.8,177.9h0.4M55.5,176.3h0.4M57.8,176.9h0.4M47.2,184.9h0.4M58.7,175.4h0.4M54.2,172.6h0.4M48.8,177.0h0.4M54.9,172.2h0.4M48.2,175.2h0.4M51.5,172.3h0.4M43.7,194.4h0.4M52.2,170.8h0.4M55.5,171.8h0.4M40.7,188.1h0.4M57.8,174.4h0.4M45.1,181.6h0.4M62.1,182.3h0.4M54.6,172.5h0.4M41.3,181.1h0.4M56.5,179.7h0.4M51.0,186.5h0.4M46.4,185.0h0.4M55.5,175.6h0.4M51.7,179.6h0.4M54.2,173.7h0.4M49.7,179.5h0.4M51.2,179.1h0.4M52.4,178.0h0.4M48.3,184.6h0.4M47.5,177.3h0.4M46.2,172.8h0.4M53.4,178.8h0.4M50.3,181.5h0.4M50.1,182.7h0.4M60.8,180.9h0.4M49.6,188.0h0.4M54.8,170.0h0.4M58.2,180.1h0.4M55.6,172.7h0.4M46.4,175.5h0.4M54.0,172.9h0.4M47.2,184.2h0.4M47.5,179.6h0.4M46.1,169.8h0.4M50.5,178.3h0.4M43.2,184.3h0.4M55.4,183.8h0.4M48.2,172.8h0.4M50.5,179.9h0.4M50.1,175.8h0.4M45.6,175.0h0.4M50.5,176.4h0.4M60.0,177.5h0.4M53.4,176.5h0.4M50.0,173.7h0.4M48.4,170.9h0.4M39.8,186.2h0.4M45.3,181.3h0.4M50.3,175.9h0.4M54.9,176.0h0.4M53.3,177.0h0.4M56.2,184.2h0.4M51.3,184.9h0.4M53.7,187.4h0.4M50.3,170.7h0.4M52.1,180.3h0.4M49.0,177.9h0.4M49.5,172.2h0.4M60.3,174.8h0.4M45.2,170.5h0.4M46.4,178.8h0.4M58.9,182.2h0.4M47.1,172.3h0.4M45.0,178.5h0.4M55.7,176.4h0.4M59.6,189.4h0.4M51.8,167.3h0.4M56.9,178.5h0.4M54.6,184.3h0.4M45.6,179.3h0.4M51.9,174.9h0.4M54.7,178.3h0.4M48.8,189.1h0.4M51.9,187.8h0.4M50.2,184.6h0.4M46.9,179.8h0.4M56.8,167.3h0.4M53.9,177.5h0.4M56.8,180.0h0.4M50.6,172.1h0.4M66.8,175.0h0.4M49.2,175.1h0.4M49.4,180.2h0.4M43.8,184.7h0.4M49.6,182.2h0.4M39.6,176.2h0.4M49.4,176.9h0.4M47.4,180.7h0.4M53.2,173.7h0.4M40.4,182.9h0.4M49.3,184.7h0.4M55.7,178.4h0.4M43.3,177.0h0.4M47.1,185.7h0.4M41.9,183.9h0.4M42.7,175.9h0.4M43.4,175.2h0.4M48.6,181.0h0.4M47.8,182.7h0.4M60.4,179.8h0.4M44.8,178.0h0.4M50.4,177.0h0.4M57.2,185.2h0.4M61.7,181.8h0.4M36.7,178.3h0.4M54.6,174.6h0.4M47.7,183.9h0.4M51.7,172.9h0.4M47.8,162.4h0.4M51.0,172.4h0.4M50.7,172.6h0.4M46.0,176.2h0.4M65.9,172.6h0.4M44.6,176.1h0.4M56.7,183.3h0.4M54.7,177.2h0.4M51.7,174.8h0.4M50.0,174.6h0.4M43.2,173.6h0.4M61.3,181.1h0.4M46.9,178.4h0.4M48.5,185.5h0.4M50.8,175.6h0.4M54.6,180.7h0.4M47.3,174.8h0.4M51.7,170.2h0.4M46.1,184.4h0.4M55.6,185.0h0.4M48.6,175.8h0.4M49.5,176.4h0.4M57.8,177.8h0.4M58.2,175.2h0.4M53.0,187.7h0.4M47.0,175.5h0.4M47.7,170.3h0.4M49.4,175.5h0.4M62.8,176.4h0.4M39.5,184.1h0.4M56.1,178.8h0.4M52.5,182.8h0.4M47.9,179.2h0.4M51.7,187.9h0.4M58.5,179.9h0.4M43.8,183.7h0.4M50.7,185.3h0.4M51.2,180.0h0.4M54.5,175.0h0.4M47.4,191.3h0.4M46.3,184.0h0.4M54.6,183.4h0.4M58.3,171.8h0.4M56.1,167.9h0.4M51.2,180.8h0.4M56.5,184.8h0.4M45.9,177.5h0.4M50.1,175.2h0.4M46.5,175.4h0.4M57.1,186.3h0.4M55.0,188.0h0.4M51.4,173.1h0.4M47.4,180.1h0.4M56.4,185.5h0.4M46.1,184.1h0.4M48.1,182.2h0.4M55.8,187.0h0.4M48.1,180.3h0.4M53.2,176.7h0.4M51.4,182.2h0.4M42.1,175.5h0.4M63.3,181.4h0.4M47.9,169.1h0.4M45.8,181.8h0.4M54.6,181.4h0.4M54.1,175.7h0.4M59.5,172.9h0.4M53.7,177.6h0.4M41.8,183.9h0.4M49.5,182.8h0.4M57.7,179.9h0.4M47.4,177.8h0.4M50.6,186.8h0.4M55.5,187.5h0.4M55.0,174.9h0.4M55.9,184.2h0.4" stroke="#7c6" stroke-width="0.8" opacity="0.55" fill="none"/>
<path d="M32.6,172.4h0.3M37.8,154.5h0.3M31.6,175.5h0.3M41.2,144.5h0.3M26.5,177.4h0.3M32.0,179.8h0.3M32.3,162.2h0.3M32.3,158.1h0.3M37.2,170.4h0.3M31.2,170.0h0.3M29.2,161.4h0.3M32.3,149.8h0.3M31.5,154.1h0.3M38.5,185.0h0.3M44.0,164.6h0.3M42.5,157.7h0.3M31.1,169.3h0.3M25.4,166.8h0.3M45.9,148.1h0.3M22.5,160.3h0.3M33.7,169.2h0.3M26.6,171.5h0.3M38.3,160.8h0.3M43.0,173.9h0.3M32.1,188.3h0.3M33.0,164.7h0.3M26.2,162.2h0.3M28.0,194.3h0.3M37.3,171.1h0.3M31.1,156.8h0.3M29.9,150.2h0.3M34.4,171.2h0.3M30.7,163.9h0.3M28.2,172.7h0.3M40.5,163.5h0.3M37.0,154.5h0.3M24.2,189.3h0.3M31.7,176.7h0.3M32.6,184.2h0.3M36.5,158.1h0.3M37.2,179.4h0.3M27.2,177.8h0.3M35.0,167.5h0.3M43.0,177.0h0.3M37.8,165.3h0.3M32.1,179.1h0.3M40.2,161.2h0.3M37.8,167.6h0.3M37.3,166.6h0.3M28.9,147.1h0.3M41.0,144.7h0.3M19.1,185.7h0.3M40.4,164.6h0.3M45.0,145.7h0.3M32.6,178.5h0.3M40.8,155.0h0.3M42.2,164.5h0.3M31.0,168.8h0.3M25.7,188.2h0.3M26.2,189.6h0.3M42.0,156.2h0.3M34.7,168.5h0.3M38.0,183.9h0.3M51.4,166.3h0.3M23.8,190.9h0.3M28.7,169.8h0.3M47.5,160.8h0.3M35.8,159.6h0.3M36.3,173.1h0.3M32.2,174.6h0.3M32.0,162.5h0.3M30.0,189.6h0.3M34.5,168.5h0.3M41.8,171.4h0.3M41.2,173.0h0.3M40.6,172.1h0.3M33.0,157.4h0.3M30.2,188.1h0.3M46.4,168.4h0.3M52.9,161.5h0.3M26.8,175.8h0.3M23.1,174.3h0.3M34.6,175.2h0.3M26.8,169.5h0.3M40.3,169.3h0.3M40.5,170.3h0.3M38.0,165.4h0.3M28.0,163.6h0.3M40.5,161.2h0.3M29.9,148.1h0.3M43.0,168.3h0.3M26.1,179.2h0.3M39.6,152.1h0.3M35.8,158.0h0.3M37.3,158.2h0.3M33.6,172.8h0.3M32.5,164.7h0.3M31.0,176.2h0.3M28.1,174.3h0.3M42.5,168.5h0.3M30.7,162.8h0.3M27.2,158.8h0.3M29.0,163.8h0.3M30.9,172.5h0.3M34.0,172.6h0.3M33.6,170.8h0.3M26.2,172.5h0.3M37.9,182.0h0.3M25.9,169.6h0.3M23.1,172.5h0.3M35.5,162.8h0.3M31.7,164.0h0.3M38.5,158.0h0.3M34.3,170.8h0.3M38.0,168.6h0.3M26.2,191.9h0.3M39.3,173.3h0.3M24.9,171.6h0.3M48.1,141.7h0.3M32.6,171.6h0.3M34.8,169.0h0.3M28.9,181.9h0.3M38.1,165.8h0.3M25.8,189.1h0.3M32.1,160.8h0.3M36.2,170.2h0.3M31.5,182.6h0.3M39.6,174.6h0.3M35.4,167.4h0.3M29.9,177.9h0.3M31.8,154.7h0.3M36.0,157.1h0.3M26.4,178.8h0.3M20.3,169.4h0.3M28.6,162.8h0.3M35.5,156.6h0.3M26.4,165.7h0.3M26.5,140.1h0.3M28.6,178.5h0.3M46.3,168.7h0.3M31.5,163.4h0.3M34.0,178.6h0.3M27.8,171.0h0.3M30.5,179.7h0.3M33.4,165.0h0.3M35.2,152.6h0.3M33.8,175.9h0.3M40.2,173.0h0.3M35.8,157.6h0.3M31.2,158.2h0.3M36.5,169.6h0.3M22.6,162.3h0.3M37.3,156.6h0.3M32.8,173.4h0.3M34.3,151.9h0.3M32.1,170.0h0.3M27.7,183.4h0.3M39.5,157.9h0.3M41.7,162.9h0.3M38.4,170.4h0.3M45.5,160.2h0.3M37.4,173.8h0.3M27.3,173.4h0.3M46.2,176.3h0.3M31.2,164.9h0.3M41.2,173.3h0.3M45.6,164.2h0.3M48.2,154.3h0.3M35.1,164.6h0.3M27.6,179.6h0.3M30.3,170.4h0.3M42.2,180.3h0.3M35.4,159.6h0.3M22.3,167.8h0.3M35.7,181.2h0.3M28.2,190.8h0.3M48.0,145.7h0.3M27.0,174.4h0.3M29.6,175.8h0.3M52.1,165.3h0.3M47.6,171.7h0.3M26.4,166.0h0.3M42.2,163.8h0.3M47.1,162.2h0.3M30.4,177.1h0.3M35.9,161.8h0.3M32.4,174.7h0.3M39.5,185.6h0.3M45.6,171.5h0.3M25.8,164.2h0.3M36.4,156.9h0.3M32.3,166.2h0.3M31.8,177.6h0.3M25.5,178.0h0.3M32.5,175.7h0.3M46.6,157.7h0.3M46.6,163.8h0.3M33.1,180.1h0.3M46.0,153.7h0.3M31.6,180.1h0.3" stroke="#e77" stroke-width="0.7" opacity="0.35" fill="none"/>
<path d="M51.1,162.2h0.5M39.9,181.7h0.5M54.9,151.3h0.5M48.9,153.8h0.5M47.4,166.4h0.5M62.9,144.5h0.5M37.8,165.4h0.5M64.7,151.3h0.5M73.5,140.3h0.5M59.6,178.1h0.5M38.5,163.2h0.5M54.2,158.4h0.5M50.8,159.8h0.5M57.0,153.3h0.5M44.1,167.6h0.5M63.5,150.8h0.5M37.4,178.8h0.5M43.4,184.0h0.5M51.2,147.4h0.5M53.1,134.7h0.5M56.6,150.7h0.5M50.2,152.0h0.5M44.3,171.9h0.5M66.7,146.3h0.5M61.6,165.2h0.5M46.0,159.6h0.5M58.9,146.9h0.5M63.8,162.7h0.5M44.1,167.2h0.5M56.9,174.7h0.5M43.2,165.1h0.5M54.5,171.6h0.5M58.1,160.5h0.5M62.8,144.9h0.5M55.3,148.5h0.5M40.6,179.9h0.5M48.3,141.1h0.5M46.8,159.2h0.5M63.1,159.1h0.5M38.3,174.0h0.5M49.5,170.6h0.5M61.0,158.4h0.5M57.1,157.1h0.5M46.3,162.4h0.5M62.6,151.1h0.5M42.7,167.4h0.5M47.4,171.4h0.5M55.2,153.6h0.5M51.2,172.8h0.5M29.5,162.9h0.5M42.3,168.1h0.5M61.8,166.0h0.5M44.1,162.9h0.5M47.7,170.0h0.5M41.8,161.2h0.5M51.1,174.3h0.5M46.1,178.8h0.5M38.0,173.9h0.5M59.4,153.4h0.5M47.6,165.4h0.5M43.4,179.4h0.5M55.9,158.6h0.5M65.5,167.7h0.5M40.1,170.7h0.5M54.5,153.4h0.5M36.9,172.7h0.5M44.6,160.9h0.5M50.1,159.8h0.5M45.6,162.3h0.5M47.0,177.2h0.5M57.5,149.5h0.5M43.0,158.3h0.5M28.1,169.3h0.5M50.5,165.0h0.5M48.1,151.5h0.5M42.3,168.3h0.5M44.5,168.8h0.5M67.7,144.3h0.5M40.9,176.5h0.5M47.5,163.1h0.5M59.2,149.7h0.5M64.0,169.8h0.5M57.8,160.9h0.5M50.7,181.1h0.5M50.9,178.2h0.5M45.2,181.2h0.5M52.4,166.5h0.5M61.9,156.7h0.5M31.5,163.4h0.5M57.0,156.4h0.5M56.5,152.2h0.5M45.2,162.6h0.5M45.9,173.1h0.5M46.2,170.2h0.5M59.9,158.3h0.5M46.8,150.1h0.5M53.5,156.9h0.5M68.1,164.0h0.5M59.2,156.9h0.5M63.9,152.3h0.5M55.1,169.0h0.5M57.4,149.1h0.5M64.4,163.2h0.5M76.1,142.4h0.5M31.7,179.1h0.5M60.8,170.1h0.5M52.3,173.8h0.5M48.2,163.7h0.5M54.3,144.9h0.5M46.6,172.0h0.5M60.7,150.8h0.5M55.1,167.6h0.5M57.3,163.1h0.5M42.2,174.1h0.5M67.1,155.4h0.5M38.2,170.2h0.5M52.7,165.5h0.5M38.6,171.2h0.5M50.6,166.7h0.5M56.9,159.3h0.5M52.4,166.5h0.5M52.4,170.3h0.5M49.1,151.4h0.5M41.4,175.3h0.5M39.5,173.7h0.5M50.8,177.0h0.5M63.5,171.6h0.5M44.2,178.1h0.5M46.3,175.9h0.5M40.4,178.6h0.5M66.6,144.1h0.5M58.4,165.4h0.5M48.4,157.3h0.5M41.5,175.1h0.5M53.4,164.1h0.5M57.4,153.8h0.5M50.9,156.3h0.5M58.1,150.2h0.5M41.8,173.1h0.5M53.6,165.3h0.5M54.7,162.3h0.5M38.4,169.0h0.5M59.8,177.2h0.5M37.5,192.8h0.5M40.8,165.1h0.5M51.2,159.4h0.5M42.6,156.9h0.5M64.6,147.7h0.5M53.3,157.5h0.5M41.2,167.0h0.5M57.1,174.0h0.5M51.4,175.6h0.5M46.7,169.7h0.5M61.3,163.8h0.5M60.0,148.2h0.5M46.7,148.2h0.5M53.4,170.8h0.5M43.3,178.8h0.5M31.7,172.3h0.5M46.1,172.4h0.5M64.4,159.8h0.5M43.5,164.9h0.5M54.9,157.1h0.5M55.5,155.4h0.5M54.5,160.0h0.5M67.7,158.4h0.5M53.7,166.5h0.5M66.6,158.8h0.5M36.4,180.8h0.5M50.2,157.2h0.5M55.8,151.7h0.5M47.1,184.4h0.5M55.6,155.0h0.5M39.0,166.0h0.5M44.3,167.7h0.5M40.9,150.5h0.5M51.6,170.4h0.5M33.4,156.7h0.5M51.9,163.9h0.5M52.3,157.7h0.5M48.3,169.7h0.5M33.9,152.3h0.5M57.7,164.6h0.5M64.3,157.9h0.5M54.8,180.8h0.5M29.6,192.0h0.5M47.9,185.9h0.5M45.3,158.2h0.5M46.3,176.7h0.5M60.6,149.9h0.5M59.0,166.2h0.5M55.8,161.8h0.5M60.1,148.4h0.5M59.2,159.2h0.5M38.5,161.8h0.5M44.2,173.9h0.5M64.1,153.5h0.5M50.2,163.0h0.5M59.0,152.6h0.5M44.6,174.5h0.5M47.7,183.8h0.5M72.9,139.1h0.5M53.4,156.8h0.5M24.4,170.0h0.5M56.1,166.8h0.5M49.7,170.2h0.5M40.3,177.7h0.5M55.3,179.0h0.5M46.3,164.4h0.5M51.4,174.9h0.5M40.7,171.5h0.5M51.0,172.5h0.5M49.0,161.9h0.5M40.9,156.5h0.5M50.8,158.9h0.5M51.8,159.2h0.5M50.9,165.0h0.5M48.7,160.0h0.5M47.2,168.6h0.5M56.0,161.3h0.5M58.1,143.0h0.5M41.4,163.6h0.5M34.8,177.7h0.5M53.0,158.9h0.5M54.1,157.2h0.5M47.2,162.1h0.5M42.3,159.9h0.5M56.9,153.6h0.5M54.2,171.2h0.5M61.7,160.3h0.5M52.6,146.4h0.5M55.8,137.6h0.5M63.0,164.0h0.5M55.9,158.5h0.5M39.3,180.1h0.5M48.5,146.8h0.5M58.2,154.3h0.5M45.9,180.0h0.5M50.8,174.9h0.5M43.2,173.8h0.5M55.1,147.9h0.5M51.5,160.0h0.5M64.7,157.3h0.5M62.8,159.3h0.5M56.1,140.8h0.5M61.1,147.9h0.5M52.0,164.9h0.5M62.4,141.4h0.5M45.2,166.6h0.5M36.6,164.7h0.5" stroke="#6b4" stroke-width="0.9" opacity="0.5" fill="none"/>
<ellipse cx="50.8" cy="163.2" rx="7.3" ry="14" fill="#55bb33" opacity="1" transform="rotate(30 50.8 163.2)" filter="url(#b05)"/>
<ellipse cx="51.4" cy="162.2" rx="5.2" ry="11" fill="url(#gG)" opacity="1" transform="rotate(30 51.4 162.2)" filter="url(#b05)"/>
<path d="M38.6,173.2h0.5M34.2,183.5h0.5M39.5,171.2h0.5M42.5,173.8h0.5M33.4,186.6h0.5M34.7,193.8h0.5M39.9,181.2h0.5M34.5,178.8h0.5M25.2,203.6h0.5M42.6,172.3h0.5M49.6,167.9h0.5M46.1,169.3h0.5M33.8,171.0h0.5M40.9,165.8h0.5M39.3,178.1h0.5M46.4,172.3h0.5M25.4,179.3h0.5M30.9,185.2h0.5M31.7,162.0h0.5M27.9,194.1h0.5M39.3,159.1h0.5M28.0,188.3h0.5M48.9,170.0h0.5M41.7,161.0h0.5M36.8,167.8h0.5M33.0,188.0h0.5M47.9,180.1h0.5M38.7,181.3h0.5M28.2,194.0h0.5M32.3,192.2h0.5M33.6,185.5h0.5M38.8,178.0h0.5M35.0,172.7h0.5M37.9,174.5h0.5M37.8,171.0h0.5M40.9,177.6h0.5M36.6,175.6h0.5M44.1,176.2h0.5M46.0,173.7h0.5M40.0,186.2h0.5M32.1,180.3h0.5M45.2,172.3h0.5M33.8,179.7h0.5M36.6,174.8h0.5M34.9,180.3h0.5M33.0,191.6h0.5M21.9,201.3h0.5M27.0,191.6h0.5M42.0,165.3h0.5M35.9,173.8h0.5M49.6,163.3h0.5M34.1,175.1h0.5M37.2,182.4h0.5M40.5,178.3h0.5M29.9,187.1h0.5M41.8,184.7h0.5M40.6,170.9h0.5M43.4,185.7h0.5M45.9,165.7h0.5M28.0,199.2h0.5M36.4,175.6h0.5M43.5,179.6h0.5M31.2,195.7h0.5M34.9,168.1h0.5M38.6,180.1h0.5M37.1,176.4h0.5M35.2,180.9h0.5M35.4,174.3h0.5M42.0,169.1h0.5M47.8,160.4h0.5M39.4,178.1h0.5M25.3,186.2h0.5M22.1,192.2h0.5M27.8,186.1h0.5M28.8,190.9h0.5M30.7,185.7h0.5M43.1,161.4h0.5M35.7,182.5h0.5M30.5,192.4h0.5M39.4,164.1h0.5M40.3,172.5h0.5M35.8,177.4h0.5M27.9,184.9h0.5M27.8,192.2h0.5M32.6,187.0h0.5M37.9,171.5h0.5M37.8,169.2h0.5M37.5,179.8h0.5M38.4,162.4h0.5M40.6,160.6h0.5M39.2,163.1h0.5M44.3,169.6h0.5M34.3,175.3h0.5M34.5,181.2h0.5M36.6,184.7h0.5M29.2,187.3h0.5M40.9,172.6h0.5M47.7,171.2h0.5M32.6,189.1h0.5M35.2,180.8h0.5M33.8,183.5h0.5M37.1,178.2h0.5M47.5,163.5h0.5M38.6,175.7h0.5M43.2,184.4h0.5M30.5,181.6h0.5M39.8,166.9h0.5M32.8,181.2h0.5M36.6,189.0h0.5M37.9,176.8h0.5M31.7,188.1h0.5M30.6,187.0h0.5M32.9,175.8h0.5M36.4,185.2h0.5M39.3,173.8h0.5M30.6,170.0h0.5M34.4,172.4h0.5M46.2,174.8h0.5M39.9,179.4h0.5M31.1,176.1h0.5M44.6,169.5h0.5M33.0,171.9h0.5M41.9,174.3h0.5M36.0,182.4h0.5M34.3,181.4h0.5M42.4,178.9h0.5M42.3,169.5h0.5M33.6,175.2h0.5M42.6,173.9h0.5M26.3,182.2h0.5M57.5,161.5h0.5M31.2,176.3h0.5M42.4,170.9h0.5M32.8,187.5h0.5M31.8,183.1h0.5M40.8,170.2h0.5M36.3,171.2h0.5M36.7,190.2h0.5M44.1,165.2h0.5M35.9,173.2h0.5M28.3,173.2h0.5M43.2,167.3h0.5M36.4,172.9h0.5M41.0,187.2h0.5M39.0,180.0h0.5M26.8,182.4h0.5M41.9,160.2h0.5M40.8,176.4h0.5M33.9,181.9h0.5M33.4,180.5h0.5M43.0,177.8h0.5M34.7,177.0h0.5M40.7,175.7h0.5M39.5,172.2h0.5M33.5,182.0h0.5M33.6,174.3h0.5M33.2,168.6h0.5M34.2,182.2h0.5M32.4,174.5h0.5M31.0,178.2h0.5M35.3,181.9h0.5M41.6,165.4h0.5M39.8,165.3h0.5M33.7,175.7h0.5M43.5,174.7h0.5M32.1,177.6h0.5M18.9,189.5h0.5M25.4,182.6h0.5M36.0,187.8h0.5M32.6,183.4h0.5M30.6,184.8h0.5M37.1,169.4h0.5M39.8,174.7h0.5M42.8,172.0h0.5M41.6,170.1h0.5M26.3,195.2h0.5M37.2,165.1h0.5M30.6,172.2h0.5M44.9,177.4h0.5M40.9,178.1h0.5M24.8,192.8h0.5M48.7,164.8h0.5M30.4,178.9h0.5M39.9,177.2h0.5M35.1,182.8h0.5M30.4,185.1h0.5M29.4,182.0h0.5M39.1,181.3h0.5M34.9,176.7h0.5M25.9,174.9h0.5M39.2,157.9h0.5M43.4,171.7h0.5M37.5,178.8h0.5M32.9,166.3h0.5M33.0,180.9h0.5M42.0,167.3h0.5M33.6,177.3h0.5M32.9,171.2h0.5M43.3,158.9h0.5M39.4,188.6h0.5M30.1,184.4h0.5M25.2,188.0h0.5M34.1,178.0h0.5M33.4,177.1h0.5M37.4,178.6h0.5M29.5,182.1h0.5M38.5,178.8h0.5M43.8,173.8h0.5M42.2,179.1h0.5M44.4,177.3h0.5M34.2,178.8h0.5M34.4,191.9h0.5M37.5,170.6h0.5M33.9,189.5h0.5M40.5,176.4h0.5M41.5,180.2h0.5M34.2,183.1h0.5M43.8,157.7h0.5M34.0,184.0h0.5M35.6,183.0h0.5M32.3,186.6h0.5M30.1,190.2h0.5M32.9,184.3h0.5M32.6,178.9h0.5M37.3,179.7h0.5M42.3,181.4h0.5M39.3,183.0h0.5M44.6,172.6h0.5M30.5,184.8h0.5M31.1,179.1h0.5M37.7,180.5h0.5M35.6,183.0h0.5M33.4,180.5h0.5M36.1,172.8h0.5M30.1,173.3h0.5M29.1,174.1h0.5M41.8,169.1h0.5M35.2,180.2h0.5M38.8,169.3h0.5M33.9,180.8h0.5M31.5,195.6h0.5M26.6,176.1h0.5M40.8,173.3h0.5M28.3,195.6h0.5M30.7,189.1h0.5M42.5,176.3h0.5M21.6,182.2h0.5M50.3,166.4h0.5M38.5,171.4h0.5M36.8,178.6h0.5" stroke="#e33" stroke-width="0.9" opacity="0.6" fill="none"/>
<ellipse cx="36.2" cy="177.6" rx="4.9" ry="10" fill="#e21414" opacity="1" transform="rotate(28 36.2 177.6)" filter="url(#b05)"/>
<path d="M40.9,176.1h0.3M46.2,171.6h0.3M28.9,191.5h0.3M34.2,180.6h0.3M25.3,193.7h0.3M39.6,177.0h0.3M30.9,175.8h0.3M44.2,168.1h0.3M33.4,179.7h0.3M30.8,173.0h0.3M36.3,168.3h0.3M34.0,183.9h0.3M41.2,175.8h0.3M42.8,169.2h0.3M31.0,178.2h0.3M38.3,171.7h0.3M32.3,173.6h0.3M47.9,170.4h0.3M30.3,181.8h0.3M33.3,171.5h0.3M33.1,183.4h0.3M30.7,186.8h0.3M36.6,176.9h0.3M36.4,180.0h0.3M35.3,170.5h0.3M34.7,178.9h0.3M35.3,172.1h0.3M33.4,178.2h0.3M33.4,180.0h0.3M40.0,173.4h0.3M39.2,170.7h0.3M34.2,181.8h0.3M39.1,167.0h0.3M38.5,176.8h0.3M34.9,179.8h0.3M34.5,182.8h0.3M41.7,165.5h0.3M36.0,175.2h0.3M34.1,178.9h0.3M31.8,183.8h0.3M34.7,176.5h0.3M29.1,187.9h0.3M36.9,171.0h0.3M33.1,180.9h0.3M36.9,176.6h0.3M38.8,164.7h0.3M36.5,176.0h0.3M39.6,182.0h0.3M34.5,183.1h0.3M37.7,169.8h0.3M31.0,184.6h0.3M40.5,175.9h0.3M30.4,180.5h0.3M42.3,173.4h0.3M42.7,175.9h0.3M38.8,177.5h0.3M37.3,173.9h0.3M36.2,181.7h0.3M39.2,177.2h0.3M27.8,187.3h0.3M41.2,179.0h0.3M28.9,183.6h0.3M36.5,178.0h0.3M37.4,180.6h0.3M30.7,187.9h0.3M29.6,178.1h0.3M33.6,176.4h0.3M35.1,178.6h0.3M28.1,177.6h0.3M43.5,178.8h0.3M36.7,182.1h0.3M38.6,175.3h0.3M37.1,179.8h0.3M37.5,183.9h0.3M43.2,161.4h0.3M38.7,182.2h0.3M38.6,174.6h0.3M38.7,188.1h0.3M37.6,175.7h0.3M33.7,185.4h0.3M34.8,183.2h0.3M35.9,179.7h0.3M32.7,176.3h0.3M36.6,177.2h0.3M34.8,178.7h0.3M35.4,175.6h0.3M26.0,187.5h0.3M37.6,170.0h0.3M36.2,174.6h0.3M40.8,163.3h0.3M37.5,185.2h0.3M33.7,179.8h0.3M38.3,167.5h0.3M35.4,181.0h0.3M34.6,176.5h0.3M28.8,172.3h0.3M38.5,179.9h0.3M35.0,180.8h0.3M34.8,167.7h0.3M32.3,176.9h0.3M40.3,166.8h0.3M39.1,177.9h0.3M32.9,189.4h0.3M35.9,168.4h0.3M34.9,186.4h0.3M36.2,180.0h0.3M36.1,181.9h0.3M30.8,179.5h0.3M40.1,176.9h0.3M35.4,173.6h0.3M33.2,179.4h0.3M38.2,178.8h0.3M40.8,167.9h0.3M38.2,171.7h0.3M33.8,178.5h0.3M26.2,195.9h0.3M35.6,173.4h0.3M34.1,174.5h0.3M32.6,182.3h0.3M28.5,179.3h0.3" stroke="#b00" stroke-width="0.7" opacity="0.5" fill="none"/>
</g>
<text x="25" y="158.4" font-size="11" font-weight="bold" text-anchor="start" fill="#000" >E</text>
<text x="73.6" y="183.3" font-size="8.2" font-weight="bold" text-anchor="end" fill="#000"  textLength="13" lengthAdjust="spacingAndGlyphs">Scr</text>
<text x="73.6" y="191" font-size="8.2" font-weight="bold" text-anchor="end" fill="#000"  textLength="26.8" lengthAdjust="spacingAndGlyphs">shRNA</text>
<rect x="21.60" y="210.60" width="53.40" height="47.30" fill="#fff" stroke="#888" stroke-width="0.8"/>
<line x1="21.60" y1="259.50" x2="75.00" y2="259.50" stroke="#aaa" stroke-width="0.6" />
<text x="29.5" y="263.5" font-size="3.2" font-weight="normal" text-anchor="middle" fill="#555" >10<tspan baseline-shift="1.5" font-size="2.2">2</tspan></text>
<text x="42.25" y="263.5" font-size="3.2" font-weight="normal" text-anchor="middle" fill="#555" >10<tspan baseline-shift="1.5" font-size="2.2">2</tspan></text>
<text x="55.0" y="263.5" font-size="3.2" font-weight="normal" text-anchor="middle" fill="#555" >10<tspan baseline-shift="1.5" font-size="2.2">2</tspan></text>
<text x="67.75" y="263.5" font-size="3.2" font-weight="normal" text-anchor="middle" fill="#555" >10<tspan baseline-shift="1.5" font-size="2.2">2</tspan></text>
<text transform="translate(19.6 256.4) rotate(-90)" font-size="3" font-weight="normal" fill="#666" text-anchor="start">10<tspan baseline-shift="1.5" font-size="2.2">2</tspan></text>
<text transform="translate(19.6 246.79534883720927) rotate(-90)" font-size="3" font-weight="normal" fill="#666" text-anchor="start">10<tspan baseline-shift="1.5" font-size="2.2">2</tspan></text>
<text transform="translate(19.6 237.1906976744186) rotate(-90)" font-size="3" font-weight="normal" fill="#666" text-anchor="start">10<tspan baseline-shift="1.5" font-size="2.2">2</tspan></text>
<text transform="translate(19.6 227.5860465116279) rotate(-90)" font-size="3" font-weight="normal" fill="#666" text-anchor="start">10<tspan baseline-shift="1.5" font-size="2.2">2</tspan></text>
<text transform="translate(19.6 217.9813953488372) rotate(-90)" font-size="3" font-weight="normal" fill="#666" text-anchor="start">10<tspan baseline-shift="1.5" font-size="2.2">2</tspan></text>
<path d="M28.00,257.9v1.6M31.84,257.9v1.6M34.08,257.9v1.6M35.68,257.9v1.6M36.91,257.9v1.6M37.92,257.9v1.6M38.78,257.9v1.6M39.51,257.9v1.6M40.17,257.9v1.6M40.75,257.9v1.6M44.59,257.9v1.6M46.83,257.9v1.6M48.43,257.9v1.6M49.66,257.9v1.6M50.67,257.9v1.6M51.53,257.9v1.6M52.26,257.9v1.6M52.92,257.9v1.6M53.50,257.9v1.6M57.34,257.9v1.6M59.58,257.9v1.6M61.18,257.9v1.6M62.41,257.9v1.6M63.42,257.9v1.6M64.28,257.9v1.6M65.01,257.9v1.6M65.67,257.9v1.6M66.25,257.9v1.6M70.09,257.9v1.6M72.33,257.9v1.6M73.93,257.9v1.6M20.10,254.90h3M20.10,245.30h3M20.10,235.69h3M20.10,226.09h3M20.10,216.48h3" stroke="#888" stroke-width="0.45" fill="none"/>
<g clip-path="url(#cF)">
<ellipse cx="38" cy="228" rx="7" ry="11" fill="#f7dada" opacity="0.4" transform="rotate(20 38 228)" filter="url(#b3)"/>
<ellipse cx="52" cy="241" rx="7" ry="7" fill="#d4ecc8" opacity="0.5" transform="rotate(0 52 241)" filter="url(#b3)"/>
<path d="M44.1,236.7h0.3M33.4,240.0h0.3M41.6,239.9h0.3M37.1,239.7h0.3M30.9,239.6h0.3M40.8,242.1h0.3M32.0,236.8h0.3M35.8,242.7h0.3M31.5,246.9h0.3M39.5,251.0h0.3M33.0,252.4h0.3M38.6,238.3h0.3M30.4,236.2h0.3M49.3,234.2h0.3M48.6,230.0h0.3M30.2,258.4h0.3M44.2,228.9h0.3M40.2,239.4h0.3M44.8,237.2h0.3M31.3,230.6h0.3M35.8,251.5h0.3M39.3,241.0h0.3M42.6,240.0h0.3M34.4,240.9h0.3M46.3,238.3h0.3M43.8,235.3h0.3M33.2,239.6h0.3M35.3,228.1h0.3M34.8,230.9h0.3M21.3,259.7h0.3M40.8,242.4h0.3M43.0,213.6h0.3M43.5,235.2h0.3M45.5,239.2h0.3M34.3,230.3h0.3M37.1,222.3h0.3M44.4,236.9h0.3M44.4,236.6h0.3M39.5,234.1h0.3M38.4,232.2h0.3M46.1,243.7h0.3M19.1,250.7h0.3M38.9,254.2h0.3M38.2,238.2h0.3M34.8,239.8h0.3M40.4,241.3h0.3M38.5,228.5h0.3M38.2,260.7h0.3M34.6,230.5h0.3M34.8,245.5h0.3M36.1,242.0h0.3M34.1,251.8h0.3M25.5,246.7h0.3M37.5,246.3h0.3M31.2,233.6h0.3M33.4,245.3h0.3M38.1,248.4h0.3M24.8,248.3h0.3M33.6,249.0h0.3M41.4,233.3h0.3M48.5,253.6h0.3M44.3,237.8h0.3M31.2,249.9h0.3M31.5,257.8h0.3M49.7,233.2h0.3M24.0,246.6h0.3M42.4,239.2h0.3M39.2,233.9h0.3M48.2,243.5h0.3M26.1,244.7h0.3M35.7,243.1h0.3M36.1,238.6h0.3M25.3,239.8h0.3M36.2,234.5h0.3M33.2,252.9h0.3M27.2,232.7h0.3M35.7,251.1h0.3M31.5,240.5h0.3M35.4,249.9h0.3M35.5,236.5h0.3M29.5,249.3h0.3M45.8,238.9h0.3M36.1,241.7h0.3M33.7,236.4h0.3M38.6,249.7h0.3M37.5,232.0h0.3M44.6,226.0h0.3M38.9,242.0h0.3M32.0,234.1h0.3M35.7,235.6h0.3M26.5,250.3h0.3M29.0,244.4h0.3M31.8,254.1h0.3M37.6,239.9h0.3M47.6,222.6h0.3M51.6,244.8h0.3M41.8,228.7h0.3M29.2,254.6h0.3M31.7,242.0h0.3M38.6,251.7h0.3M44.3,222.7h0.3M37.2,246.5h0.3M38.2,235.1h0.3M54.9,230.3h0.3M38.1,233.0h0.3M33.0,229.2h0.3M27.5,249.3h0.3M35.4,222.4h0.3M46.9,226.4h0.3M30.3,228.6h0.3M36.3,227.6h0.3M34.8,243.8h0.3M35.8,235.7h0.3M42.4,240.7h0.3M44.6,236.7h0.3M34.2,253.2h0.3M15.8,263.9h0.3M37.8,236.0h0.3M34.7,243.9h0.3M31.3,237.0h0.3M27.7,251.6h0.3M25.5,241.2h0.3M39.8,232.3h0.3M39.7,238.2h0.3M36.9,242.4h0.3M46.2,239.7h0.3M59.9,219.9h0.3M41.5,256.4h0.3M45.1,246.3h0.3M44.3,231.5h0.3M50.6,233.2h0.3M33.6,237.8h0.3M37.4,243.9h0.3M33.4,233.6h0.3M34.6,252.4h0.3M39.9,246.0h0.3M39.1,234.4h0.3M35.6,237.8h0.3M43.1,236.9h0.3M53.6,236.6h0.3M43.1,240.5h0.3M38.9,236.2h0.3M47.4,241.7h0.3M40.2,242.7h0.3M38.9,247.6h0.3M50.1,238.0h0.3M25.2,253.3h0.3M44.2,244.3h0.3M35.1,241.6h0.3M48.5,236.7h0.3M45.8,243.6h0.3M37.9,235.4h0.3M25.2,237.2h0.3M33.6,231.3h0.3M32.0,239.7h0.3M41.4,242.5h0.3M36.8,244.4h0.3M43.5,249.9h0.3M46.4,243.9h0.3M42.9,235.1h0.3M45.1,233.9h0.3M43.4,235.6h0.3M30.0,250.3h0.3M34.7,247.8h0.3M45.7,222.3h0.3M46.5,242.6h0.3M29.8,246.9h0.3M35.5,230.1h0.3M47.3,236.9h0.3M45.3,240.5h0.3M36.4,240.1h0.3M30.0,248.5h0.3M43.3,243.8h0.3M38.4,246.8h0.3M54.4,230.3h0.3M38.8,251.3h0.3M36.1,239.3h0.3M30.0,250.5h0.3M28.8,242.4h0.3M41.8,248.9h0.3M37.5,234.5h0.3M31.6,224.7h0.3M48.2,234.5h0.3M30.4,233.3h0.3M27.7,240.1h0.3M28.6,246.4h0.3M44.1,226.8h0.3M36.9,232.0h0.3M27.4,249.0h0.3M30.8,240.6h0.3M31.9,243.9h0.3M37.9,221.8h0.3M33.6,254.6h0.3M32.0,233.4h0.3M39.7,230.1h0.3M42.7,243.3h0.3M31.6,234.3h0.3M48.3,237.4h0.3M39.1,231.1h0.3M41.4,235.5h0.3" stroke="#e77" stroke-width="0.7" opacity="0.35" fill="none"/>
<path d="M63.2,228.2h0.3M40.4,230.3h0.3M35.8,210.9h0.3M53.5,235.4h0.3M51.1,225.8h0.3M37.1,267.6h0.3M48.2,227.3h0.3M46.8,235.2h0.3M50.0,237.1h0.3M65.5,236.2h0.3M48.8,234.3h0.3M69.1,237.2h0.3M58.3,249.5h0.3M39.0,212.3h0.3M44.0,231.7h0.3M61.7,237.9h0.3M42.7,252.2h0.3M44.1,252.8h0.3M38.1,243.3h0.3M61.9,208.3h0.3M49.5,224.5h0.3M48.6,238.7h0.3M54.9,239.5h0.3M38.4,245.1h0.3M60.9,237.2h0.3M49.1,229.4h0.3M54.9,225.0h0.3M56.2,226.1h0.3M60.6,228.8h0.3M54.5,236.9h0.3M51.2,237.5h0.3M32.4,251.1h0.3M44.2,235.9h0.3M55.2,228.3h0.3M59.1,249.0h0.3M48.0,236.1h0.3M49.3,249.0h0.3M60.7,234.6h0.3M57.1,220.6h0.3M50.1,240.9h0.3M46.7,236.5h0.3M56.1,228.5h0.3M38.6,237.2h0.3M67.5,247.1h0.3M50.7,218.5h0.3M51.2,239.0h0.3M75.9,216.4h0.3M64.8,241.0h0.3M51.8,236.1h0.3M51.9,228.1h0.3M69.1,220.7h0.3M49.1,236.7h0.3M42.3,224.1h0.3M61.5,241.6h0.3M54.1,241.3h0.3M52.5,236.2h0.3M48.3,227.0h0.3M72.0,228.4h0.3M58.3,220.0h0.3M53.2,223.0h0.3M43.1,229.4h0.3M43.6,233.1h0.3M78.7,216.2h0.3M62.6,212.5h0.3M50.0,235.0h0.3M48.0,243.9h0.3M63.0,217.2h0.3M68.2,229.6h0.3M50.5,234.7h0.3M46.3,229.4h0.3M72.0,222.8h0.3M43.7,221.4h0.3M58.4,219.9h0.3M32.1,231.2h0.3M62.5,221.7h0.3M57.2,233.8h0.3M61.0,220.7h0.3M48.9,235.6h0.3M46.2,215.6h0.3M49.2,254.0h0.3M57.8,234.1h0.3M47.5,224.1h0.3M48.8,235.1h0.3M38.2,253.5h0.3M73.6,217.5h0.3M44.8,227.4h0.3M57.6,239.7h0.3M42.4,206.2h0.3M59.2,242.9h0.3M66.5,249.6h0.3M48.1,247.8h0.3M52.7,225.4h0.3M44.6,230.3h0.3M51.0,242.4h0.3M59.7,243.6h0.3M62.8,234.8h0.3M42.4,234.9h0.3M52.9,248.3h0.3M54.2,227.2h0.3M48.5,233.9h0.3M53.5,230.2h0.3M56.2,230.5h0.3M58.4,228.0h0.3M43.8,223.1h0.3M70.3,232.3h0.3M52.2,248.0h0.3M47.8,232.3h0.3M34.1,228.1h0.3M62.6,239.9h0.3M42.2,218.8h0.3M47.2,230.1h0.3M57.1,229.5h0.3M55.1,223.4h0.3M55.9,236.2h0.3M58.0,228.9h0.3M57.9,231.3h0.3M55.8,231.8h0.3M54.1,219.4h0.3M47.2,212.1h0.3M39.0,263.7h0.3M45.8,218.1h0.3M34.0,264.6h0.3M57.7,220.6h0.3M44.8,252.8h0.3M39.7,210.2h0.3M67.7,226.4h0.3M55.5,225.9h0.3M65.9,221.8h0.3M53.9,235.3h0.3M54.6,238.2h0.3M63.4,216.4h0.3M55.7,222.1h0.3M57.9,232.1h0.3M48.2,242.8h0.3M43.3,247.1h0.3M66.6,221.8h0.3M42.4,240.9h0.3M43.2,241.0h0.3M49.7,228.7h0.3M68.5,221.7h0.3M55.9,228.2h0.3M45.1,248.4h0.3M63.5,221.6h0.3M62.0,231.7h0.3M48.0,243.3h0.3M45.7,239.6h0.3M59.0,224.5h0.3M58.0,218.3h0.3M60.3,238.3h0.3M65.6,225.7h0.3M65.2,224.5h0.3M55.0,233.0h0.3M47.2,232.5h0.3M57.8,224.2h0.3M54.7,217.1h0.3M61.7,238.9h0.3M46.8,236.9h0.3M53.2,217.9h0.3M47.0,248.0h0.3M54.2,234.7h0.3M73.3,224.8h0.3M80.1,234.1h0.3M59.6,219.4h0.3M45.8,225.0h0.3M74.9,233.1h0.3M47.3,232.0h0.3M47.3,225.6h0.3M70.3,215.2h0.3M52.5,228.1h0.3M50.1,228.9h0.3M42.9,220.8h0.3M54.9,220.4h0.3M51.1,255.5h0.3M63.1,227.2h0.3M60.2,242.3h0.3M44.1,234.3h0.3M45.9,235.0h0.3M53.2,246.3h0.3M46.4,226.6h0.3M59.5,220.8h0.3M52.2,240.1h0.3M46.4,221.4h0.3M52.1,215.8h0.3M38.3,240.4h0.3M50.5,225.7h0.3M54.4,245.4h0.3M73.8,218.5h0.3M67.6,218.8h0.3M50.8,225.6h0.3M38.6,247.9h0.3M45.6,242.2h0.3M52.1,230.7h0.3M54.2,238.1h0.3M65.7,218.0h0.3M54.8,237.0h0.3M57.4,233.9h0.3M62.8,221.6h0.3M67.3,225.3h0.3M57.3,247.0h0.3M54.1,229.0h0.3" stroke="#7c6" stroke-width="0.7" opacity="0.4" fill="none"/>
<ellipse cx="53.2" cy="228.3" rx="8" ry="12.6" fill="#4cb030" opacity="1" transform="rotate(30 53.2 228.3)" filter="url(#b05)"/>
<ellipse cx="53.6" cy="227.8" rx="6" ry="9.8" fill="url(#gG)" opacity="1" transform="rotate(30 53.6 227.8)" filter="url(#b05)"/>
<ellipse cx="37.8" cy="241.6" rx="5.2" ry="11" fill="#d81212" opacity="1" transform="rotate(28 37.8 241.6)" filter="url(#b05)"/>
<ellipse cx="37.8" cy="241.8" rx="3.5" ry="8" fill="url(#gR)" opacity="1" transform="rotate(28 37.8 241.8)" filter="url(#b05)"/>
</g>
<text x="25" y="222.2" font-size="11" font-weight="bold" text-anchor="start" fill="#000" >F</text>
<text x="73.6" y="246.2" font-size="8.2" font-weight="bold" text-anchor="end" fill="#000"  textLength="13.3" lengthAdjust="spacingAndGlyphs">Dll4</text>
<text x="73.6" y="255.8" font-size="8.2" font-weight="bold" text-anchor="end" fill="#000"  textLength="26.8" lengthAdjust="spacingAndGlyphs">shRNA</text>
<rect x="21.60" y="273.70" width="53.40" height="49.20" fill="#fff" stroke="#888" stroke-width="0.8"/>
<line x1="21.60" y1="324.50" x2="75.00" y2="324.50" stroke="#aaa" stroke-width="0.6" />
<text x="29.5" y="328.5" font-size="3.2" font-weight="normal" text-anchor="middle" fill="#555" >10<tspan baseline-shift="1.5" font-size="2.2">2</tspan></text>
<text x="42.25" y="328.5" font-size="3.2" font-weight="normal" text-anchor="middle" fill="#555" >10<tspan baseline-shift="1.5" font-size="2.2">2</tspan></text>
<text x="55.0" y="328.5" font-size="3.2" font-weight="normal" text-anchor="middle" fill="#555" >10<tspan baseline-shift="1.5" font-size="2.2">2</tspan></text>
<text x="67.75" y="328.5" font-size="3.2" font-weight="normal" text-anchor="middle" fill="#555" >10<tspan baseline-shift="1.5" font-size="2.2">2</tspan></text>
<text transform="translate(19.6 321.4) rotate(-90)" font-size="3" font-weight="normal" fill="#666" text-anchor="start">10<tspan baseline-shift="1.5" font-size="2.2">2</tspan></text>
<text transform="translate(19.6 311.353488372093) rotate(-90)" font-size="3" font-weight="normal" fill="#666" text-anchor="start">10<tspan baseline-shift="1.5" font-size="2.2">2</tspan></text>
<text transform="translate(19.6 301.30697674418604) rotate(-90)" font-size="3" font-weight="normal" fill="#666" text-anchor="start">10<tspan baseline-shift="1.5" font-size="2.2">2</tspan></text>
<text transform="translate(19.6 291.2604651162791) rotate(-90)" font-size="3" font-weight="normal" fill="#666" text-anchor="start">10<tspan baseline-shift="1.5" font-size="2.2">2</tspan></text>
<text transform="translate(19.6 281.21395348837206) rotate(-90)" font-size="3" font-weight="normal" fill="#666" text-anchor="start">10<tspan baseline-shift="1.5" font-size="2.2">2</tspan></text>
<path d="M28.00,322.9v1.6M31.84,322.9v1.6M34.08,322.9v1.6M35.68,322.9v1.6M36.91,322.9v1.6M37.92,322.9v1.6M38.78,322.9v1.6M39.51,322.9v1.6M40.17,322.9v1.6M40.75,322.9v1.6M44.59,322.9v1.6M46.83,322.9v1.6M48.43,322.9v1.6M49.66,322.9v1.6M50.67,322.9v1.6M51.53,322.9v1.6M52.26,322.9v1.6M52.92,322.9v1.6M53.50,322.9v1.6M57.34,322.9v1.6M59.58,322.9v1.6M61.18,322.9v1.6M62.41,322.9v1.6M63.42,322.9v1.6M64.28,322.9v1.6M65.01,322.9v1.6M65.67,322.9v1.6M66.25,322.9v1.6M70.09,322.9v1.6M72.33,322.9v1.6M73.93,322.9v1.6M20.10,319.90h3M20.10,309.85h3M20.10,299.81h3M20.10,289.76h3M20.10,279.71h3" stroke="#888" stroke-width="0.45" fill="none"/>
<g clip-path="url(#cG)">
<ellipse cx="42" cy="300" rx="9" ry="14" fill="#f8dada" opacity="0.45" transform="rotate(25 42 300)" filter="url(#b3)"/>
<path d="M48.2,302.6h0.3M33.3,301.9h0.3M36.1,295.4h0.3M50.1,315.4h0.3M39.4,301.1h0.3M37.9,301.0h0.3M30.0,304.7h0.3M44.6,297.7h0.3M27.3,324.3h0.3M41.1,297.5h0.3M40.3,296.9h0.3M47.5,312.8h0.3M43.2,307.5h0.3M44.7,278.4h0.3M48.6,313.8h0.3M42.2,306.1h0.3M43.2,303.8h0.3M49.5,282.6h0.3M45.4,305.1h0.3M46.9,308.6h0.3M37.7,307.5h0.3M45.0,299.7h0.3M41.4,298.2h0.3M41.9,298.2h0.3M36.2,331.6h0.3M36.7,312.5h0.3M42.8,268.7h0.3M39.6,300.2h0.3M42.9,288.8h0.3M38.7,296.0h0.3M44.4,300.5h0.3M35.9,296.2h0.3M55.2,299.7h0.3M38.3,312.1h0.3M39.2,295.6h0.3M55.3,322.5h0.3M38.0,302.8h0.3M42.0,304.6h0.3M46.2,301.7h0.3M31.9,288.0h0.3M48.6,291.4h0.3M33.8,315.3h0.3M46.2,297.9h0.3M38.6,312.7h0.3M36.3,286.9h0.3M39.6,297.2h0.3M43.8,297.6h0.3M42.3,304.1h0.3M37.2,294.1h0.3M33.0,301.9h0.3M41.0,309.5h0.3M38.6,295.7h0.3M27.9,296.5h0.3M30.3,301.3h0.3M47.0,310.1h0.3M45.0,306.9h0.3M40.5,312.4h0.3M41.7,324.5h0.3M36.9,309.5h0.3M45.7,309.3h0.3M48.9,292.7h0.3M52.5,298.4h0.3M41.4,293.6h0.3M49.5,296.1h0.3M42.6,309.3h0.3M44.0,300.3h0.3M40.4,316.3h0.3M43.4,292.4h0.3M41.8,293.5h0.3M41.1,300.9h0.3M21.4,309.0h0.3M38.6,296.8h0.3M37.7,279.9h0.3M34.6,302.0h0.3M54.8,289.6h0.3M37.2,317.0h0.3M36.4,310.2h0.3M47.8,295.8h0.3M50.8,300.6h0.3M45.9,300.5h0.3M40.0,303.7h0.3M57.3,292.1h0.3M34.5,300.6h0.3M48.9,304.2h0.3M38.7,307.1h0.3M55.7,299.7h0.3M33.0,295.8h0.3M52.2,293.7h0.3M45.3,314.6h0.3M50.5,297.9h0.3M31.1,304.9h0.3M40.8,309.8h0.3M45.6,273.1h0.3M45.0,315.1h0.3M40.3,302.1h0.3M41.8,310.9h0.3M42.9,297.9h0.3M31.6,309.1h0.3M56.6,273.4h0.3M46.5,299.0h0.3M36.0,294.7h0.3M35.8,295.3h0.3M36.4,305.9h0.3M43.0,284.0h0.3M43.8,289.1h0.3M47.5,303.4h0.3M35.0,290.4h0.3M42.0,302.6h0.3M30.9,296.4h0.3M39.8,312.5h0.3M49.5,305.1h0.3M35.3,295.9h0.3M49.9,296.8h0.3M53.9,298.3h0.3M31.5,306.9h0.3M40.0,305.5h0.3M39.9,302.4h0.3M30.5,317.9h0.3M46.7,303.8h0.3M41.6,311.7h0.3M37.9,303.0h0.3M45.6,298.6h0.3M37.9,298.9h0.3M41.8,298.5h0.3M29.4,297.9h0.3M45.8,305.6h0.3M49.3,315.6h0.3M42.5,296.0h0.3M46.7,301.2h0.3M31.3,299.3h0.3M41.0,300.1h0.3M45.1,306.5h0.3M57.8,302.5h0.3M40.1,305.4h0.3M41.3,297.2h0.3M59.0,295.4h0.3M51.4,288.6h0.3M52.0,287.2h0.3M30.0,309.5h0.3M51.2,308.7h0.3M20.7,303.9h0.3M48.1,294.0h0.3M45.2,290.4h0.3M41.8,301.9h0.3M39.6,310.3h0.3M46.9,281.8h0.3M39.7,288.5h0.3M41.5,298.1h0.3M36.1,314.8h0.3M46.6,293.6h0.3M43.6,294.4h0.3M38.1,307.3h0.3M32.0,305.8h0.3M47.1,321.6h0.3M51.9,308.6h0.3M25.3,316.5h0.3M40.7,304.9h0.3M43.6,293.7h0.3M51.6,292.6h0.3M31.1,303.8h0.3M43.1,294.5h0.3M39.3,316.9h0.3M40.8,301.0h0.3M41.7,312.8h0.3M45.8,312.0h0.3M35.6,305.7h0.3M49.0,288.2h0.3M47.5,311.6h0.3M50.9,306.5h0.3M46.9,304.5h0.3M39.3,311.4h0.3M39.9,308.5h0.3M36.8,313.6h0.3M52.9,290.5h0.3M50.7,311.7h0.3M41.3,296.1h0.3M54.2,309.6h0.3M42.8,309.7h0.3M31.1,316.5h0.3M58.4,302.4h0.3M55.8,292.1h0.3M39.6,302.5h0.3M40.0,308.1h0.3M43.0,307.4h0.3M39.9,305.2h0.3M30.5,318.5h0.3M37.4,314.0h0.3M43.3,302.0h0.3M46.1,291.2h0.3M53.4,312.7h0.3M44.7,299.4h0.3M51.4,303.9h0.3M41.3,296.9h0.3M50.5,310.2h0.3M43.7,297.0h0.3M48.9,309.3h0.3M36.3,309.8h0.3M51.6,297.0h0.3M44.8,315.9h0.3M45.9,290.8h0.3" stroke="#e66" stroke-width="0.7" opacity="0.35" fill="none"/>
<path d="M53.7,288.8h0.5M50.4,288.3h0.5M48.6,294.5h0.5M47.0,292.2h0.5M51.8,296.6h0.5M51.9,292.0h0.5M50.2,289.2h0.5M45.8,298.7h0.5M51.7,284.3h0.5M50.3,298.9h0.5M51.7,288.4h0.5M46.8,292.8h0.5M50.9,286.2h0.5M53.9,283.3h0.5M55.9,277.1h0.5M51.1,281.7h0.5M48.7,294.3h0.5M45.3,296.7h0.5M49.5,286.9h0.5M54.1,286.6h0.5M54.4,289.9h0.5M51.7,284.6h0.5M53.5,290.4h0.5M50.7,284.5h0.5M49.1,289.1h0.5M47.6,293.9h0.5M51.3,286.6h0.5M49.6,298.2h0.5M44.8,290.6h0.5M53.0,291.5h0.5M54.8,282.1h0.5M47.2,295.1h0.5M50.2,290.3h0.5M51.5,292.5h0.5M52.4,287.6h0.5M47.9,297.0h0.5M51.4,281.8h0.5M48.3,294.7h0.5M54.7,292.0h0.5M48.1,293.0h0.5M49.5,296.7h0.5M50.7,294.5h0.5M51.2,292.7h0.5M48.5,288.5h0.5M52.5,298.4h0.5M52.3,292.8h0.5M49.8,291.9h0.5M48.1,295.8h0.5M50.9,285.6h0.5M44.3,297.5h0.5M50.0,284.8h0.5M48.9,300.2h0.5M52.7,288.6h0.5M53.1,285.9h0.5M49.9,290.0h0.5M49.4,294.3h0.5M49.1,300.7h0.5M53.0,289.0h0.5M52.4,285.5h0.5M49.6,287.8h0.5M54.1,286.9h0.5M48.2,283.4h0.5M47.9,288.2h0.5M51.5,283.4h0.5M49.2,287.2h0.5M50.6,293.6h0.5M54.2,289.5h0.5M52.0,290.9h0.5M48.8,285.8h0.5M56.1,290.6h0.5M53.4,295.6h0.5M54.9,290.1h0.5M53.3,289.0h0.5M49.6,282.9h0.5M54.0,281.5h0.5M52.7,285.5h0.5M53.5,282.8h0.5M53.0,289.3h0.5M49.0,281.2h0.5M53.1,281.1h0.5M50.7,292.9h0.5M46.9,297.3h0.5M53.6,292.7h0.5M51.0,292.9h0.5M48.0,297.1h0.5M53.0,275.9h0.5M50.0,292.5h0.5M54.2,284.5h0.5M55.2,286.5h0.5M51.1,294.4h0.5M49.4,296.4h0.5M46.4,300.9h0.5M52.4,288.1h0.5M56.9,291.7h0.5M44.6,296.8h0.5M55.2,287.9h0.5M46.5,295.6h0.5M52.1,284.8h0.5M49.3,290.1h0.5M50.7,299.3h0.5M46.8,298.0h0.5M45.9,293.0h0.5M49.6,292.3h0.5M50.6,285.9h0.5M49.6,296.4h0.5M45.1,288.9h0.5M51.2,283.9h0.5M46.6,292.0h0.5M51.0,293.9h0.5M48.0,280.4h0.5M49.7,287.3h0.5M55.4,289.1h0.5M49.4,295.6h0.5M54.1,293.2h0.5M48.6,300.9h0.5M52.3,279.9h0.5M49.2,287.8h0.5M53.3,292.6h0.5M53.4,291.4h0.5M51.6,286.9h0.5" stroke="#5b3" stroke-width="0.9" opacity="0.9" fill="none"/>
<ellipse cx="50.5" cy="290.5" rx="2.8" ry="6.5" fill="#6c4" opacity="1" transform="rotate(15 50.5 290.5)" filter="url(#b05)"/>
<path d="M49,293.6 C52.5,295.5 51.5,303.5 48.2,310.5 C44.5,318.5 37,321.8 34.2,316.8 C31.5,311 37.5,298.5 49,293.6 Z" fill="#d81212" filter="url(#b05)"/>
<path d="M46,298 C48,300 46.5,306 43.5,311 C40.5,315 37.5,314 38,309.5 C39,304 42,300 46,298 Z" fill="#ee4a4a" opacity="0.8" filter="url(#b05)"/>
</g>
<text x="24.5" y="286.2" font-size="11" font-weight="bold" text-anchor="start" fill="#000" >G</text>
<text x="73.6" y="311" font-size="8.2" font-weight="bold" text-anchor="end" fill="#000"  textLength="13.3" lengthAdjust="spacingAndGlyphs">Dll4</text>
<text x="73.6" y="319.8" font-size="8.2" font-weight="bold" text-anchor="end" fill="#000"  textLength="21.6" lengthAdjust="spacingAndGlyphs">cDNA</text>
<text x="26.2" y="336.6" font-size="9" font-weight="bold" text-anchor="start" fill="#000"  textLength="41.3" lengthAdjust="spacingAndGlyphs"><tspan font-weight="normal">&#945;</tspan>-CD31 Ab</text>
<text x="105" y="336.6" font-size="9" font-weight="bold" text-anchor="start" fill="#000"  textLength="35" lengthAdjust="spacingAndGlyphs"><tspan font-weight="normal">&#945;</tspan>-Dll4 Ab</text>
<rect x="93.30" y="145.80" width="68.20" height="47.20" fill="#fff" stroke="#777" stroke-width="0.8"/>
<path d="M94.3,191.4h0.9M95.9,191.4h0.9M97.5,191.4h0.9M99.1,191.4h0.9M100.7,191.4h0.9M102.3,191.4h0.9M103.9,191.4h0.9M105.5,191.4h0.9M107.1,191.4h0.9M108.7,191.4h0.9M110.3,191.4h0.9M111.9,191.4h0.9M113.5,191.4h0.9M115.1,191.4h0.9M116.7,191.4h0.9M118.3,191.4h0.9M119.9,191.4h0.9M121.5,191.4h0.9M123.1,191.4h0.9M124.7,191.4h0.9M126.3,191.4h0.9M127.9,191.4h0.9M129.5,191.4h0.9M131.1,191.4h0.9M132.7,191.4h0.9M134.3,191.4h0.9M135.9,191.4h0.9M137.5,191.4h0.9M139.1,191.4h0.9M140.7,191.4h0.9M142.3,191.4h0.9M143.9,191.4h0.9M145.5,191.4h0.9M147.1,191.4h0.9M148.7,191.4h0.9M150.3,191.4h0.9M151.9,191.4h0.9M153.5,191.4h0.9M155.1,191.4h0.9M156.7,191.4h0.9M158.3,191.4h0.9M159.9,191.4h0.9" stroke="#999" stroke-width="1.2" fill="none"/>
<line x1="93.30" y1="190.60" x2="161.50" y2="190.60" stroke="#bbb" stroke-width="0.3" />
<text x="103.89999999999999" y="198.3" font-size="3.2" font-weight="normal" text-anchor="middle" fill="#555" >10<tspan baseline-shift="1.5" font-size="2.2">2</tspan></text>
<text x="123.69999999999999" y="198.3" font-size="3.2" font-weight="normal" text-anchor="middle" fill="#555" >10<tspan baseline-shift="1.5" font-size="2.2">2</tspan></text>
<text x="143.5" y="198.3" font-size="3.2" font-weight="normal" text-anchor="middle" fill="#555" >10<tspan baseline-shift="1.5" font-size="2.2">2</tspan></text>
<text x="91.3" y="187.0" font-size="2.6" font-weight="normal" text-anchor="end" fill="#666" >1000</text>
<text x="91.3" y="179.8" font-size="2.6" font-weight="normal" text-anchor="end" fill="#666" >1000</text>
<text x="91.3" y="172.6" font-size="2.6" font-weight="normal" text-anchor="end" fill="#666" >1000</text>
<text x="91.3" y="165.4" font-size="2.6" font-weight="normal" text-anchor="end" fill="#666" >1000</text>
<text x="91.3" y="158.2" font-size="2.6" font-weight="normal" text-anchor="end" fill="#666" >1000</text>
<text x="91.3" y="151.0" font-size="2.6" font-weight="normal" text-anchor="end" fill="#666" >1000</text>
<path d="M91.80,186.00h1.5M91.80,178.80h1.5M91.80,171.60h1.5M91.80,164.40h1.5M91.80,157.20h1.5M91.80,150.00h1.5" stroke="#888" stroke-width="0.45" fill="none"/>
<path d="M94.0,191.4 L94.0,191.4 L94.7,191.4 L95.4,191.4 L96.1,191.4 L96.8,191.4 L97.5,191.4 L98.2,191.4 L98.9,191.4 L99.6,191.4 L100.3,191.4 L101.0,191.4 L101.7,191.3 L102.4,191.3 L103.1,191.3 L103.8,191.2 L104.5,191.2 L105.2,191.1 L105.9,191.0 L106.6,190.9 L107.3,190.8 L108.0,190.6 L108.7,190.4 L109.4,190.2 L110.1,189.9 L110.8,189.7 L111.5,189.3 L112.2,189.0 L112.9,188.7 L113.6,188.3 L114.3,188.0 L115.0,187.6 L115.7,187.3 L116.4,187.0 L117.1,186.8 L117.8,186.6 L118.5,186.5 L119.2,186.4 L119.9,186.4 L120.6,186.5 L121.3,186.6 L122.0,186.8 L122.7,187.1 L123.4,187.4 L124.1,187.7 L124.8,188.0 L125.5,188.4 L126.2,188.7 L126.9,189.1 L127.6,189.4 L128.3,189.7 L129.0,190.0 L129.7,190.2 L130.4,190.4 L131.1,190.6 L131.8,190.8 L132.5,190.9 L133.2,191.0 L133.9,191.1 L133.9,191.4 Z" fill="#e25858" fill-opacity="0.9" stroke="#c84040" stroke-width="0.4"/>
<path d="M121.0,191.4 L121.0,191.4 L121.7,191.4 L122.4,191.3 L123.1,191.3 L123.8,191.2 L124.5,191.0 L125.2,190.7 L125.9,190.2 L126.6,189.4 L127.3,188.2 L128.0,186.5 L128.7,184.2 L129.4,181.1 L130.1,177.2 L130.8,172.7 L131.5,167.6 L132.2,162.3 L132.9,157.1 L133.6,152.4 L134.3,148.8 L135.0,146.5 L135.7,145.9 L136.4,146.5 L137.1,148.0 L137.8,150.3 L138.5,153.3 L139.2,156.8 L139.9,160.6 L140.6,164.6 L141.3,168.5 L142.0,172.3 L142.7,175.7 L143.4,178.8 L144.1,181.5 L144.8,183.8 L145.5,185.7 L146.2,187.2 L146.9,188.4 L147.6,189.2 L148.3,189.9 L149.0,190.4 L149.7,190.7 L150.4,191.0 L151.1,191.1 L151.8,191.2 L152.5,191.3 L153.2,191.3 L153.9,191.4 L154.6,191.4 L155.3,191.4 L156.0,191.4 L156.7,191.4 L157.4,191.4 L158.1,191.4 L158.8,191.4 L159.5,191.4 L159.5,191.4 Z" fill="#7ccc5c" fill-opacity="0.9" stroke="#5aaa3a" stroke-width="0.4"/>
<text x="96" y="159.2" font-size="11" font-weight="bold" text-anchor="start" fill="#000" >E'</text>
<text x="160.6" y="155.4" font-size="7.8" font-weight="bold" text-anchor="end" fill="#000"  textLength="12.6" lengthAdjust="spacingAndGlyphs">Scr</text>
<text transform="translate(83.7 181) rotate(-90)" font-size="6.4" font-weight="bold" fill="#000" text-anchor="start" textLength="20" lengthAdjust="spacingAndGlyphs">Counts</text>
<rect x="93.30" y="209.80" width="68.20" height="47.90" fill="#fff" stroke="#777" stroke-width="0.8"/>
<path d="M94.3,256.09999999999997h0.9M95.9,256.09999999999997h0.9M97.5,256.09999999999997h0.9M99.1,256.09999999999997h0.9M100.7,256.09999999999997h0.9M102.3,256.09999999999997h0.9M103.9,256.09999999999997h0.9M105.5,256.09999999999997h0.9M107.1,256.09999999999997h0.9M108.7,256.09999999999997h0.9M110.3,256.09999999999997h0.9M111.9,256.09999999999997h0.9M113.5,256.09999999999997h0.9M115.1,256.09999999999997h0.9M116.7,256.09999999999997h0.9M118.3,256.09999999999997h0.9M119.9,256.09999999999997h0.9M121.5,256.09999999999997h0.9M123.1,256.09999999999997h0.9M124.7,256.09999999999997h0.9M126.3,256.09999999999997h0.9M127.9,256.09999999999997h0.9M129.5,256.09999999999997h0.9M131.1,256.09999999999997h0.9M132.7,256.09999999999997h0.9M134.3,256.09999999999997h0.9M135.9,256.09999999999997h0.9M137.5,256.09999999999997h0.9M139.1,256.09999999999997h0.9M140.7,256.09999999999997h0.9M142.3,256.09999999999997h0.9M143.9,256.09999999999997h0.9M145.5,256.09999999999997h0.9M147.1,256.09999999999997h0.9M148.7,256.09999999999997h0.9M150.3,256.09999999999997h0.9M151.9,256.09999999999997h0.9M153.5,256.09999999999997h0.9M155.1,256.09999999999997h0.9M156.7,256.09999999999997h0.9M158.3,256.09999999999997h0.9M159.9,256.09999999999997h0.9" stroke="#999" stroke-width="1.2" fill="none"/>
<line x1="93.30" y1="255.30" x2="161.50" y2="255.30" stroke="#bbb" stroke-width="0.3" />
<text x="103.89999999999999" y="263.0" font-size="3.2" font-weight="normal" text-anchor="middle" fill="#555" >10<tspan baseline-shift="1.5" font-size="2.2">2</tspan></text>
<text x="123.69999999999999" y="263.0" font-size="3.2" font-weight="normal" text-anchor="middle" fill="#555" >10<tspan baseline-shift="1.5" font-size="2.2">2</tspan></text>
<text x="143.5" y="263.0" font-size="3.2" font-weight="normal" text-anchor="middle" fill="#555" >10<tspan baseline-shift="1.5" font-size="2.2">2</tspan></text>
<text x="91.3" y="251.7" font-size="2.6" font-weight="normal" text-anchor="end" fill="#666" >1000</text>
<text x="91.3" y="244.5" font-size="2.6" font-weight="normal" text-anchor="end" fill="#666" >1000</text>
<text x="91.3" y="237.29999999999998" font-size="2.6" font-weight="normal" text-anchor="end" fill="#666" >1000</text>
<text x="91.3" y="230.1" font-size="2.6" font-weight="normal" text-anchor="end" fill="#666" >1000</text>
<text x="91.3" y="222.89999999999998" font-size="2.6" font-weight="normal" text-anchor="end" fill="#666" >1000</text>
<text x="91.3" y="215.7" font-size="2.6" font-weight="normal" text-anchor="end" fill="#666" >1000</text>
<path d="M91.80,250.70h1.5M91.80,243.50h1.5M91.80,236.30h1.5M91.80,229.10h1.5M91.80,221.90h1.5M91.80,214.70h1.5" stroke="#888" stroke-width="0.45" fill="none"/>
<path d="M94.0,256 L94.0,255.9 L94.5,255.9 L95.0,255.8 L95.5,255.8 L96.0,255.8 L96.5,255.7 L97.0,255.7 L97.5,255.6 L98.0,255.5 L98.5,255.4 L99.0,255.3 L99.5,255.2 L100.0,255.1 L100.5,254.8 L101.0,254.7 L101.5,254.6 L102.0,254.2 L102.5,253.9 L103.0,253.7 L103.5,253.4 L104.0,253.2 L104.5,252.9 L105.0,252.3 L105.5,252.1 L106.0,251.5 L106.5,251.0 L107.0,250.6 L107.5,249.7 L108.0,249.1 L108.5,248.1 L109.0,247.7 L109.5,246.9 L110.0,246.3 L110.5,245.4 L111.0,244.9 L111.5,244.4 L112.0,242.5 L112.5,241.7 L113.0,241.1 L113.5,240.6 L114.0,240.6 L114.5,240.1 L115.0,239.3 L115.5,239.2 L116.0,237.1 L116.5,237.4 L117.0,235.9 L117.5,236.6 L118.0,234.9 L118.5,234.9 L119.0,236.8 L119.5,236.2 L120.0,234.5 L120.5,235.9 L121.0,235.4 L121.5,237.7 L122.0,239.6 L122.5,239.8 L123.0,241.1 L123.5,243.6 L124.0,245.4 L124.5,246.7 L125.0,247.5 L125.5,249.1 L126.0,250.8 L126.5,251.8 L127.0,252.8 L127.5,253.5 L128.0,253.9 L128.5,254.6 L129.0,254.9 L129.5,255.2 L130.0,255.5 L130.5,255.6 L131.0,255.7 L131.5,255.8 L132.0,255.9 L132.5,255.9 L133.0,256.0 L133.5,256.0 L134.0,256.0 L134.5,256.0 L135.0,256.0 L135.5,256.0 L136.0,256.0 L136.5,256.0 L137.0,256.0 L137.5,256.0 L138.0,256.0 L138.5,256.0 L139.0,256.0 L139.5,256.0 L140.0,256.0 L140.5,256.0 L141.0,256.0 L141.5,256.0 L142.0,256.0 L142.5,256.0 L143.0,256.0 L143.5,256.0 L144.0,256.0 L144.5,256.0 L145.0,256.0 L145.5,256.0 L146.0,256.0 L146.5,256.0 L147.0,256.0 L147.5,256.0 L148.0,256.0 L148.5,256.0 L149.0,256.0 L149.5,256.0 L150.0,256.0 L150.5,256.0 L151.0,256.0 L151.5,256.0 L152.0,256.0 L152.5,256.0 L153.0,256.0 L153.5,256.0 L154.0,256.0 L154.5,256.0 L155.0,256.0 L155.5,256.0 L156.0,256.0 L156.5,256.0 L157.0,256.0 L157.5,256.0 L158.0,256.0 L158.5,256.0 L159.0,256.0 L159.5,256.0 L160.0,256.0 L160.0,256 Z" fill="#e25858" fill-opacity="0.9" stroke="#c84040" stroke-width="0.4"/>
<path d="M94.0,256 L94.0,256.0 L94.5,256.0 L95.0,256.0 L95.5,256.0 L96.0,256.0 L96.5,256.0 L97.0,256.0 L97.5,256.0 L98.0,256.0 L98.5,256.0 L99.0,256.0 L99.5,256.0 L100.0,256.0 L100.5,256.0 L101.0,256.0 L101.5,256.0 L102.0,256.0 L102.5,256.0 L103.0,256.0 L103.5,256.0 L104.0,256.0 L104.5,256.0 L105.0,256.0 L105.5,256.0 L106.0,256.0 L106.5,256.0 L107.0,256.0 L107.5,256.0 L108.0,256.0 L108.5,256.0 L109.0,256.0 L109.5,256.0 L110.0,256.0 L110.5,256.0 L111.0,256.0 L111.5,256.0 L112.0,256.0 L112.5,256.0 L113.0,256.0 L113.5,256.0 L114.0,256.0 L114.5,256.0 L115.0,256.0 L115.5,256.0 L116.0,256.0 L116.5,256.0 L117.0,255.9 L117.5,255.9 L118.0,255.8 L118.5,255.7 L119.0,255.5 L119.5,255.3 L120.0,254.9 L120.5,254.4 L121.0,253.6 L121.5,252.6 L122.0,251.3 L122.5,249.6 L123.0,247.5 L123.5,244.9 L124.0,241.9 L124.5,238.4 L125.0,234.7 L125.5,230.6 L126.0,226.6 L126.5,222.6 L127.0,219.0 L127.5,215.9 L128.0,213.5 L128.5,212.0 L129.0,211.5 L129.5,211.8 L130.0,212.7 L130.5,214.1 L131.0,216.1 L131.5,218.4 L132.0,221.1 L132.5,224.0 L133.0,227.1 L133.5,230.3 L134.0,233.4 L134.5,236.4 L135.0,239.2 L135.5,241.8 L136.0,244.2 L136.5,246.3 L137.0,248.1 L137.5,249.7 L138.0,251.0 L138.5,252.1 L139.0,253.0 L139.5,253.7 L140.0,254.3 L140.5,254.8 L141.0,255.1 L141.5,255.3 L142.0,255.5 L142.5,255.7 L143.0,255.8 L143.5,255.8 L144.0,255.9 L144.5,255.9 L145.0,256.0 L145.5,256.0 L146.0,256.0 L146.5,256.0 L147.0,256.0 L147.5,256.0 L148.0,256.0 L148.5,256.0 L149.0,256.0 L149.5,256.0 L150.0,256.0 L150.5,256.0 L151.0,256.0 L151.5,256.0 L152.0,256.0 L152.5,256.0 L153.0,256.0 L153.5,256.0 L154.0,256.0 L154.5,256.0 L155.0,256.0 L155.5,256.0 L156.0,256.0 L156.5,256.0 L157.0,256.0 L157.5,256.0 L158.0,256.0 L158.5,256.0 L159.0,256.0 L159.5,256.0 L160.0,256.0 L160.0,256 Z" fill="#7ccc5c" fill-opacity="0.85" stroke="#5aaa3a" stroke-width="0.4"/>
<path d="M117.0,256 L117.0,255.9 L117.5,255.9 L118.0,255.8 L118.5,255.7 L119.0,255.5 L119.5,255.3 L120.0,254.9 L120.5,254.4 L121.0,253.6 L121.5,252.6 L122.0,251.3 L122.5,249.6 L123.0,247.5 L123.5,244.9 L124.0,245.4 L124.5,246.7 L125.0,247.5 L125.5,249.1 L126.0,250.8 L126.5,251.8 L127.0,252.8 L127.5,253.5 L128.0,253.9 L128.5,254.6 L129.0,254.9 L129.5,255.2 L130.0,255.5 L130.5,255.6 L131.0,255.7 L131.5,255.8 L132.0,255.9 L132.5,255.9 L132.5,256 Z" fill="#9a4428" fill-opacity="0.85" stroke="#8a3a20" stroke-width="0.4"/>
<text x="96" y="222" font-size="11" font-weight="bold" text-anchor="start" fill="#000" >F'</text>
<text x="159.6" y="219.4" font-size="7.8" font-weight="bold" text-anchor="end" fill="#000"  textLength="26" lengthAdjust="spacingAndGlyphs">shRNA</text>
<text transform="translate(83.7 244) rotate(-90)" font-size="6.4" font-weight="bold" fill="#000" text-anchor="start" textLength="20" lengthAdjust="spacingAndGlyphs">Counts</text>
<rect x="93.30" y="273.70" width="69.20" height="49.00" fill="#fff" stroke="#777" stroke-width="0.8"/>
<path d="M94.3,321.09999999999997h0.9M95.9,321.09999999999997h0.9M97.5,321.09999999999997h0.9M99.1,321.09999999999997h0.9M100.7,321.09999999999997h0.9M102.3,321.09999999999997h0.9M103.9,321.09999999999997h0.9M105.5,321.09999999999997h0.9M107.1,321.09999999999997h0.9M108.7,321.09999999999997h0.9M110.3,321.09999999999997h0.9M111.9,321.09999999999997h0.9M113.5,321.09999999999997h0.9M115.1,321.09999999999997h0.9M116.7,321.09999999999997h0.9M118.3,321.09999999999997h0.9M119.9,321.09999999999997h0.9M121.5,321.09999999999997h0.9M123.1,321.09999999999997h0.9M124.7,321.09999999999997h0.9M126.3,321.09999999999997h0.9M127.9,321.09999999999997h0.9M129.5,321.09999999999997h0.9M131.1,321.09999999999997h0.9M132.7,321.09999999999997h0.9M134.3,321.09999999999997h0.9M135.9,321.09999999999997h0.9M137.5,321.09999999999997h0.9M139.1,321.09999999999997h0.9M140.7,321.09999999999997h0.9M142.3,321.09999999999997h0.9M143.9,321.09999999999997h0.9M145.5,321.09999999999997h0.9M147.1,321.09999999999997h0.9M148.7,321.09999999999997h0.9M150.3,321.09999999999997h0.9M151.9,321.09999999999997h0.9M153.5,321.09999999999997h0.9M155.1,321.09999999999997h0.9M156.7,321.09999999999997h0.9M158.3,321.09999999999997h0.9M159.9,321.09999999999997h0.9M161.5,321.09999999999997h0.9" stroke="#999" stroke-width="1.2" fill="none"/>
<line x1="93.30" y1="320.30" x2="162.50" y2="320.30" stroke="#bbb" stroke-width="0.3" />
<text x="103.89999999999999" y="328.0" font-size="3.2" font-weight="normal" text-anchor="middle" fill="#555" >10<tspan baseline-shift="1.5" font-size="2.2">2</tspan></text>
<text x="123.69999999999999" y="328.0" font-size="3.2" font-weight="normal" text-anchor="middle" fill="#555" >10<tspan baseline-shift="1.5" font-size="2.2">2</tspan></text>
<text x="143.5" y="328.0" font-size="3.2" font-weight="normal" text-anchor="middle" fill="#555" >10<tspan baseline-shift="1.5" font-size="2.2">2</tspan></text>
<text x="91.3" y="316.7" font-size="2.6" font-weight="normal" text-anchor="end" fill="#666" >1000</text>
<text x="91.3" y="309.5" font-size="2.6" font-weight="normal" text-anchor="end" fill="#666" >1000</text>
<text x="91.3" y="302.3" font-size="2.6" font-weight="normal" text-anchor="end" fill="#666" >1000</text>
<text x="91.3" y="295.09999999999997" font-size="2.6" font-weight="normal" text-anchor="end" fill="#666" >1000</text>
<text x="91.3" y="287.9" font-size="2.6" font-weight="normal" text-anchor="end" fill="#666" >1000</text>
<text x="91.3" y="280.7" font-size="2.6" font-weight="normal" text-anchor="end" fill="#666" >1000</text>
<path d="M91.80,315.70h1.5M91.80,308.50h1.5M91.80,301.30h1.5M91.80,294.10h1.5M91.80,286.90h1.5M91.80,279.70h1.5" stroke="#888" stroke-width="0.45" fill="none"/>
<path d="M110.0,321 L110.0,321.0 L110.6,321.0 L111.2,321.0 L111.8,321.0 L112.4,321.0 L113.0,321.0 L113.6,321.0 L114.2,321.0 L114.8,321.0 L115.4,321.0 L116.0,321.0 L116.6,321.0 L117.2,321.0 L117.8,321.0 L118.4,321.0 L119.0,321.0 L119.6,321.0 L120.2,321.0 L120.8,321.0 L121.4,321.0 L122.0,321.0 L122.6,321.0 L123.2,321.0 L123.8,321.0 L124.4,320.9 L125.0,320.8 L125.6,320.7 L126.2,320.4 L126.8,320.4 L127.4,320.3 L128.0,319.9 L128.6,319.7 L129.2,319.8 L129.8,319.3 L130.4,319.4 L131.0,319.1 L131.6,319.2 L132.2,318.4 L132.8,318.3 L133.4,317.7 L134.0,317.4 L134.6,317.6 L135.2,317.0 L135.8,316.8 L136.4,316.1 L137.0,315.5 L137.6,313.9 L138.2,311.7 L138.8,312.5 L139.4,308.3 L140.0,308.0 L140.6,306.2 L141.2,300.7 L141.8,300.4 L142.4,299.2 L143.0,295.0 L143.6,290.0 L144.2,294.4 L144.8,280.9 L145.4,290.5 L146.0,278.7 L146.6,275.3 L147.2,286.2 L147.8,273.7 L148.4,279.9 L149.0,276.6 L149.6,285.5 L150.2,287.9 L150.8,286.2 L151.4,275.7 L152.0,286.7 L152.6,279.6 L153.2,277.9 L153.8,278.5 L154.4,287.0 L155.0,287.6 L155.6,286.3 L156.2,284.2 L156.8,293.0 L157.4,286.6 L158.0,287.2 L158.6,287.7 L159.2,297.3 L159.8,289.3 L160.4,298.6 L161.0,297.3 L161.6,296.0 L161.6,321 Z" fill="#e25858" fill-opacity="0.9" stroke="#c84040" stroke-width="0.4"/>
<path d="M110.0,321 L110.0,321.0 L110.6,321.0 L111.2,321.0 L111.8,321.0 L112.4,321.0 L113.0,321.0 L113.6,321.0 L114.2,321.0 L114.8,321.0 L115.4,321.0 L116.0,321.0 L116.6,321.0 L117.2,321.0 L117.8,321.0 L118.4,321.0 L119.0,321.0 L119.6,321.0 L120.2,321.0 L120.8,321.0 L121.4,321.0 L122.0,321.0 L122.6,321.0 L123.2,321.0 L123.8,321.0 L124.4,321.0 L125.0,321.0 L125.6,321.0 L126.2,321.0 L126.8,320.9 L127.4,320.9 L128.0,320.9 L128.6,320.9 L129.2,320.9 L129.8,320.9 L130.4,320.8 L131.0,320.8 L131.6,320.7 L132.2,320.7 L132.8,320.6 L133.4,320.5 L134.0,320.5 L134.6,320.4 L135.2,320.3 L135.8,320.2 L136.4,320.1 L137.0,320.0 L137.6,319.9 L138.2,319.7 L138.8,319.3 L139.4,319.1 L140.0,319.1 L140.6,318.9 L141.2,318.8 L141.8,318.8 L142.4,318.5 L143.0,317.8 L143.6,317.5 L144.2,317.8 L144.8,317.1 L145.4,316.9 L146.0,316.8 L146.6,316.7 L147.2,316.4 L147.8,316.8 L148.4,316.2 L149.0,316.7 L149.6,316.3 L150.2,315.8 L150.8,315.9 L151.4,316.5 L152.0,315.6 L152.6,316.0 L153.2,316.1 L153.8,317.0 L154.4,316.3 L155.0,316.7 L155.6,316.2 L156.2,316.6 L156.8,316.2 L157.4,316.5 L158.0,316.4 L158.6,317.0 L159.2,316.8 L159.8,316.8 L160.4,316.8 L161.0,317.4 L161.6,317.0 L161.6,321 Z" fill="#6aa640" fill-opacity="0.95" stroke="#6aa640" stroke-width="0.4"/>
<text x="96" y="286.2" font-size="11" font-weight="bold" text-anchor="start" fill="#000" >G'</text>
<text x="159.6" y="284" font-size="7.8" font-weight="bold" text-anchor="end" fill="#000"  textLength="21" lengthAdjust="spacingAndGlyphs">cDNA</text>
<text transform="translate(83.7 307) rotate(-90)" font-size="6.4" font-weight="bold" fill="#000" text-anchor="start" textLength="21" lengthAdjust="spacingAndGlyphs">Counts</text>
<text x="178.6" y="158.9" font-size="11" font-weight="bold" text-anchor="start" fill="#000" >H</text>
<rect x="200.30" y="140.30" width="7.20" height="7.20" fill="#fff" stroke="#555" stroke-width="0.5"/>
<text x="212.7" y="147.60000000000002" font-size="9.6" font-weight="bold" text-anchor="start" fill="#000"  textLength="105.1" lengthAdjust="spacingAndGlyphs">- hESC-ECs + Scr shRNA</text>
<rect x="200.30" y="150.75" width="7.20" height="7.20" fill="#000" stroke="#555" stroke-width="0.5"/>
<text x="212.7" y="158.05" font-size="9.6" font-weight="bold" text-anchor="start" fill="#000"  textLength="107.6" lengthAdjust="spacingAndGlyphs">- hESC-ECs + Dll4 shRNA</text>
<rect x="200.30" y="161.20" width="7.20" height="7.20" fill="#999" stroke="#555" stroke-width="0.5"/>
<text x="212.7" y="168.50000000000003" font-size="9.6" font-weight="bold" text-anchor="start" fill="#000"  textLength="110.1" lengthAdjust="spacingAndGlyphs">- hESC-Crude + Dll4 cDNA</text>
<rect x="195.00" y="175.00" width="144.00" height="148.80" fill="#dfdfdf" />
<line x1="195.00" y1="177.00" x2="339.50" y2="177.00" stroke="#c4c4c4" stroke-width="0.8" />
<line x1="195.00" y1="226.30" x2="339.50" y2="226.30" stroke="#c4c4c4" stroke-width="0.8" />
<line x1="195.00" y1="275.30" x2="339.50" y2="275.30" stroke="#c4c4c4" stroke-width="0.8" />
<text x="193.8" y="180.2" font-size="8.2" font-weight="normal" text-anchor="end" fill="#000"  textLength="11.6" lengthAdjust="spacingAndGlyphs">10<tspan baseline-shift="3.8" font-size="5.4">5</tspan></text>
<text x="193.8" y="229.4" font-size="8.2" font-weight="normal" text-anchor="end" fill="#000"  textLength="11.6" lengthAdjust="spacingAndGlyphs">10<tspan baseline-shift="3.8" font-size="5.4">4</tspan></text>
<text x="193.8" y="278.5" font-size="8.2" font-weight="normal" text-anchor="end" fill="#000"  textLength="11.6" lengthAdjust="spacingAndGlyphs">10<tspan baseline-shift="3.8" font-size="5.4">3</tspan></text>
<text x="193.8" y="325" font-size="8.2" font-weight="normal" text-anchor="end" fill="#000"  textLength="11.6" lengthAdjust="spacingAndGlyphs">10<tspan baseline-shift="3.8" font-size="5.4">2</tspan></text>
<text transform="translate(181.3 284.2) rotate(-90)" font-size="12" font-weight="bold" fill="#000" text-anchor="start" textLength="75.2" lengthAdjust="spacingAndGlyphs">Dll4-a647 MFI</text>
<polyline points="219,202.8 267.6,182.7 315.3,178.2" fill="none" stroke="#8a8a8a" stroke-width="1.3"/>
<line x1="219.00" y1="200.90" x2="219.00" y2="204.70" stroke="#8a8a8a" stroke-width="0.9" />
<line x1="267.60" y1="180.80" x2="267.60" y2="184.60" stroke="#8a8a8a" stroke-width="0.9" />
<line x1="315.30" y1="176.30" x2="315.30" y2="180.10" stroke="#8a8a8a" stroke-width="0.9" />
<polyline points="219,254.5 266.5,259.7 315.3,243.9" fill="none" stroke="#ffffff" stroke-width="1.9"/>
<line x1="219.00" y1="252.60" x2="219.00" y2="256.40" stroke="#ffffff" stroke-width="0.9" />
<line x1="266.50" y1="257.80" x2="266.50" y2="261.60" stroke="#ffffff" stroke-width="0.9" />
<line x1="315.30" y1="242.00" x2="315.30" y2="245.80" stroke="#ffffff" stroke-width="0.9" />
<polyline points="219,256.5 266.5,275.3 315.3,265.2" fill="none" stroke="#000000" stroke-width="1.8"/>
<line x1="219.00" y1="254.60" x2="219.00" y2="258.40" stroke="#000000" stroke-width="0.9" />
<line x1="266.50" y1="273.40" x2="266.50" y2="277.20" stroke="#000000" stroke-width="0.9" />
<line x1="315.30" y1="263.30" x2="315.30" y2="267.10" stroke="#000000" stroke-width="0.9" />
<text x="202.5" y="337.5" font-size="12.4" font-weight="bold" text-anchor="start" fill="#000"  textLength="33.8" lengthAdjust="spacingAndGlyphs">d14+2</text>
<text x="251" y="337.5" font-size="12.4" font-weight="bold" text-anchor="start" fill="#000"  textLength="33.8" lengthAdjust="spacingAndGlyphs">d14+4</text>
<text x="298.7" y="337.5" font-size="12.4" font-weight="bold" text-anchor="start" fill="#000"  textLength="33.8" lengthAdjust="spacingAndGlyphs">d14+6</text>
<text x="352.5" y="158" font-size="10.5" font-weight="bold" text-anchor="start" fill="#000" >I</text>
<line x1="383.60" y1="171.30" x2="518.00" y2="171.30" stroke="#e6e6e6" stroke-width="0.5" />
<text x="382.6" y="173.1" font-size="5.3" font-weight="normal" text-anchor="end" fill="#222" >25</text>
<line x1="383.60" y1="161.40" x2="518.00" y2="161.40" stroke="#e6e6e6" stroke-width="0.5" />
<text x="382.6" y="163.2" font-size="5.3" font-weight="normal" text-anchor="end" fill="#222" >50</text>
<line x1="383.60" y1="151.50" x2="518.00" y2="151.50" stroke="#e6e6e6" stroke-width="0.5" />
<text x="382.6" y="153.3" font-size="5.3" font-weight="normal" text-anchor="end" fill="#222" >75</text>
<line x1="383.60" y1="141.60" x2="518.00" y2="141.60" stroke="#e6e6e6" stroke-width="0.5" />
<text x="382.6" y="143.4" font-size="5.3" font-weight="normal" text-anchor="end" fill="#222" >100</text>
<text transform="translate(374.4 180.4) rotate(-90)" font-size="6.6" font-weight="normal" fill="#000" text-anchor="start" textLength="39.5" lengthAdjust="spacingAndGlyphs">Numberof cells</text>
<rect x="384.60" y="168.70" width="9.10" height="12.50" fill="#1a1a1a" />
<line x1="389.15" y1="164.80" x2="389.15" y2="168.70" stroke="#222" stroke-width="0.6" />
<line x1="387.90" y1="164.80" x2="390.40" y2="164.80" stroke="#222" stroke-width="0.6" />
<rect x="398.40" y="174.40" width="9.10" height="6.80" fill="#1a1a1a" />
<line x1="402.95" y1="171.50" x2="402.95" y2="174.40" stroke="#222" stroke-width="0.6" />
<line x1="401.70" y1="171.50" x2="404.20" y2="171.50" stroke="#222" stroke-width="0.6" />
<rect x="412.10" y="170.00" width="9.10" height="11.20" fill="#1a1a1a" />
<line x1="416.65" y1="165.00" x2="416.65" y2="170.00" stroke="#222" stroke-width="0.6" />
<line x1="415.40" y1="165.00" x2="417.90" y2="165.00" stroke="#222" stroke-width="0.6" />
<rect x="425.70" y="165.20" width="9.10" height="16.00" fill="#1a1a1a" />
<line x1="430.25" y1="160.00" x2="430.25" y2="165.20" stroke="#222" stroke-width="0.6" />
<line x1="429.00" y1="160.00" x2="431.50" y2="160.00" stroke="#222" stroke-width="0.6" />
<rect x="439.30" y="166.30" width="9.10" height="14.90" fill="#1a1a1a" />
<line x1="443.85" y1="164.20" x2="443.85" y2="166.30" stroke="#222" stroke-width="0.6" />
<line x1="442.60" y1="164.20" x2="445.10" y2="164.20" stroke="#222" stroke-width="0.6" />
<rect x="452.80" y="155.80" width="9.10" height="25.40" fill="#1a1a1a" />
<line x1="457.35" y1="148.80" x2="457.35" y2="155.80" stroke="#222" stroke-width="0.6" />
<line x1="456.10" y1="148.80" x2="458.60" y2="148.80" stroke="#222" stroke-width="0.6" />
<rect x="466.60" y="164.20" width="9.10" height="17.00" fill="#1a1a1a" />
<line x1="471.15" y1="163.50" x2="471.15" y2="164.20" stroke="#222" stroke-width="0.6" />
<line x1="469.90" y1="163.50" x2="472.40" y2="163.50" stroke="#222" stroke-width="0.6" />
<rect x="480.20" y="154.80" width="9.10" height="26.40" fill="#1a1a1a" />
<line x1="484.75" y1="152.00" x2="484.75" y2="154.80" stroke="#222" stroke-width="0.6" />
<line x1="483.50" y1="152.00" x2="486.00" y2="152.00" stroke="#222" stroke-width="0.6" />
<rect x="493.80" y="157.50" width="9.10" height="23.70" fill="#1a1a1a" />
<line x1="498.35" y1="152.00" x2="498.35" y2="157.50" stroke="#222" stroke-width="0.6" />
<line x1="497.10" y1="152.00" x2="499.60" y2="152.00" stroke="#222" stroke-width="0.6" />
<rect x="507.00" y="163.80" width="9.10" height="17.40" fill="#1a1a1a" />
<line x1="511.55" y1="161.00" x2="511.55" y2="163.80" stroke="#222" stroke-width="0.6" />
<line x1="510.30" y1="161.00" x2="512.80" y2="161.00" stroke="#222" stroke-width="0.6" />
<path d="M389.4,190 L389.4,186.5 L444.2,186.5 L444.2,190" fill="none" stroke="#cc2222" stroke-width="0.6"/>
<circle cx="416.3" cy="186.5" r="0.9" fill="#cc2222"/>
<path d="M389.4,192.7 L389.4,189.6 L402.9,189.6 L402.9,192.7" fill="none" stroke="#cc2222" stroke-width="0.6"/>
<circle cx="396" cy="189.6" r="0.9" fill="#cc2222"/>
<path d="M457.5,192.7 L457.5,189.6 L471,189.6 L471,192.7" fill="none" stroke="#cc2222" stroke-width="0.6"/>
<circle cx="463.8" cy="189.6" r="0.9" fill="#cc2222"/>
<path d="M472.5,192.7 L472.5,189.6 L484.4,189.6 L484.4,192.7" fill="none" stroke="#cc2222" stroke-width="0.6"/>
<circle cx="478.3" cy="189.6" r="0.9" fill="#cc2222"/>
<line x1="389.15" y1="196.50" x2="389.15" y2="204.60" stroke="#5a6ab0" stroke-width="0.55" />
<rect x="384.60" y="204.60" width="9.10" height="15.71" fill="#2244ee" />
<rect x="384.60" y="220.31" width="9.10" height="8.32" fill="#40902a" />
<rect x="384.60" y="228.62" width="9.10" height="8.32" fill="#f0d0d0" />
<rect x="384.60" y="236.94" width="9.10" height="13.86" fill="#ee2a0a" />
<rect x="384.60" y="250.20" width="9.10" height="0.60" fill="#6a1a10" />
<line x1="402.95" y1="197.50" x2="402.95" y2="204.60" stroke="#5a6ab0" stroke-width="0.55" />
<rect x="398.40" y="204.60" width="9.10" height="35.11" fill="#2244ee" />
<rect x="398.40" y="239.71" width="9.10" height="6.47" fill="#40902a" />
<rect x="398.40" y="246.18" width="9.10" height="1.85" fill="#f0d0d0" />
<rect x="398.40" y="248.03" width="9.10" height="2.77" fill="#ee2a0a" />
<rect x="398.40" y="250.20" width="9.10" height="0.60" fill="#6a1a10" />
<line x1="416.65" y1="198.50" x2="416.65" y2="204.60" stroke="#5a6ab0" stroke-width="0.55" />
<rect x="412.10" y="204.60" width="9.10" height="19.87" fill="#2244ee" />
<rect x="412.10" y="224.47" width="9.10" height="11.09" fill="#40902a" />
<rect x="412.10" y="235.55" width="9.10" height="2.77" fill="#f0d0d0" />
<rect x="412.10" y="238.33" width="9.10" height="12.47" fill="#ee2a0a" />
<rect x="412.10" y="250.20" width="9.10" height="0.60" fill="#6a1a10" />
<line x1="430.25" y1="196.50" x2="430.25" y2="204.60" stroke="#5a6ab0" stroke-width="0.55" />
<rect x="425.70" y="204.60" width="9.10" height="30.03" fill="#2244ee" />
<rect x="425.70" y="234.63" width="9.10" height="6.93" fill="#40902a" />
<rect x="425.70" y="241.56" width="9.10" height="2.31" fill="#f0d0d0" />
<rect x="425.70" y="243.87" width="9.10" height="6.93" fill="#ee2a0a" />
<rect x="425.70" y="250.20" width="9.10" height="0.60" fill="#6a1a10" />
<line x1="443.85" y1="197.50" x2="443.85" y2="204.60" stroke="#5a6ab0" stroke-width="0.55" />
<rect x="439.30" y="204.60" width="9.10" height="30.95" fill="#2244ee" />
<rect x="439.30" y="235.55" width="9.10" height="7.85" fill="#40902a" />
<rect x="439.30" y="243.41" width="9.10" height="2.77" fill="#f0d0d0" />
<rect x="439.30" y="246.18" width="9.10" height="4.62" fill="#ee2a0a" />
<rect x="439.30" y="250.20" width="9.10" height="0.60" fill="#6a1a10" />
<line x1="457.35" y1="198.50" x2="457.35" y2="204.60" stroke="#5a6ab0" stroke-width="0.55" />
<rect x="452.80" y="204.60" width="9.10" height="29.57" fill="#2244ee" />
<rect x="452.80" y="234.17" width="9.10" height="10.16" fill="#40902a" />
<rect x="452.80" y="244.33" width="9.10" height="5.08" fill="#f0d0d0" />
<rect x="452.80" y="249.41" width="9.10" height="1.39" fill="#ee2a0a" />
<rect x="452.80" y="250.20" width="9.10" height="0.60" fill="#6a1a10" />
<line x1="471.15" y1="196.50" x2="471.15" y2="204.60" stroke="#5a6ab0" stroke-width="0.55" />
<rect x="466.60" y="204.60" width="9.10" height="16.17" fill="#2244ee" />
<rect x="466.60" y="220.77" width="9.10" height="22.64" fill="#40902a" />
<rect x="466.60" y="243.41" width="9.10" height="2.77" fill="#f0d0d0" />
<rect x="466.60" y="246.18" width="9.10" height="4.62" fill="#ee2a0a" />
<rect x="466.60" y="250.20" width="9.10" height="0.60" fill="#6a1a10" />
<line x1="484.75" y1="197.50" x2="484.75" y2="204.60" stroke="#5a6ab0" stroke-width="0.55" />
<rect x="480.20" y="204.60" width="9.10" height="23.10" fill="#2244ee" />
<rect x="480.20" y="227.70" width="9.10" height="14.32" fill="#40902a" />
<rect x="480.20" y="242.02" width="9.10" height="6.47" fill="#f0d0d0" />
<rect x="480.20" y="248.49" width="9.10" height="2.31" fill="#ee2a0a" />
<rect x="480.20" y="250.20" width="9.10" height="0.60" fill="#6a1a10" />
<line x1="498.35" y1="198.50" x2="498.35" y2="204.60" stroke="#5a6ab0" stroke-width="0.55" />
<rect x="493.80" y="204.60" width="9.10" height="24.95" fill="#2244ee" />
<rect x="493.80" y="229.55" width="9.10" height="13.86" fill="#40902a" />
<rect x="493.80" y="243.41" width="9.10" height="4.16" fill="#f0d0d0" />
<rect x="493.80" y="247.57" width="9.10" height="3.23" fill="#ee2a0a" />
<rect x="493.80" y="250.20" width="9.10" height="0.60" fill="#6a1a10" />
<line x1="511.55" y1="196.50" x2="511.55" y2="204.60" stroke="#5a6ab0" stroke-width="0.55" />
<rect x="507.00" y="204.60" width="9.10" height="23.10" fill="#2244ee" />
<rect x="507.00" y="227.70" width="9.10" height="18.02" fill="#40902a" />
<rect x="507.00" y="245.72" width="9.10" height="3.23" fill="#f0d0d0" />
<rect x="507.00" y="248.95" width="9.10" height="1.85" fill="#ee2a0a" />
<rect x="507.00" y="250.20" width="9.10" height="0.60" fill="#6a1a10" />
<text x="382.6" y="243.36" font-size="5.3" font-weight="normal" text-anchor="end" fill="#222" >20</text>
<text x="382.6" y="234.12" font-size="5.3" font-weight="normal" text-anchor="end" fill="#222" >40</text>
<text x="382.6" y="224.88000000000002" font-size="5.3" font-weight="normal" text-anchor="end" fill="#222" >60</text>
<text x="382.6" y="215.64000000000001" font-size="5.3" font-weight="normal" text-anchor="end" fill="#222" >80</text>
<text x="382.6" y="206.4" font-size="5.3" font-weight="normal" text-anchor="end" fill="#222" >100</text>
<text transform="translate(374.4 247.2) rotate(-90)" font-size="6.6" font-weight="normal" fill="#000" text-anchor="start" textLength="49.5" lengthAdjust="spacingAndGlyphs">Percentage of cells</text>
<text x="349.6" y="258.7" font-size="6.6" font-weight="bold" text-anchor="start" fill="#000"  textLength="33" lengthAdjust="spacingAndGlyphs">Dll4 shRNA</text>
<text x="353.6" y="267.9" font-size="6.6" font-weight="bold" text-anchor="start" fill="#000"  textLength="29" lengthAdjust="spacingAndGlyphs">Dll4 cDNA</text>
<text x="348.8" y="278.3" font-size="6.6" font-weight="bold" text-anchor="start" fill="#000"  textLength="34" lengthAdjust="spacingAndGlyphs">25<tspan font-weight="normal">&#956;</tspan>M DAPT</text>
<rect x="387.15" y="255.50" width="4.00" height="1.60" fill="#000" />
<rect x="387.15" y="265.10" width="4.00" height="1.60" fill="#000" />
<rect x="387.15" y="275.40" width="4.00" height="1.60" fill="#000" />
<rect x="400.95" y="255.50" width="4.00" height="1.60" fill="#000" />
<rect x="400.95" y="265.10" width="4.00" height="1.60" fill="#000" />
<rect x="400.55" y="275.45" width="4.80" height="1.50" fill="#000" />
<rect x="402.20" y="273.80" width="1.50" height="4.80" fill="#000" />
<text x="416.65000000000003" y="258.8" font-size="7.4" font-weight="bold" text-anchor="middle" fill="#000" >2</text>
<rect x="414.65" y="265.10" width="4.00" height="1.60" fill="#000" />
<rect x="414.65" y="275.40" width="4.00" height="1.60" fill="#000" />
<text x="430.25" y="258.8" font-size="7.4" font-weight="bold" text-anchor="middle" fill="#000" >5</text>
<rect x="428.25" y="265.10" width="4.00" height="1.60" fill="#000" />
<rect x="428.25" y="275.40" width="4.00" height="1.60" fill="#000" />
<text x="443.85" y="258.8" font-size="7.4" font-weight="bold" text-anchor="middle" fill="#000" >10</text>
<rect x="441.85" y="265.10" width="4.00" height="1.60" fill="#000" />
<rect x="441.85" y="275.40" width="4.00" height="1.60" fill="#000" />
<rect x="455.35" y="255.50" width="4.00" height="1.60" fill="#000" />
<rect x="455.35" y="265.10" width="4.00" height="1.60" fill="#000" />
<rect x="455.35" y="275.40" width="4.00" height="1.60" fill="#000" />
<rect x="469.15" y="255.50" width="4.00" height="1.60" fill="#000" />
<text x="471.15000000000003" y="268.4" font-size="7.4" font-weight="bold" text-anchor="middle" fill="#000" >5</text>
<rect x="469.15" y="275.40" width="4.00" height="1.60" fill="#000" />
<rect x="482.75" y="255.50" width="4.00" height="1.60" fill="#000" />
<text x="484.75" y="268.4" font-size="7.4" font-weight="bold" text-anchor="middle" fill="#000" >5</text>
<rect x="482.35" y="275.45" width="4.80" height="1.50" fill="#000" />
<rect x="484.00" y="273.80" width="1.50" height="4.80" fill="#000" />
<rect x="496.35" y="255.50" width="4.00" height="1.60" fill="#000" />
<rect x="496.35" y="265.10" width="4.00" height="1.60" fill="#000" />
<rect x="496.35" y="275.40" width="4.00" height="1.60" fill="#000" />
<rect x="509.55" y="255.50" width="4.00" height="1.60" fill="#000" />
<rect x="509.55" y="265.10" width="4.00" height="1.60" fill="#000" />
<rect x="509.15" y="275.45" width="4.80" height="1.50" fill="#000" />
<rect x="510.80" y="273.80" width="1.50" height="4.80" fill="#000" />
<path d="M388.5,283.4 Q388.5,286.4 392.5,286.4 L413.35,286.4 Q416.35,286.4 416.35,288.9 Q416.35,286.4 419.35,286.4 L440.2,286.4 Q444.2,286.4 444.2,283.4" fill="none" stroke="#000" stroke-width="0.7"/>
<path d="M454.6,283.4 Q454.6,286.4 458.6,286.4 L467.45000000000005,286.4 Q470.45000000000005,286.4 470.45000000000005,288.9 Q470.45000000000005,286.4 473.45000000000005,286.4 L482.3,286.4 Q486.3,286.4 486.3,283.4" fill="none" stroke="#000" stroke-width="0.7"/>
<path d="M495,283.4 Q495,286.4 499,286.4 L501.6,286.4 Q504.6,286.4 504.6,288.9 Q504.6,286.4 507.6,286.4 L510.20000000000005,286.4 Q514.2,286.4 514.2,283.4" fill="none" stroke="#000" stroke-width="0.7"/>
<text x="417.5" y="295.2" font-size="6.3" font-weight="bold" text-anchor="middle" fill="#000"  textLength="29.6" lengthAdjust="spacingAndGlyphs">hESC-ECs</text>
<text x="417.5" y="300.6" font-size="6.3" font-weight="bold" text-anchor="middle" fill="#000"  textLength="28.5" lengthAdjust="spacingAndGlyphs">+/- shRNA</text>
<text x="470.9" y="295.2" font-size="6.3" font-weight="bold" text-anchor="middle" fill="#000"  textLength="17.5" lengthAdjust="spacingAndGlyphs">Crude</text>
<text x="470.9" y="300.6" font-size="6.3" font-weight="bold" text-anchor="middle" fill="#000"  textLength="25.5" lengthAdjust="spacingAndGlyphs">+/- cDNA</text>
<text x="505.4" y="295.2" font-size="6.3" font-weight="bold" text-anchor="middle" fill="#000"  textLength="24.5" lengthAdjust="spacingAndGlyphs">E4 ORF1</text>
<text x="505.4" y="300.6" font-size="6.3" font-weight="bold" text-anchor="middle" fill="#000"  textLength="11" lengthAdjust="spacingAndGlyphs">ECs</text>
<rect x="364.60" y="314.30" width="4.80" height="4.80" fill="#2244cc" stroke="#223" stroke-width="0.5"/>
<rect x="364.40" y="328.80" width="4.80" height="4.80" fill="#cc2233" stroke="#422" stroke-width="0.5"/>
<rect x="441.10" y="314.60" width="4.80" height="4.80" fill="#ead2d2" stroke="#655" stroke-width="0.5"/>
<rect x="441.30" y="328.80" width="4.80" height="4.80" fill="#44993a" stroke="#243" stroke-width="0.5"/>
<text x="382.7" y="312.5" font-size="8" font-weight="bold" text-anchor="start" fill="#000" font-style="italic" textLength="36.5" lengthAdjust="spacingAndGlyphs">Lineage<tspan baseline-shift="3" font-size="4.8">neg</tspan></text>
<text x="400.8" y="316.8" font-size="4" font-weight="bold" text-anchor="middle" fill="#333" >or</text>
<text x="375" y="324.2" font-size="8.2" font-weight="bold" text-anchor="start" fill="#000"  textLength="63" lengthAdjust="spacingAndGlyphs">CD71<tspan baseline-shift="3" font-size="5.8">+</tspan>/CD235<tspan baseline-shift="3" font-size="4.8">bright</tspan></text>
<text x="375" y="334.6" font-size="8.2" font-weight="bold" text-anchor="start" fill="#000"  textLength="59" lengthAdjust="spacingAndGlyphs">CD43<tspan baseline-shift="3" font-size="5.8">+</tspan>/CD45<tspan baseline-shift="3" font-size="4.8">bright</tspan></text>
<text x="451" y="319.4" font-size="8.2" font-weight="bold" text-anchor="start" fill="#000"  textLength="53.5" lengthAdjust="spacingAndGlyphs">CD15<tspan baseline-shift="3" font-size="5.8">+</tspan>/CD33<tspan baseline-shift="3" font-size="4.8">dim</tspan></text>
<text x="451.6" y="333.8" font-size="8.2" font-weight="bold" text-anchor="start" fill="#000"  textLength="53" lengthAdjust="spacingAndGlyphs">CD41a<tspan baseline-shift="3" font-size="5.8">+</tspan>/CD43<tspan baseline-shift="3" font-size="5.8">+</tspan></text>
</svg></body></html>
